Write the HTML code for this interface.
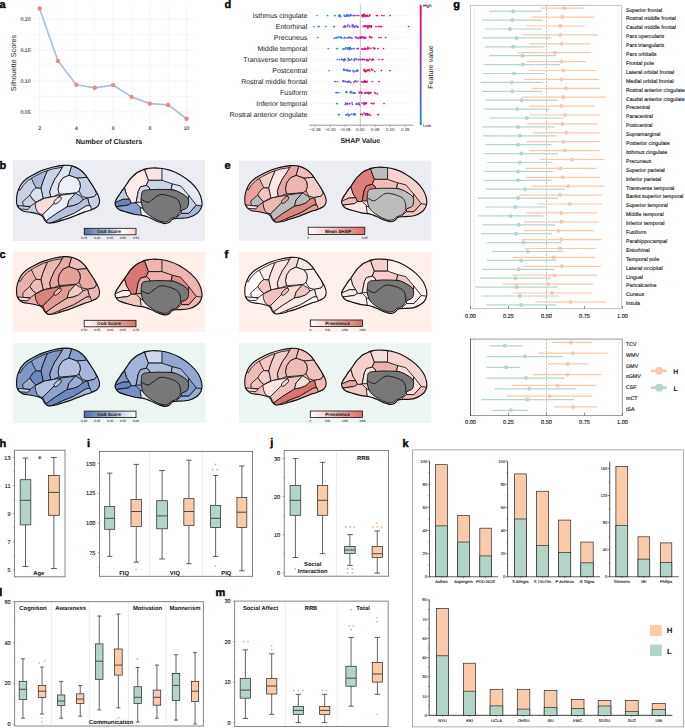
<!DOCTYPE html>
<html><head><meta charset="utf-8"><style>
html,body{margin:0;padding:0;background:#fff;}
svg{display:block;font-family:"Liberation Sans", sans-serif;text-rendering:geometricPrecision;}
</style></head><body>
<svg width="685" height="728" viewBox="0 0 685 728">
<rect x="0" y="0" width="685" height="728" fill="#fff"/>
<text x="-0.60" y="7.60" font-size="11" text-anchor="start" font-weight="bold" fill="#000" stroke="#000" stroke-width="0.35">a</text>
<line x1="57.98" y1="3.00" x2="57.98" y2="123.00" stroke="#f4f4f4" stroke-width="0.6" />
<line x1="94.72" y1="3.00" x2="94.72" y2="123.00" stroke="#f4f4f4" stroke-width="0.6" />
<line x1="131.47" y1="3.00" x2="131.47" y2="123.00" stroke="#f4f4f4" stroke-width="0.6" />
<line x1="168.22" y1="3.00" x2="168.22" y2="123.00" stroke="#f4f4f4" stroke-width="0.6" />
<line x1="33.00" y1="96.50" x2="194.00" y2="96.50" stroke="#f4f4f4" stroke-width="0.6" />
<line x1="33.00" y1="65.50" x2="194.00" y2="65.50" stroke="#f4f4f4" stroke-width="0.6" />
<line x1="33.00" y1="34.50" x2="194.00" y2="34.50" stroke="#f4f4f4" stroke-width="0.6" />
<line x1="33.00" y1="112.00" x2="194.00" y2="112.00" stroke="#ededed" stroke-width="0.6" />
<line x1="33.00" y1="81.00" x2="194.00" y2="81.00" stroke="#ededed" stroke-width="0.6" />
<line x1="33.00" y1="50.00" x2="194.00" y2="50.00" stroke="#ededed" stroke-width="0.6" />
<line x1="33.00" y1="19.00" x2="194.00" y2="19.00" stroke="#ededed" stroke-width="0.6" />
<line x1="39.60" y1="3.00" x2="39.60" y2="123.00" stroke="#ededed" stroke-width="0.6" />
<line x1="76.35" y1="3.00" x2="76.35" y2="123.00" stroke="#ededed" stroke-width="0.6" />
<line x1="113.10" y1="3.00" x2="113.10" y2="123.00" stroke="#ededed" stroke-width="0.6" />
<line x1="149.85" y1="3.00" x2="149.85" y2="123.00" stroke="#ededed" stroke-width="0.6" />
<line x1="186.60" y1="3.00" x2="186.60" y2="123.00" stroke="#ededed" stroke-width="0.6" />
<polyline points="39.60,8.46 57.98,60.91 76.35,84.78 94.72,87.82 113.10,85.09 131.47,96.87 149.85,103.63 168.22,104.93 186.60,118.70" fill="none" stroke="#a8c1df" stroke-width="1.7" stroke-linejoin="round"/>
<circle cx="39.60" cy="8.46" r="2.2" fill="#e98a87" />
<circle cx="57.98" cy="60.91" r="2.2" fill="#e98a87" />
<circle cx="76.35" cy="84.78" r="2.2" fill="#e98a87" />
<circle cx="94.72" cy="87.82" r="2.2" fill="#e98a87" />
<circle cx="113.10" cy="85.09" r="2.2" fill="#e98a87" />
<circle cx="131.47" cy="96.87" r="2.2" fill="#e98a87" />
<circle cx="149.85" cy="103.63" r="2.2" fill="#e98a87" />
<circle cx="168.22" cy="104.93" r="2.2" fill="#e98a87" />
<circle cx="186.60" cy="118.70" r="2.2" fill="#e98a87" />
<text x="30.60" y="113.80" font-size="5.2" text-anchor="end" font-weight="normal" fill="#444" stroke="#444" stroke-width="0.130" >0.05</text>
<text x="30.60" y="82.80" font-size="5.2" text-anchor="end" font-weight="normal" fill="#444" stroke="#444" stroke-width="0.130" >0.10</text>
<text x="30.60" y="51.80" font-size="5.2" text-anchor="end" font-weight="normal" fill="#444" stroke="#444" stroke-width="0.130" >0.15</text>
<text x="30.60" y="20.80" font-size="5.2" text-anchor="end" font-weight="normal" fill="#444" stroke="#444" stroke-width="0.130" >0.20</text>
<text x="39.60" y="129.90" font-size="5.2" text-anchor="middle" font-weight="normal" fill="#444" stroke="#444" stroke-width="0.130" >2</text>
<text x="76.35" y="129.90" font-size="5.2" text-anchor="middle" font-weight="normal" fill="#444" stroke="#444" stroke-width="0.130" >4</text>
<text x="113.10" y="129.90" font-size="5.2" text-anchor="middle" font-weight="normal" fill="#444" stroke="#444" stroke-width="0.130" >6</text>
<text x="149.85" y="129.90" font-size="5.2" text-anchor="middle" font-weight="normal" fill="#444" stroke="#444" stroke-width="0.130" >8</text>
<text x="186.60" y="129.90" font-size="5.2" text-anchor="middle" font-weight="normal" fill="#444" stroke="#444" stroke-width="0.130" >10</text>
<text x="109.00" y="143.80" font-size="7.2" text-anchor="middle" font-weight="bold" fill="#222" >Number of Clusters</text>
<text transform="translate(15.6,63) rotate(-90)" font-size="7.2" text-anchor="middle" fill="#222">Silhouette Scores</text>
<text x="224.60" y="7.60" font-size="11" text-anchor="start" font-weight="bold" fill="#000" stroke="#000" stroke-width="0.35">d</text>
<text x="307.30" y="18.00" font-size="7.0" text-anchor="end" font-weight="normal" fill="#1a1a1a" >Isthmus cingulate</text>
<line x1="309.50" y1="15.50" x2="413.00" y2="15.50" stroke="#e4e4e4" stroke-width="0.5" stroke-dasharray="1,1"/>
<text x="307.30" y="29.00" font-size="7.0" text-anchor="end" font-weight="normal" fill="#1a1a1a" >Entorhinal</text>
<line x1="309.50" y1="26.50" x2="413.00" y2="26.50" stroke="#e4e4e4" stroke-width="0.5" stroke-dasharray="1,1"/>
<text x="307.30" y="40.00" font-size="7.0" text-anchor="end" font-weight="normal" fill="#1a1a1a" >Precuneus</text>
<line x1="309.50" y1="37.50" x2="413.00" y2="37.50" stroke="#e4e4e4" stroke-width="0.5" stroke-dasharray="1,1"/>
<text x="307.30" y="51.00" font-size="7.0" text-anchor="end" font-weight="normal" fill="#1a1a1a" >Middle temporal</text>
<line x1="309.50" y1="48.50" x2="413.00" y2="48.50" stroke="#e4e4e4" stroke-width="0.5" stroke-dasharray="1,1"/>
<text x="307.30" y="62.00" font-size="7.0" text-anchor="end" font-weight="normal" fill="#1a1a1a" >Transverse temporal</text>
<line x1="309.50" y1="59.50" x2="413.00" y2="59.50" stroke="#e4e4e4" stroke-width="0.5" stroke-dasharray="1,1"/>
<text x="307.30" y="73.00" font-size="7.0" text-anchor="end" font-weight="normal" fill="#1a1a1a" >Postcentral</text>
<line x1="309.50" y1="70.50" x2="413.00" y2="70.50" stroke="#e4e4e4" stroke-width="0.5" stroke-dasharray="1,1"/>
<text x="307.30" y="84.00" font-size="7.0" text-anchor="end" font-weight="normal" fill="#1a1a1a" >Rostral middle frontal</text>
<line x1="309.50" y1="81.50" x2="413.00" y2="81.50" stroke="#e4e4e4" stroke-width="0.5" stroke-dasharray="1,1"/>
<text x="307.30" y="95.00" font-size="7.0" text-anchor="end" font-weight="normal" fill="#1a1a1a" >Fusiform</text>
<line x1="309.50" y1="92.50" x2="413.00" y2="92.50" stroke="#e4e4e4" stroke-width="0.5" stroke-dasharray="1,1"/>
<text x="307.30" y="106.00" font-size="7.0" text-anchor="end" font-weight="normal" fill="#1a1a1a" >Inferior temporal</text>
<line x1="309.50" y1="103.50" x2="413.00" y2="103.50" stroke="#e4e4e4" stroke-width="0.5" stroke-dasharray="1,1"/>
<text x="307.30" y="117.00" font-size="7.0" text-anchor="end" font-weight="normal" fill="#1a1a1a" >Rostral anterior cingulate</text>
<line x1="309.50" y1="114.50" x2="413.00" y2="114.50" stroke="#e4e4e4" stroke-width="0.5" stroke-dasharray="1,1"/>
<line x1="360.40" y1="4.50" x2="360.40" y2="125.00" stroke="#cfcfcf" stroke-width="1.2" />
<line x1="309.20" y1="125.20" x2="413.40" y2="125.20" stroke="#555" stroke-width="0.6" />
<line x1="315.30" y1="125.20" x2="315.30" y2="126.80" stroke="#555" stroke-width="0.5" />
<text x="315.30" y="131.20" font-size="4.3" text-anchor="middle" font-weight="normal" fill="#555" stroke="#555" stroke-width="0.107" >−0.15</text>
<line x1="330.30" y1="125.20" x2="330.30" y2="126.80" stroke="#555" stroke-width="0.5" />
<text x="330.30" y="131.20" font-size="4.3" text-anchor="middle" font-weight="normal" fill="#555" stroke="#555" stroke-width="0.107" >−0.10</text>
<line x1="345.30" y1="125.20" x2="345.30" y2="126.80" stroke="#555" stroke-width="0.5" />
<text x="345.30" y="131.20" font-size="4.3" text-anchor="middle" font-weight="normal" fill="#555" stroke="#555" stroke-width="0.107" >−0.05</text>
<line x1="360.30" y1="125.20" x2="360.30" y2="126.80" stroke="#555" stroke-width="0.5" />
<text x="360.30" y="131.20" font-size="4.3" text-anchor="middle" font-weight="normal" fill="#555" stroke="#555" stroke-width="0.107" >0.00</text>
<line x1="375.30" y1="125.20" x2="375.30" y2="126.80" stroke="#555" stroke-width="0.5" />
<text x="375.30" y="131.20" font-size="4.3" text-anchor="middle" font-weight="normal" fill="#555" stroke="#555" stroke-width="0.107" >0.05</text>
<line x1="390.30" y1="125.20" x2="390.30" y2="126.80" stroke="#555" stroke-width="0.5" />
<text x="390.30" y="131.20" font-size="4.3" text-anchor="middle" font-weight="normal" fill="#555" stroke="#555" stroke-width="0.107" >0.10</text>
<line x1="405.30" y1="125.20" x2="405.30" y2="126.80" stroke="#555" stroke-width="0.5" />
<text x="405.30" y="131.20" font-size="4.3" text-anchor="middle" font-weight="normal" fill="#555" stroke="#555" stroke-width="0.107" >0.15</text>
<text x="360.30" y="143.30" font-size="7.05" text-anchor="middle" font-weight="bold" fill="#222" >SHAP Value</text>
<defs><linearGradient id="shapcb" x1="0" y1="0" x2="0" y2="1"><stop offset="0" stop-color="#ff0052"/><stop offset="0.5" stop-color="#8c36d6"/><stop offset="1" stop-color="#1e88e5"/></linearGradient></defs>
<rect x="419.80" y="4.85" width="1.80" height="120.20" fill="url(#shapcb)" stroke="none" stroke-width="0.8" />
<text x="422.90" y="6.90" font-size="4.2" text-anchor="start" font-weight="normal" fill="#333" stroke="#333" stroke-width="0.105" >High</text>
<text x="423.00" y="127.20" font-size="4.2" text-anchor="start" font-weight="normal" fill="#333" stroke="#333" stroke-width="0.105" >Low</text>
<text transform="translate(433.2,67) rotate(-90)" font-size="7.1" text-anchor="middle" fill="#222">Feature value</text>
<circle cx="348.18" cy="58.45" r="0.85" fill="#3d7cec" />
<circle cx="354.12" cy="26.60" r="0.85" fill="#8846df" />
<circle cx="357.45" cy="37.61" r="0.85" fill="#983bda" />
<circle cx="369.68" cy="36.59" r="0.85" fill="#df127c" />
<circle cx="354.15" cy="60.57" r="0.85" fill="#6064e6" />
<circle cx="338.67" cy="114.50" r="0.85" fill="#3d7dec" />
<circle cx="347.97" cy="82.25" r="0.85" fill="#7f4de0" />
<circle cx="357.07" cy="70.84" r="0.85" fill="#516ee9" />
<circle cx="352.05" cy="37.92" r="0.85" fill="#933edc" />
<circle cx="362.02" cy="103.05" r="0.85" fill="#cc1d95" />
<circle cx="340.47" cy="37.19" r="0.85" fill="#3f7cec" />
<circle cx="342.68" cy="59.84" r="0.85" fill="#3c7eec" />
<circle cx="351.62" cy="114.10" r="0.85" fill="#4a73ea" />
<circle cx="355.62" cy="59.22" r="0.85" fill="#417aeb" />
<circle cx="345.68" cy="37.93" r="0.85" fill="#3483ee" />
<circle cx="360.49" cy="38.18" r="0.85" fill="#dd147f" />
<circle cx="357.53" cy="15.50" r="0.85" fill="#ab30c1" />
<circle cx="369.87" cy="14.88" r="0.85" fill="#f9045a" />
<circle cx="346.11" cy="114.77" r="0.85" fill="#5e65e6" />
<circle cx="358.20" cy="48.50" r="0.85" fill="#943ddc" />
<circle cx="359.66" cy="92.42" r="0.85" fill="#fa0358" />
<circle cx="366.77" cy="26.26" r="0.85" fill="#db1582" />
<circle cx="366.11" cy="48.93" r="0.85" fill="#f8045b" />
<circle cx="364.67" cy="80.66" r="0.85" fill="#fb0358" />
<circle cx="378.90" cy="81.50" r="0.85" fill="#ff0052" />
<circle cx="368.37" cy="70.31" r="0.85" fill="#fb0258" />
<circle cx="364.65" cy="26.61" r="0.85" fill="#d51889" />
<circle cx="354.18" cy="15.50" r="0.85" fill="#7256e3" />
<circle cx="346.74" cy="70.20" r="0.85" fill="#4974ea" />
<circle cx="351.33" cy="38.18" r="0.85" fill="#7d4ee1" />
<circle cx="344.76" cy="59.60" r="0.85" fill="#5c66e7" />
<circle cx="345.75" cy="26.53" r="0.85" fill="#7355e2" />
<circle cx="348.67" cy="81.04" r="0.85" fill="#7554e2" />
<circle cx="371.75" cy="37.46" r="0.85" fill="#dc147f" />
<circle cx="362.04" cy="15.25" r="0.85" fill="#ed0a6a" />
<circle cx="352.77" cy="25.17" r="0.85" fill="#a832c5" />
<circle cx="351.51" cy="59.22" r="0.85" fill="#3682ee" />
<circle cx="340.71" cy="16.53" r="0.85" fill="#4279eb" />
<circle cx="364.03" cy="69.61" r="0.85" fill="#e1117a" />
<circle cx="382.52" cy="59.50" r="0.85" fill="#f00865" />
<circle cx="362.87" cy="37.04" r="0.85" fill="#cd1c93" />
<circle cx="344.37" cy="15.80" r="0.85" fill="#4c72e9" />
<circle cx="343.35" cy="80.56" r="0.85" fill="#4676ea" />
<circle cx="366.20" cy="113.65" r="0.85" fill="#e50f74" />
<circle cx="366.49" cy="70.98" r="0.85" fill="#e40f76" />
<circle cx="367.67" cy="114.94" r="0.85" fill="#fa0358" />
<circle cx="364.43" cy="37.06" r="0.85" fill="#d3198c" />
<circle cx="357.26" cy="70.17" r="0.85" fill="#3086ef" />
<circle cx="365.71" cy="37.59" r="0.85" fill="#d4188a" />
<circle cx="368.09" cy="16.34" r="0.85" fill="#e11179" />
<circle cx="352.85" cy="70.87" r="0.85" fill="#5969e7" />
<circle cx="371.14" cy="26.71" r="0.85" fill="#e70e72" />
<circle cx="354.03" cy="48.50" r="0.85" fill="#9140dd" />
<circle cx="351.13" cy="15.23" r="0.85" fill="#3682ed" />
<circle cx="369.65" cy="37.10" r="0.85" fill="#f00966" />
<circle cx="350.09" cy="60.21" r="0.85" fill="#655fe5" />
<circle cx="408.60" cy="26.50" r="0.85" fill="#ff0052" />
<circle cx="336.14" cy="37.91" r="0.85" fill="#4f70e9" />
<circle cx="340.28" cy="16.36" r="0.85" fill="#3e7cec" />
<circle cx="364.73" cy="103.54" r="0.85" fill="#ed0a6a" />
<circle cx="343.08" cy="59.60" r="0.85" fill="#3880ed" />
<circle cx="354.53" cy="93.00" r="0.85" fill="#4478eb" />
<circle cx="349.56" cy="48.71" r="0.85" fill="#2f87ef" />
<circle cx="347.41" cy="15.80" r="0.85" fill="#526ee8" />
<circle cx="367.53" cy="15.69" r="0.85" fill="#e40f75" />
<circle cx="356.31" cy="25.63" r="0.85" fill="#9f37d0" />
<circle cx="356.76" cy="37.33" r="0.85" fill="#8e42dd" />
<circle cx="344.40" cy="59.99" r="0.85" fill="#3682ee" />
<circle cx="345.70" cy="104.31" r="0.85" fill="#973cdb" />
<circle cx="369.24" cy="93.09" r="0.85" fill="#cf1c91" />
<circle cx="350.39" cy="70.53" r="0.85" fill="#3583ee" />
<circle cx="347.73" cy="25.10" r="0.85" fill="#7e4ee0" />
<circle cx="349.63" cy="48.92" r="0.85" fill="#3086ee" />
<circle cx="349.11" cy="59.96" r="0.85" fill="#6461e5" />
<circle cx="378.92" cy="37.50" r="0.85" fill="#ea0c6e" />
<circle cx="334.29" cy="38.37" r="0.85" fill="#407aec" />
<circle cx="364.51" cy="14.41" r="0.85" fill="#ed0b6a" />
<circle cx="367.30" cy="92.89" r="0.85" fill="#ef0968" />
<circle cx="334.39" cy="26.50" r="0.85" fill="#2e88ef" />
<circle cx="348.00" cy="113.64" r="0.85" fill="#5b67e7" />
<circle cx="384.00" cy="103.50" r="0.85" fill="#ff0052" />
<circle cx="363.16" cy="14.56" r="0.85" fill="#e70e71" />
<circle cx="365.23" cy="82.04" r="0.85" fill="#fe0053" />
<circle cx="349.09" cy="115.70" r="0.85" fill="#4776ea" />
<circle cx="353.16" cy="15.50" r="0.85" fill="#8846de" />
<circle cx="368.01" cy="25.74" r="0.85" fill="#e31077" />
<circle cx="379.54" cy="26.50" r="0.85" fill="#ee0a69" />
<circle cx="346.01" cy="91.69" r="0.85" fill="#4974ea" />
<circle cx="345.07" cy="48.88" r="0.85" fill="#298bf0" />
<circle cx="349.15" cy="81.51" r="0.85" fill="#536de8" />
<circle cx="353.72" cy="71.90" r="0.85" fill="#3980ed" />
<circle cx="359.02" cy="59.50" r="0.85" fill="#a931c3" />
<circle cx="385.62" cy="37.50" r="0.85" fill="#f10865" />
<circle cx="359.69" cy="104.79" r="0.85" fill="#6f59e3" />
<circle cx="371.40" cy="27.28" r="0.85" fill="#e70e71" />
<circle cx="361.81" cy="59.50" r="0.85" fill="#8846de" />
<circle cx="348.94" cy="15.80" r="0.85" fill="#3583ee" />
<circle cx="341.31" cy="37.68" r="0.85" fill="#546ce8" />
<circle cx="363.17" cy="26.35" r="0.85" fill="#e70d71" />
<circle cx="369.77" cy="59.16" r="0.85" fill="#f5065f" />
<circle cx="357.62" cy="70.76" r="0.85" fill="#3086ef" />
<circle cx="325.83" cy="26.50" r="0.85" fill="#288cf0" />
<circle cx="375.84" cy="93.46" r="0.85" fill="#ae2ebc" />
<circle cx="336.18" cy="92.50" r="0.85" fill="#2f87ef" />
<circle cx="348.29" cy="37.41" r="0.85" fill="#3a7fed" />
<circle cx="346.58" cy="115.26" r="0.85" fill="#665fe5" />
<circle cx="368.81" cy="93.61" r="0.85" fill="#eb0c6d" />
<circle cx="350.24" cy="47.40" r="0.85" fill="#4378eb" />
<circle cx="378.36" cy="114.50" r="0.85" fill="#ff0052" />
<circle cx="346.06" cy="114.48" r="0.85" fill="#6b5be4" />
<circle cx="343.26" cy="81.51" r="0.85" fill="#4f6fe9" />
<circle cx="318.22" cy="26.50" r="0.85" fill="#288cf0" />
<circle cx="353.83" cy="114.88" r="0.85" fill="#6262e5" />
<circle cx="343.38" cy="48.82" r="0.85" fill="#298bf0" />
<circle cx="347.79" cy="81.96" r="0.85" fill="#834adf" />
<circle cx="358.00" cy="104.35" r="0.85" fill="#4874ea" />
<circle cx="345.74" cy="47.87" r="0.85" fill="#3086ef" />
<circle cx="371.61" cy="69.16" r="0.85" fill="#fd0155" />
<circle cx="347.23" cy="69.94" r="0.85" fill="#4d71e9" />
<circle cx="355.70" cy="15.50" r="0.85" fill="#963cdc" />
<circle cx="365.41" cy="114.87" r="0.85" fill="#c5219e" />
<circle cx="354.71" cy="114.12" r="0.85" fill="#675ee5" />
<circle cx="378.13" cy="114.50" r="0.85" fill="#ff0052" />
<circle cx="362.56" cy="16.02" r="0.85" fill="#e21179" />
<circle cx="372.60" cy="70.19" r="0.85" fill="#e21078" />
<circle cx="343.04" cy="49.01" r="0.85" fill="#3186ee" />
<circle cx="343.94" cy="81.29" r="0.85" fill="#8846df" />
<circle cx="358.26" cy="59.50" r="0.85" fill="#963cdc" />
<circle cx="368.71" cy="48.06" r="0.85" fill="#e90d70" />
<circle cx="344.27" cy="15.46" r="0.85" fill="#4974ea" />
<circle cx="362.39" cy="59.41" r="0.85" fill="#f30762" />
<circle cx="370.00" cy="92.55" r="0.85" fill="#d4198a" />
<circle cx="353.42" cy="48.50" r="0.85" fill="#923fdd" />
<circle cx="368.04" cy="26.33" r="0.85" fill="#df127b" />
<circle cx="365.18" cy="103.00" r="0.85" fill="#ff0053" />
<circle cx="349.52" cy="49.60" r="0.85" fill="#3d7dec" />
<circle cx="370.55" cy="115.36" r="0.85" fill="#bd26a8" />
<circle cx="371.26" cy="25.78" r="0.85" fill="#ea0c6e" />
<circle cx="373.53" cy="47.85" r="0.85" fill="#f30762" />
<circle cx="339.56" cy="59.50" r="0.85" fill="#2e87ef" />
<circle cx="367.55" cy="26.79" r="0.85" fill="#eb0c6d" />
<circle cx="362.00" cy="15.67" r="0.85" fill="#e40f75" />
<circle cx="361.52" cy="81.79" r="0.85" fill="#fd0154" />
<circle cx="328.30" cy="48.50" r="0.85" fill="#288cf0" />
<circle cx="355.55" cy="80.61" r="0.85" fill="#7851e1" />
<circle cx="343.04" cy="81.05" r="0.85" fill="#417aeb" />
<circle cx="339.08" cy="92.50" r="0.85" fill="#298bf0" />
<circle cx="350.67" cy="91.46" r="0.85" fill="#4776ea" />
<circle cx="338.87" cy="16.12" r="0.85" fill="#3e7cec" />
<circle cx="364.75" cy="70.46" r="0.85" fill="#fc0256" />
<circle cx="349.90" cy="81.94" r="0.85" fill="#9041dd" />
<circle cx="336.33" cy="92.50" r="0.85" fill="#397fed" />
<circle cx="364.65" cy="38.37" r="0.85" fill="#fc0257" />
<circle cx="367.70" cy="114.89" r="0.85" fill="#c6209c" />
<circle cx="351.22" cy="92.36" r="0.85" fill="#4775ea" />
<circle cx="348.48" cy="115.21" r="0.85" fill="#6f59e3" />
<circle cx="371.19" cy="25.73" r="0.85" fill="#e41076" />
<circle cx="347.47" cy="103.43" r="0.85" fill="#7058e3" />
<circle cx="349.70" cy="103.46" r="0.85" fill="#8d43de" />
<circle cx="366.22" cy="82.14" r="0.85" fill="#fc0256" />
<circle cx="390.09" cy="15.50" r="0.85" fill="#ed0a69" />
<circle cx="364.05" cy="38.19" r="0.85" fill="#e40f75" />
<circle cx="343.65" cy="69.10" r="0.85" fill="#3980ed" />
<circle cx="350.88" cy="15.47" r="0.85" fill="#3583ee" />
<circle cx="367.49" cy="60.52" r="0.85" fill="#ec0b6b" />
<circle cx="355.30" cy="37.12" r="0.85" fill="#7a50e1" />
<circle cx="354.36" cy="81.25" r="0.85" fill="#7355e2" />
<circle cx="346.63" cy="92.05" r="0.85" fill="#3483ee" />
<circle cx="367.94" cy="27.90" r="0.85" fill="#db1582" />
<circle cx="372.35" cy="59.44" r="0.85" fill="#de137d" />
<circle cx="362.05" cy="48.51" r="0.85" fill="#ea0c6e" />
<circle cx="343.94" cy="48.92" r="0.85" fill="#4478eb" />
<circle cx="354.53" cy="70.92" r="0.85" fill="#3880ed" />
<circle cx="356.34" cy="103.28" r="0.85" fill="#4974ea" />
<circle cx="349.75" cy="48.12" r="0.85" fill="#3e7cec" />
<circle cx="345.47" cy="59.53" r="0.85" fill="#3880ed" />
<circle cx="374.39" cy="48.81" r="0.85" fill="#db1582" />
<circle cx="347.67" cy="37.96" r="0.85" fill="#4c72e9" />
<circle cx="336.06" cy="37.28" r="0.85" fill="#2d88ef" />
<circle cx="365.06" cy="92.52" r="0.85" fill="#b52ab3" />
<circle cx="365.32" cy="16.38" r="0.85" fill="#f10864" />
<circle cx="374.78" cy="71.49" r="0.85" fill="#e31076" />
<circle cx="366.55" cy="81.91" r="0.85" fill="#f5065f" />
<circle cx="373.45" cy="59.59" r="0.85" fill="#f9045a" />
<circle cx="354.83" cy="58.96" r="0.85" fill="#3a7fed" />
<circle cx="343.99" cy="60.87" r="0.85" fill="#4279eb" />
<circle cx="338.91" cy="15.64" r="0.85" fill="#4776ea" />
<circle cx="383.45" cy="48.50" r="0.85" fill="#ed0b6a" />
<circle cx="349.44" cy="48.09" r="0.85" fill="#4577eb" />
<circle cx="353.58" cy="25.46" r="0.85" fill="#7057e3" />
<circle cx="343.57" cy="26.77" r="0.85" fill="#a434ca" />
<circle cx="344.58" cy="58.64" r="0.85" fill="#3682ee" />
<circle cx="339.09" cy="37.10" r="0.85" fill="#3186ee" />
<circle cx="353.41" cy="15.50" r="0.85" fill="#9c38d4" />
<circle cx="339.67" cy="59.50" r="0.85" fill="#3881ed" />
<circle cx="361.66" cy="93.39" r="0.85" fill="#cd1d94" />
<circle cx="348.93" cy="48.49" r="0.85" fill="#2a8af0" />
<circle cx="345.70" cy="81.47" r="0.85" fill="#8548df" />
<circle cx="371.47" cy="37.66" r="0.85" fill="#fe0154" />
<circle cx="361.94" cy="92.62" r="0.85" fill="#eb0b6c" />
<circle cx="349.42" cy="103.74" r="0.85" fill="#9c39d4" />
<circle cx="378.01" cy="48.50" r="0.85" fill="#fa0359" />
<circle cx="349.55" cy="70.89" r="0.85" fill="#4d71e9" />
<circle cx="370.74" cy="48.28" r="0.85" fill="#f20763" />
<circle cx="348.03" cy="47.86" r="0.85" fill="#3d7dec" />
<circle cx="319.17" cy="26.50" r="0.85" fill="#288cf0" />
<circle cx="317.80" cy="37.50" r="0.85" fill="#288cf0" />
<circle cx="367.31" cy="70.55" r="0.85" fill="#d51889" />
<circle cx="363.84" cy="49.27" r="0.85" fill="#eb0b6c" />
<circle cx="358.92" cy="103.79" r="0.85" fill="#814be0" />
<circle cx="369.78" cy="37.27" r="0.85" fill="#f8045b" />
<circle cx="350.06" cy="114.70" r="0.85" fill="#4379eb" />
<circle cx="374.77" cy="92.67" r="0.85" fill="#f10865" />
<circle cx="333.73" cy="26.50" r="0.85" fill="#2c89ef" />
<circle cx="367.84" cy="47.10" r="0.85" fill="#e0127a" />
<circle cx="327.50" cy="15.50" r="0.85" fill="#288cf0" />
<circle cx="350.04" cy="92.35" r="0.85" fill="#3b7eed" />
<circle cx="345.32" cy="104.47" r="0.85" fill="#933edd" />
<circle cx="354.25" cy="93.21" r="0.85" fill="#3980ed" />
<circle cx="357.74" cy="26.88" r="0.85" fill="#a036cf" />
<circle cx="365.23" cy="15.83" r="0.85" fill="#fb0257" />
<circle cx="339.05" cy="15.65" r="0.85" fill="#2c89ef" />
<circle cx="366.70" cy="59.49" r="0.85" fill="#fc0256" />
<circle cx="352.23" cy="26.70" r="0.85" fill="#a434c9" />
<circle cx="351.86" cy="48.84" r="0.85" fill="#2d88ef" />
<circle cx="356.21" cy="37.64" r="0.85" fill="#7a51e1" />
<circle cx="364.96" cy="82.00" r="0.85" fill="#ce1c93" />
<circle cx="364.12" cy="104.56" r="0.85" fill="#f20864" />
<circle cx="344.52" cy="69.98" r="0.85" fill="#4577eb" />
<circle cx="347.22" cy="82.21" r="0.85" fill="#6163e6" />
<circle cx="347.95" cy="60.76" r="0.85" fill="#3f7bec" />
<circle cx="355.37" cy="113.99" r="0.85" fill="#6361e5" />
<circle cx="334.61" cy="15.50" r="0.85" fill="#2c89ef" />
<circle cx="346.66" cy="15.68" r="0.85" fill="#397fed" />
<circle cx="364.49" cy="69.55" r="0.85" fill="#d61787" />
<circle cx="369.84" cy="25.73" r="0.85" fill="#fb0257" />
<circle cx="356.37" cy="59.50" r="0.85" fill="#923fdd" />
<circle cx="364.80" cy="81.94" r="0.85" fill="#e90d6f" />
<circle cx="347.20" cy="26.56" r="0.85" fill="#7058e3" />
<circle cx="378.90" cy="59.50" r="0.85" fill="#ef0967" />
<circle cx="372.75" cy="59.49" r="0.85" fill="#e90d6f" />
<circle cx="346.10" cy="103.65" r="0.85" fill="#4e70e9" />
<circle cx="350.52" cy="92.72" r="0.85" fill="#566ae8" />
<circle cx="349.60" cy="70.62" r="0.85" fill="#4e71e9" />
<circle cx="367.04" cy="114.39" r="0.85" fill="#f20763" />
<circle cx="344.74" cy="37.29" r="0.85" fill="#4577eb" />
<circle cx="349.13" cy="25.52" r="0.85" fill="#6d5ae4" />
<circle cx="374.72" cy="48.25" r="0.85" fill="#fc0256" />
<circle cx="354.42" cy="27.00" r="0.85" fill="#7951e1" />
<circle cx="355.98" cy="59.09" r="0.85" fill="#536ce8" />
<circle cx="363.59" cy="15.41" r="0.85" fill="#e70e72" />
<circle cx="363.59" cy="82.37" r="0.85" fill="#d01b8f" />
<circle cx="364.10" cy="15.10" r="0.85" fill="#ef0967" />
<circle cx="365.48" cy="71.70" r="0.85" fill="#fd0154" />
<circle cx="368.55" cy="92.28" r="0.85" fill="#e0127b" />
<circle cx="337.25" cy="103.50" r="0.85" fill="#3880ed" />
<circle cx="362.95" cy="81.63" r="0.85" fill="#c91f99" />
<circle cx="383.92" cy="15.50" r="0.85" fill="#f40660" />
<circle cx="361.34" cy="37.60" r="0.85" fill="#d01b8f" />
<circle cx="370.06" cy="26.41" r="0.85" fill="#d91583" />
<circle cx="356.31" cy="71.30" r="0.85" fill="#506fe9" />
<circle cx="348.78" cy="37.78" r="0.85" fill="#4b73ea" />
<circle cx="361.11" cy="114.13" r="0.85" fill="#f7045c" />
<circle cx="337.70" cy="81.50" r="0.85" fill="#3186ee" />
<circle cx="335.64" cy="81.50" r="0.85" fill="#3d7dec" />
<circle cx="364.45" cy="103.10" r="0.85" fill="#eb0b6c" />
<circle cx="389.80" cy="70.50" r="0.85" fill="#ff0052" />
<circle cx="381.30" cy="70.50" r="0.85" fill="#ff0052" />
<circle cx="337.42" cy="48.50" r="0.85" fill="#288cf0" />
<circle cx="358.25" cy="38.47" r="0.85" fill="#d81686" />
<circle cx="367.57" cy="27.52" r="0.85" fill="#ed0b6a" />
<circle cx="357.30" cy="70.66" r="0.85" fill="#4378eb" />
<circle cx="337.98" cy="37.45" r="0.85" fill="#2a8bf0" />
<circle cx="363.31" cy="59.42" r="0.85" fill="#db1481" />
<circle cx="347.40" cy="47.85" r="0.85" fill="#288cf0" />
<circle cx="365.39" cy="92.88" r="0.85" fill="#d71787" />
<circle cx="362.36" cy="114.67" r="0.85" fill="#ea0c6e" />
<circle cx="345.81" cy="103.14" r="0.85" fill="#8c43de" />
<circle cx="358.48" cy="59.50" r="0.85" fill="#a235cc" />
<circle cx="368.27" cy="60.40" r="0.85" fill="#f20864" />
<circle cx="364.90" cy="25.69" r="0.85" fill="#e0127b" />
<circle cx="347.54" cy="49.06" r="0.85" fill="#4478eb" />
<circle cx="366.80" cy="59.95" r="0.85" fill="#e80d71" />
<circle cx="357.10" cy="26.65" r="0.85" fill="#973cdb" />
<circle cx="343.96" cy="70.08" r="0.85" fill="#4d71e9" />
<circle cx="369.44" cy="114.47" r="0.85" fill="#ac2fbf" />
<circle cx="352.02" cy="102.72" r="0.85" fill="#7d4ee1" />
<circle cx="363.79" cy="102.84" r="0.85" fill="#eb0c6c" />
<circle cx="369.19" cy="69.50" r="0.85" fill="#d71786" />
<circle cx="344.79" cy="25.97" r="0.85" fill="#9d38d3" />
<circle cx="371.91" cy="59.95" r="0.85" fill="#f9035a" />
<circle cx="341.68" cy="38.23" r="0.85" fill="#2b8aef" />
<circle cx="365.01" cy="48.37" r="0.85" fill="#fb0258" />
<circle cx="377.49" cy="93.79" r="0.85" fill="#d4198b" />
<circle cx="346.48" cy="69.79" r="0.85" fill="#5d65e6" />
<circle cx="367.27" cy="70.15" r="0.85" fill="#fd0154" />
<circle cx="354.50" cy="59.19" r="0.85" fill="#6a5ce4" />
<circle cx="362.27" cy="37.32" r="0.85" fill="#f20763" />
<circle cx="336.60" cy="48.50" r="0.85" fill="#288cf0" />
<circle cx="338.48" cy="114.50" r="0.85" fill="#3682ed" />
<circle cx="364.73" cy="48.69" r="0.85" fill="#fd0155" />
<circle cx="347.58" cy="15.29" r="0.85" fill="#3880ed" />
<circle cx="358.64" cy="104.06" r="0.85" fill="#536de8" />
<circle cx="373.81" cy="103.23" r="0.85" fill="#e90c6f" />
<circle cx="337.17" cy="59.50" r="0.85" fill="#3186ee" />
<circle cx="341.63" cy="59.19" r="0.85" fill="#6163e6" />
<circle cx="346.97" cy="92.52" r="0.85" fill="#5b67e7" />
<circle cx="356.97" cy="48.50" r="0.85" fill="#814be0" />
<circle cx="349.15" cy="47.86" r="0.85" fill="#3f7bec" />
<circle cx="377.46" cy="15.50" r="0.85" fill="#ec0b6b" />
<circle cx="334.68" cy="81.50" r="0.85" fill="#3185ee" />
<circle cx="354.97" cy="93.10" r="0.85" fill="#4775ea" />
<circle cx="366.64" cy="15.23" r="0.85" fill="#f30762" />
<circle cx="376.39" cy="15.50" r="0.85" fill="#fe0153" />
<circle cx="368.85" cy="26.64" r="0.85" fill="#eb0b6c" />
<circle cx="346.37" cy="70.45" r="0.85" fill="#546ce8" />
<circle cx="340.61" cy="37.09" r="0.85" fill="#298bf0" />
<circle cx="337.61" cy="37.58" r="0.85" fill="#2b8aef" />
<circle cx="360.29" cy="37.04" r="0.85" fill="#cf1b91" />
<circle cx="354.71" cy="27.28" r="0.85" fill="#6a5ce4" />
<circle cx="357.81" cy="81.35" r="0.85" fill="#556be8" />
<circle cx="347.67" cy="103.94" r="0.85" fill="#8f41dd" />
<circle cx="344.25" cy="69.49" r="0.85" fill="#2b8aef" />
<circle cx="359.47" cy="92.77" r="0.85" fill="#dd137e" />
<circle cx="356.15" cy="81.85" r="0.85" fill="#7157e3" />
<circle cx="356.91" cy="71.03" r="0.85" fill="#3483ee" />
<circle cx="367.26" cy="26.15" r="0.85" fill="#f30761" />
<circle cx="360.94" cy="114.52" r="0.85" fill="#b42bb5" />
<circle cx="362.91" cy="16.71" r="0.85" fill="#eb0b6c" />
<circle cx="343.82" cy="70.21" r="0.85" fill="#4378eb" />
<circle cx="358.37" cy="48.50" r="0.85" fill="#a832c5" />
<circle cx="334.95" cy="15.50" r="0.85" fill="#298bf0" />
<circle cx="358.75" cy="15.50" r="0.85" fill="#7d4ee1" />
<circle cx="365.15" cy="92.95" r="0.85" fill="#f7055d" />
<circle cx="381.53" cy="26.50" r="0.85" fill="#f6055e" />
<circle cx="348.31" cy="70.90" r="0.85" fill="#3185ee" />
<circle cx="317.00" cy="15.50" r="0.85" fill="#288cf0" />
<circle cx="370.84" cy="92.38" r="0.85" fill="#d11b8f" />
<circle cx="365.64" cy="26.10" r="0.85" fill="#df127c" />
<circle cx="366.28" cy="92.61" r="0.85" fill="#d61888" />
<circle cx="350.84" cy="82.73" r="0.85" fill="#5b67e7" />
<circle cx="363.88" cy="15.39" r="0.85" fill="#e50f75" />
<circle cx="344.04" cy="37.78" r="0.85" fill="#4a73ea" />
<circle cx="353.82" cy="82.49" r="0.85" fill="#8647df" />
<circle cx="364.36" cy="70.89" r="0.85" fill="#e60e73" />
<circle cx="356.85" cy="103.48" r="0.85" fill="#516ee9" />
<circle cx="364.79" cy="59.76" r="0.85" fill="#fc0256" />
<circle cx="347.31" cy="48.52" r="0.85" fill="#3f7cec" />
<circle cx="352.44" cy="104.44" r="0.85" fill="#7752e2" />
<circle cx="357.96" cy="70.32" r="0.85" fill="#5b67e7" />
<circle cx="360.50" cy="59.50" r="0.85" fill="#9b39d5" />
<circle cx="360.77" cy="91.85" r="0.85" fill="#d3198c" />
<circle cx="351.72" cy="59.51" r="0.85" fill="#4c72e9" />
<circle cx="368.25" cy="114.42" r="0.85" fill="#d71787" />
<circle cx="372.40" cy="81.50" r="0.85" fill="#ea0c6e" />
<circle cx="354.13" cy="114.46" r="0.85" fill="#3f7cec" />
<circle cx="382.45" cy="59.50" r="0.85" fill="#f9045a" />
<circle cx="348.02" cy="70.55" r="0.85" fill="#556be8" />
<circle cx="367.32" cy="81.42" r="0.85" fill="#c323a1" />
<circle cx="349.60" cy="48.97" r="0.85" fill="#4379eb" />
<circle cx="362.23" cy="49.17" r="0.85" fill="#e80d70" />
<circle cx="350.60" cy="14.63" r="0.85" fill="#526ee8" />
<circle cx="359.82" cy="37.47" r="0.85" fill="#ce1c92" />
<circle cx="350.16" cy="37.29" r="0.85" fill="#923fdd" />
<circle cx="357.50" cy="48.50" r="0.85" fill="#8548df" />
<circle cx="340.16" cy="15.10" r="0.85" fill="#2d88ef" />
<circle cx="360.82" cy="37.66" r="0.85" fill="#db1581" />
<circle cx="348.92" cy="59.08" r="0.85" fill="#4974ea" />
<circle cx="350.18" cy="47.76" r="0.85" fill="#417aec" />
<circle cx="351.03" cy="48.81" r="0.85" fill="#3d7dec" />
<circle cx="381.02" cy="37.50" r="0.85" fill="#ef0967" />
<circle cx="366.26" cy="103.51" r="0.85" fill="#d01b90" />
<circle cx="353.20" cy="92.99" r="0.85" fill="#4974ea" />
<circle cx="364.27" cy="15.30" r="0.85" fill="#ea0c6d" />
<circle cx="349.80" cy="26.64" r="0.85" fill="#7a50e1" />
<circle cx="369.64" cy="15.73" r="0.85" fill="#ff0052" />
<circle cx="329.10" cy="70.50" r="0.85" fill="#288cf0" />
<circle cx="361.39" cy="37.07" r="0.85" fill="#da1583" />
<circle cx="365.04" cy="103.83" r="0.85" fill="#ec0b6b" />
<circle cx="345.91" cy="92.23" r="0.85" fill="#3c7dec" />
<circle cx="365.53" cy="16.18" r="0.85" fill="#ec0b6b" />
<circle cx="353.42" cy="113.83" r="0.85" fill="#516ee9" />
<circle cx="372.75" cy="103.80" r="0.85" fill="#d11a8e" />
<circle cx="345.88" cy="16.28" r="0.85" fill="#4f70e9" />
<circle cx="367.07" cy="113.61" r="0.85" fill="#f30762" />
<circle cx="381.01" cy="26.50" r="0.85" fill="#fd0154" />
<circle cx="376.08" cy="26.50" r="0.85" fill="#f10864" />
<circle cx="349.52" cy="37.29" r="0.85" fill="#9b39d6" />
<circle cx="364.10" cy="113.10" r="0.85" fill="#f20864" />
<circle cx="367.86" cy="48.85" r="0.85" fill="#e21179" />
<circle cx="358.82" cy="102.90" r="0.85" fill="#4477eb" />
<circle cx="366.29" cy="102.81" r="0.85" fill="#d61788" />
<circle cx="355.41" cy="114.56" r="0.85" fill="#3c7dec" />
<circle cx="370.03" cy="93.06" r="0.85" fill="#f00865" />
<circle cx="369.68" cy="70.84" r="0.85" fill="#e50f75" />
<circle cx="378.27" cy="26.50" r="0.85" fill="#ef0968" />
<circle cx="368.06" cy="48.81" r="0.85" fill="#da1583" />
<circle cx="339.22" cy="114.50" r="0.85" fill="#2b8aef" />
<circle cx="345.19" cy="81.51" r="0.85" fill="#546ce8" />
<circle cx="362.73" cy="16.27" r="0.85" fill="#ee0a69" />
<circle cx="346.70" cy="14.74" r="0.85" fill="#3c7dec" />
<circle cx="371.18" cy="103.24" r="0.85" fill="#e21178" />
<circle cx="366.94" cy="16.01" r="0.85" fill="#fb0257" />
<circle cx="337.12" cy="103.50" r="0.85" fill="#3682ed" />
<circle cx="365.20" cy="114.04" r="0.85" fill="#d01b90" />
<circle cx="351.95" cy="92.39" r="0.85" fill="#4a74ea" />
<circle cx="354.02" cy="92.56" r="0.85" fill="#4a73ea" />
<circle cx="359.25" cy="92.26" r="0.85" fill="#b62ab2" />
<circle cx="357.80" cy="26.96" r="0.85" fill="#a832c5" />
<circle cx="349.47" cy="15.72" r="0.85" fill="#417aeb" />
<circle cx="344.80" cy="16.23" r="0.85" fill="#3582ee" />
<circle cx="348.21" cy="15.19" r="0.85" fill="#3b7eed" />
<circle cx="356.22" cy="104.17" r="0.85" fill="#7157e3" />
<circle cx="344.47" cy="26.89" r="0.85" fill="#8f41dd" />
<circle cx="349.66" cy="47.91" r="0.85" fill="#4875ea" />
<circle cx="352.17" cy="25.10" r="0.85" fill="#7a50e1" />
<circle cx="337.32" cy="92.50" r="0.85" fill="#3781ed" />
<circle cx="381.82" cy="15.50" r="0.85" fill="#f00966" />
<circle cx="313.80" cy="26.50" r="0.85" fill="#288cf0" />
<circle cx="338.89" cy="15.44" r="0.85" fill="#3185ee" />
<circle cx="349.92" cy="15.53" r="0.85" fill="#4776ea" />
<circle cx="354.59" cy="26.61" r="0.85" fill="#665fe5" />
<text x="453.20" y="7.70" font-size="11" text-anchor="start" font-weight="bold" fill="#000" stroke="#000" stroke-width="0.35">g</text>
<line x1="474.30" y1="5.40" x2="474.30" y2="308.40" stroke="#c4c4c4" stroke-width="0.5" stroke-dasharray="1.6,1.2"/>
<line x1="546.50" y1="5.40" x2="546.50" y2="308.40" stroke="#9a9a9a" stroke-width="0.6" stroke-dasharray="2.2,1.4"/>
<line x1="618.30" y1="5.40" x2="618.30" y2="308.40" stroke="#c4c4c4" stroke-width="0.5" stroke-dasharray="1.2,1.0"/>
<line x1="540.00" y1="8.20" x2="583.70" y2="8.20" stroke="#f9c8ab" stroke-width="1.2" />
<circle cx="564.10" cy="8.20" r="2.0" fill="#f9c8ab" />
<line x1="489.00" y1="11.20" x2="541.30" y2="11.20" stroke="#b4d6cb" stroke-width="1.2" />
<circle cx="513.10" cy="11.20" r="2.0" fill="#b4d6cb" />
<text x="625.90" y="11.50" font-size="5.3" text-anchor="start" font-weight="normal" fill="#1a1a1a" stroke="#1a1a1a" stroke-width="0.133" >Superior frontal</text>
<line x1="531.30" y1="17.10" x2="593.70" y2="17.10" stroke="#f9c8ab" stroke-width="1.2" />
<circle cx="562.30" cy="17.10" r="2.0" fill="#f9c8ab" />
<line x1="482.10" y1="20.10" x2="542.70" y2="20.10" stroke="#b4d6cb" stroke-width="1.2" />
<circle cx="512.40" cy="20.10" r="2.0" fill="#b4d6cb" />
<text x="625.90" y="20.40" font-size="5.3" text-anchor="start" font-weight="normal" fill="#1a1a1a" stroke="#1a1a1a" stroke-width="0.133" >Rostral middle frontal</text>
<line x1="526.80" y1="26.00" x2="585.10" y2="26.00" stroke="#f9c8ab" stroke-width="1.2" />
<circle cx="560.50" cy="26.00" r="2.0" fill="#f9c8ab" />
<line x1="484.90" y1="29.00" x2="542.20" y2="29.00" stroke="#b4d6cb" stroke-width="1.2" />
<circle cx="509.90" cy="29.00" r="2.0" fill="#b4d6cb" />
<text x="625.90" y="29.30" font-size="5.3" text-anchor="start" font-weight="normal" fill="#1a1a1a" stroke="#1a1a1a" stroke-width="0.133" >Caudal middle frontal</text>
<line x1="523.10" y1="34.90" x2="598.00" y2="34.90" stroke="#f9c8ab" stroke-width="1.2" />
<circle cx="560.50" cy="34.90" r="2.0" fill="#f9c8ab" />
<line x1="482.10" y1="37.90" x2="550.90" y2="37.90" stroke="#b4d6cb" stroke-width="1.2" />
<circle cx="516.50" cy="37.90" r="2.0" fill="#b4d6cb" />
<text x="625.90" y="38.20" font-size="5.3" text-anchor="start" font-weight="normal" fill="#1a1a1a" stroke="#1a1a1a" stroke-width="0.133" >Pars opercularis</text>
<line x1="529.00" y1="43.80" x2="591.00" y2="43.80" stroke="#f9c8ab" stroke-width="1.2" />
<circle cx="561.60" cy="43.80" r="2.0" fill="#f9c8ab" />
<line x1="484.90" y1="46.80" x2="544.50" y2="46.80" stroke="#b4d6cb" stroke-width="1.2" />
<circle cx="513.10" cy="46.80" r="2.0" fill="#b4d6cb" />
<text x="625.90" y="47.10" font-size="5.3" text-anchor="start" font-weight="normal" fill="#1a1a1a" stroke="#1a1a1a" stroke-width="0.133" >Pars triangularis</text>
<line x1="518.10" y1="52.70" x2="591.20" y2="52.70" stroke="#f9c8ab" stroke-width="1.2" />
<circle cx="554.80" cy="52.70" r="2.0" fill="#f9c8ab" />
<line x1="489.00" y1="55.70" x2="556.40" y2="55.70" stroke="#b4d6cb" stroke-width="1.2" />
<circle cx="522.40" cy="55.70" r="2.0" fill="#b4d6cb" />
<text x="625.90" y="56.00" font-size="5.3" text-anchor="start" font-weight="normal" fill="#1a1a1a" stroke="#1a1a1a" stroke-width="0.133" >Pars orbitalis</text>
<line x1="526.80" y1="61.60" x2="585.70" y2="61.60" stroke="#f9c8ab" stroke-width="1.2" />
<circle cx="561.60" cy="61.60" r="2.0" fill="#f9c8ab" />
<line x1="483.50" y1="64.60" x2="560.00" y2="64.60" stroke="#b4d6cb" stroke-width="1.2" />
<circle cx="522.70" cy="64.60" r="2.0" fill="#b4d6cb" />
<text x="625.90" y="64.90" font-size="5.3" text-anchor="start" font-weight="normal" fill="#1a1a1a" stroke="#1a1a1a" stroke-width="0.133" >Frontal pole</text>
<line x1="529.50" y1="70.50" x2="596.70" y2="70.50" stroke="#f9c8ab" stroke-width="1.2" />
<circle cx="563.20" cy="70.50" r="2.0" fill="#f9c8ab" />
<line x1="483.00" y1="73.50" x2="545.00" y2="73.50" stroke="#b4d6cb" stroke-width="1.2" />
<circle cx="514.00" cy="73.50" r="2.0" fill="#b4d6cb" />
<text x="625.90" y="73.80" font-size="5.3" text-anchor="start" font-weight="normal" fill="#1a1a1a" stroke="#1a1a1a" stroke-width="0.133" >Lateral orbital frontal</text>
<line x1="524.00" y1="79.40" x2="599.00" y2="79.40" stroke="#f9c8ab" stroke-width="1.2" />
<circle cx="561.40" cy="79.40" r="2.0" fill="#f9c8ab" />
<line x1="480.50" y1="82.40" x2="543.20" y2="82.40" stroke="#b4d6cb" stroke-width="1.2" />
<circle cx="511.70" cy="82.40" r="2.0" fill="#b4d6cb" />
<text x="625.90" y="82.70" font-size="5.3" text-anchor="start" font-weight="normal" fill="#1a1a1a" stroke="#1a1a1a" stroke-width="0.133" >Medial orbital frontal</text>
<line x1="531.80" y1="88.30" x2="600.10" y2="88.30" stroke="#f9c8ab" stroke-width="1.2" />
<circle cx="565.90" cy="88.30" r="2.0" fill="#f9c8ab" />
<line x1="482.10" y1="91.30" x2="542.70" y2="91.30" stroke="#b4d6cb" stroke-width="1.2" />
<circle cx="512.20" cy="91.30" r="2.0" fill="#b4d6cb" />
<text x="625.90" y="91.60" font-size="5.3" text-anchor="start" font-weight="normal" fill="#1a1a1a" stroke="#1a1a1a" stroke-width="0.133" >Rostral anterior cingulate</text>
<line x1="521.30" y1="97.20" x2="605.60" y2="97.20" stroke="#f9c8ab" stroke-width="1.2" />
<circle cx="563.20" cy="97.20" r="2.0" fill="#f9c8ab" />
<line x1="485.80" y1="100.20" x2="558.00" y2="100.20" stroke="#b4d6cb" stroke-width="1.2" />
<circle cx="521.70" cy="100.20" r="2.0" fill="#b4d6cb" />
<text x="625.90" y="100.50" font-size="5.3" text-anchor="start" font-weight="normal" fill="#1a1a1a" stroke="#1a1a1a" stroke-width="0.133" >Caudal anterior cingulate</text>
<line x1="529.00" y1="106.10" x2="594.60" y2="106.10" stroke="#f9c8ab" stroke-width="1.2" />
<circle cx="561.40" cy="106.10" r="2.0" fill="#f9c8ab" />
<line x1="484.40" y1="109.10" x2="549.50" y2="109.10" stroke="#b4d6cb" stroke-width="1.2" />
<circle cx="517.00" cy="109.10" r="2.0" fill="#b4d6cb" />
<text x="625.90" y="109.40" font-size="5.3" text-anchor="start" font-weight="normal" fill="#1a1a1a" stroke="#1a1a1a" stroke-width="0.133" >Precentral</text>
<line x1="529.50" y1="115.00" x2="600.10" y2="115.00" stroke="#f9c8ab" stroke-width="1.2" />
<circle cx="565.00" cy="115.00" r="2.0" fill="#f9c8ab" />
<line x1="489.40" y1="118.00" x2="564.10" y2="118.00" stroke="#b4d6cb" stroke-width="1.2" />
<circle cx="526.80" cy="118.00" r="2.0" fill="#b4d6cb" />
<text x="625.90" y="118.30" font-size="5.3" text-anchor="start" font-weight="normal" fill="#1a1a1a" stroke="#1a1a1a" stroke-width="0.133" >Paracentral</text>
<line x1="527.20" y1="123.90" x2="598.00" y2="123.90" stroke="#f9c8ab" stroke-width="1.2" />
<circle cx="562.30" cy="123.90" r="2.0" fill="#f9c8ab" />
<line x1="482.10" y1="126.90" x2="554.50" y2="126.90" stroke="#b4d6cb" stroke-width="1.2" />
<circle cx="518.10" cy="126.90" r="2.0" fill="#b4d6cb" />
<text x="625.90" y="127.20" font-size="5.3" text-anchor="start" font-weight="normal" fill="#1a1a1a" stroke="#1a1a1a" stroke-width="0.133" >Postcentral</text>
<line x1="532.70" y1="132.80" x2="600.30" y2="132.80" stroke="#f9c8ab" stroke-width="1.2" />
<circle cx="566.40" cy="132.80" r="2.0" fill="#f9c8ab" />
<line x1="483.00" y1="135.80" x2="556.80" y2="135.80" stroke="#b4d6cb" stroke-width="1.2" />
<circle cx="519.90" cy="135.80" r="2.0" fill="#b4d6cb" />
<text x="625.90" y="136.10" font-size="5.3" text-anchor="start" font-weight="normal" fill="#1a1a1a" stroke="#1a1a1a" stroke-width="0.133" >Supramarginal</text>
<line x1="526.80" y1="141.70" x2="600.50" y2="141.70" stroke="#f9c8ab" stroke-width="1.2" />
<circle cx="563.60" cy="141.70" r="2.0" fill="#f9c8ab" />
<line x1="485.30" y1="144.70" x2="551.80" y2="144.70" stroke="#b4d6cb" stroke-width="1.2" />
<circle cx="518.10" cy="144.70" r="2.0" fill="#b4d6cb" />
<text x="625.90" y="145.00" font-size="5.3" text-anchor="start" font-weight="normal" fill="#1a1a1a" stroke="#1a1a1a" stroke-width="0.133" >Posterior cingulate</text>
<line x1="529.00" y1="150.60" x2="599.60" y2="150.60" stroke="#f9c8ab" stroke-width="1.2" />
<circle cx="564.60" cy="150.60" r="2.0" fill="#f9c8ab" />
<line x1="484.40" y1="153.60" x2="558.20" y2="153.60" stroke="#b4d6cb" stroke-width="1.2" />
<circle cx="521.30" cy="153.60" r="2.0" fill="#b4d6cb" />
<text x="625.90" y="153.90" font-size="5.3" text-anchor="start" font-weight="normal" fill="#1a1a1a" stroke="#1a1a1a" stroke-width="0.133" >Isthmus cingulate</text>
<line x1="540.00" y1="159.50" x2="604.60" y2="159.50" stroke="#f9c8ab" stroke-width="1.2" />
<circle cx="572.30" cy="159.50" r="2.0" fill="#f9c8ab" />
<line x1="487.10" y1="162.50" x2="552.30" y2="162.50" stroke="#b4d6cb" stroke-width="1.2" />
<circle cx="519.50" cy="162.50" r="2.0" fill="#b4d6cb" />
<text x="625.90" y="162.80" font-size="5.3" text-anchor="start" font-weight="normal" fill="#1a1a1a" stroke="#1a1a1a" stroke-width="0.133" >Precuneus</text>
<line x1="525.40" y1="168.40" x2="596.20" y2="168.40" stroke="#f9c8ab" stroke-width="1.2" />
<circle cx="560.50" cy="168.40" r="2.0" fill="#f9c8ab" />
<line x1="483.50" y1="171.40" x2="552.70" y2="171.40" stroke="#b4d6cb" stroke-width="1.2" />
<circle cx="518.10" cy="171.40" r="2.0" fill="#b4d6cb" />
<text x="625.90" y="171.70" font-size="5.3" text-anchor="start" font-weight="normal" fill="#1a1a1a" stroke="#1a1a1a" stroke-width="0.133" >Superior parietal</text>
<line x1="525.40" y1="177.30" x2="600.10" y2="177.30" stroke="#f9c8ab" stroke-width="1.2" />
<circle cx="562.70" cy="177.30" r="2.0" fill="#f9c8ab" />
<line x1="484.40" y1="180.30" x2="551.80" y2="180.30" stroke="#b4d6cb" stroke-width="1.2" />
<circle cx="518.10" cy="180.30" r="2.0" fill="#b4d6cb" />
<text x="625.90" y="180.60" font-size="5.3" text-anchor="start" font-weight="normal" fill="#1a1a1a" stroke="#1a1a1a" stroke-width="0.133" >Inferior parietal</text>
<line x1="532.20" y1="186.20" x2="604.20" y2="186.20" stroke="#f9c8ab" stroke-width="1.2" />
<circle cx="568.20" cy="186.20" r="2.0" fill="#f9c8ab" />
<line x1="485.30" y1="189.20" x2="565.00" y2="189.20" stroke="#b4d6cb" stroke-width="1.2" />
<circle cx="525.20" cy="189.20" r="2.0" fill="#b4d6cb" />
<text x="625.90" y="189.50" font-size="5.3" text-anchor="start" font-weight="normal" fill="#1a1a1a" stroke="#1a1a1a" stroke-width="0.133" >Transverse temporal</text>
<line x1="519.00" y1="195.10" x2="601.90" y2="195.10" stroke="#f9c8ab" stroke-width="1.2" />
<circle cx="560.00" cy="195.10" r="2.0" fill="#f9c8ab" />
<line x1="478.00" y1="198.10" x2="558.20" y2="198.10" stroke="#b4d6cb" stroke-width="1.2" />
<circle cx="518.10" cy="198.10" r="2.0" fill="#b4d6cb" />
<text x="625.90" y="198.40" font-size="5.3" text-anchor="start" font-weight="normal" fill="#1a1a1a" stroke="#1a1a1a" stroke-width="0.133" >Banks superior temporal</text>
<line x1="536.80" y1="204.00" x2="602.40" y2="204.00" stroke="#f9c8ab" stroke-width="1.2" />
<circle cx="569.60" cy="204.00" r="2.0" fill="#f9c8ab" />
<line x1="485.30" y1="207.00" x2="546.30" y2="207.00" stroke="#b4d6cb" stroke-width="1.2" />
<circle cx="515.40" cy="207.00" r="2.0" fill="#b4d6cb" />
<text x="625.90" y="207.30" font-size="5.3" text-anchor="start" font-weight="normal" fill="#1a1a1a" stroke="#1a1a1a" stroke-width="0.133" >Superior temporal</text>
<line x1="526.30" y1="212.90" x2="597.40" y2="212.90" stroke="#f9c8ab" stroke-width="1.2" />
<circle cx="561.40" cy="212.90" r="2.0" fill="#f9c8ab" />
<line x1="478.50" y1="215.90" x2="543.20" y2="215.90" stroke="#b4d6cb" stroke-width="1.2" />
<circle cx="510.40" cy="215.90" r="2.0" fill="#b4d6cb" />
<text x="625.90" y="216.20" font-size="5.3" text-anchor="start" font-weight="normal" fill="#1a1a1a" stroke="#1a1a1a" stroke-width="0.133" >Middle temporal</text>
<line x1="524.00" y1="221.80" x2="599.00" y2="221.80" stroke="#f9c8ab" stroke-width="1.2" />
<circle cx="561.40" cy="221.80" r="2.0" fill="#f9c8ab" />
<line x1="482.10" y1="224.80" x2="555.00" y2="224.80" stroke="#b4d6cb" stroke-width="1.2" />
<circle cx="518.60" cy="224.80" r="2.0" fill="#b4d6cb" />
<text x="625.90" y="225.10" font-size="5.3" text-anchor="start" font-weight="normal" fill="#1a1a1a" stroke="#1a1a1a" stroke-width="0.133" >Inferior temporal</text>
<line x1="524.00" y1="230.70" x2="593.70" y2="230.70" stroke="#f9c8ab" stroke-width="1.2" />
<circle cx="558.60" cy="230.70" r="2.0" fill="#f9c8ab" />
<line x1="480.80" y1="233.70" x2="551.80" y2="233.70" stroke="#b4d6cb" stroke-width="1.2" />
<circle cx="515.80" cy="233.70" r="2.0" fill="#b4d6cb" />
<text x="625.90" y="234.00" font-size="5.3" text-anchor="start" font-weight="normal" fill="#1a1a1a" stroke="#1a1a1a" stroke-width="0.133" >Fusiform</text>
<line x1="521.30" y1="239.60" x2="601.20" y2="239.60" stroke="#f9c8ab" stroke-width="1.2" />
<circle cx="561.40" cy="239.60" r="2.0" fill="#f9c8ab" />
<line x1="487.10" y1="242.60" x2="560.90" y2="242.60" stroke="#b4d6cb" stroke-width="1.2" />
<circle cx="523.60" cy="242.60" r="2.0" fill="#b4d6cb" />
<text x="625.90" y="242.90" font-size="5.3" text-anchor="start" font-weight="normal" fill="#1a1a1a" stroke="#1a1a1a" stroke-width="0.133" >Parahippocampal</text>
<line x1="524.90" y1="248.50" x2="595.50" y2="248.50" stroke="#f9c8ab" stroke-width="1.2" />
<circle cx="560.00" cy="248.50" r="2.0" fill="#f9c8ab" />
<line x1="491.70" y1="251.50" x2="563.60" y2="251.50" stroke="#b4d6cb" stroke-width="1.2" />
<circle cx="527.70" cy="251.50" r="2.0" fill="#b4d6cb" />
<text x="625.90" y="251.80" font-size="5.3" text-anchor="start" font-weight="normal" fill="#1a1a1a" stroke="#1a1a1a" stroke-width="0.133" >Entorhinal</text>
<line x1="513.10" y1="257.40" x2="594.20" y2="257.40" stroke="#f9c8ab" stroke-width="1.2" />
<circle cx="553.60" cy="257.40" r="2.0" fill="#f9c8ab" />
<line x1="487.10" y1="260.40" x2="556.40" y2="260.40" stroke="#b4d6cb" stroke-width="1.2" />
<circle cx="521.30" cy="260.40" r="2.0" fill="#b4d6cb" />
<text x="625.90" y="260.70" font-size="5.3" text-anchor="start" font-weight="normal" fill="#1a1a1a" stroke="#1a1a1a" stroke-width="0.133" >Temporal pole</text>
<line x1="523.10" y1="266.30" x2="600.80" y2="266.30" stroke="#f9c8ab" stroke-width="1.2" />
<circle cx="561.80" cy="266.30" r="2.0" fill="#f9c8ab" />
<line x1="482.10" y1="269.30" x2="554.50" y2="269.30" stroke="#b4d6cb" stroke-width="1.2" />
<circle cx="518.60" cy="269.30" r="2.0" fill="#b4d6cb" />
<text x="625.90" y="269.60" font-size="5.3" text-anchor="start" font-weight="normal" fill="#1a1a1a" stroke="#1a1a1a" stroke-width="0.133" >Lateral occipital</text>
<line x1="512.20" y1="275.20" x2="597.40" y2="275.20" stroke="#f9c8ab" stroke-width="1.2" />
<circle cx="554.50" cy="275.20" r="2.0" fill="#f9c8ab" />
<line x1="479.80" y1="278.20" x2="550.90" y2="278.20" stroke="#b4d6cb" stroke-width="1.2" />
<circle cx="515.40" cy="278.20" r="2.0" fill="#b4d6cb" />
<text x="625.90" y="278.50" font-size="5.3" text-anchor="start" font-weight="normal" fill="#1a1a1a" stroke="#1a1a1a" stroke-width="0.133" >Lingual</text>
<line x1="503.10" y1="284.10" x2="593.30" y2="284.10" stroke="#f9c8ab" stroke-width="1.2" />
<circle cx="548.20" cy="284.10" r="2.0" fill="#f9c8ab" />
<line x1="475.30" y1="287.10" x2="558.00" y2="287.10" stroke="#b4d6cb" stroke-width="1.2" />
<circle cx="516.50" cy="287.10" r="2.0" fill="#b4d6cb" />
<text x="625.90" y="287.40" font-size="5.3" text-anchor="start" font-weight="normal" fill="#1a1a1a" stroke="#1a1a1a" stroke-width="0.133" >Pericalcarine</text>
<line x1="513.10" y1="293.00" x2="592.10" y2="293.00" stroke="#f9c8ab" stroke-width="1.2" />
<circle cx="552.30" cy="293.00" r="2.0" fill="#f9c8ab" />
<line x1="481.20" y1="296.00" x2="559.10" y2="296.00" stroke="#b4d6cb" stroke-width="1.2" />
<circle cx="519.90" cy="296.00" r="2.0" fill="#b4d6cb" />
<text x="625.90" y="296.30" font-size="5.3" text-anchor="start" font-weight="normal" fill="#1a1a1a" stroke="#1a1a1a" stroke-width="0.133" >Cuneus</text>
<line x1="535.40" y1="301.90" x2="605.80" y2="301.90" stroke="#f9c8ab" stroke-width="1.2" />
<circle cx="570.50" cy="301.90" r="2.0" fill="#f9c8ab" />
<line x1="486.70" y1="304.90" x2="555.70" y2="304.90" stroke="#b4d6cb" stroke-width="1.2" />
<circle cx="521.30" cy="304.90" r="2.0" fill="#b4d6cb" />
<text x="625.90" y="305.20" font-size="5.3" text-anchor="start" font-weight="normal" fill="#1a1a1a" stroke="#1a1a1a" stroke-width="0.133" >Insula</text>
<rect x="470.40" y="5.40" width="151.20" height="303.20" fill="none" stroke="#c2c2c2" stroke-width="1.0" />
<line x1="470.50" y1="306.00" x2="470.50" y2="308.60" stroke="#444" stroke-width="0.6" />
<text x="470.50" y="317.60" font-size="5.6" text-anchor="middle" font-weight="normal" fill="#222" stroke="#222" stroke-width="0.140" >0.00</text>
<line x1="508.50" y1="306.00" x2="508.50" y2="308.60" stroke="#444" stroke-width="0.6" />
<text x="508.50" y="317.60" font-size="5.6" text-anchor="middle" font-weight="normal" fill="#222" stroke="#222" stroke-width="0.140" >0.25</text>
<line x1="546.50" y1="306.00" x2="546.50" y2="308.60" stroke="#444" stroke-width="0.6" />
<text x="546.50" y="317.60" font-size="5.6" text-anchor="middle" font-weight="normal" fill="#222" stroke="#222" stroke-width="0.140" >0.50</text>
<line x1="584.50" y1="306.00" x2="584.50" y2="308.60" stroke="#444" stroke-width="0.6" />
<text x="584.50" y="317.60" font-size="5.6" text-anchor="middle" font-weight="normal" fill="#222" stroke="#222" stroke-width="0.140" >0.75</text>
<line x1="622.50" y1="306.00" x2="622.50" y2="308.60" stroke="#444" stroke-width="0.6" />
<text x="622.50" y="317.60" font-size="5.6" text-anchor="middle" font-weight="normal" fill="#222" stroke="#222" stroke-width="0.140" >1.00</text>
<line x1="474.30" y1="339.10" x2="474.30" y2="415.40" stroke="#c4c4c4" stroke-width="0.5" stroke-dasharray="1.6,1.2"/>
<line x1="546.50" y1="339.10" x2="546.50" y2="415.40" stroke="#9a9a9a" stroke-width="0.6" stroke-dasharray="2.2,1.4"/>
<line x1="618.30" y1="339.10" x2="618.30" y2="415.40" stroke="#c4c4c4" stroke-width="0.5" stroke-dasharray="1.2,1.0"/>
<line x1="552.20" y1="342.40" x2="592.50" y2="342.40" stroke="#f9c8ab" stroke-width="1.2" />
<circle cx="570.90" cy="342.40" r="2.0" fill="#f9c8ab" />
<line x1="489.20" y1="345.80" x2="522.50" y2="345.80" stroke="#b4d6cb" stroke-width="1.2" />
<circle cx="504.80" cy="345.80" r="2.0" fill="#b4d6cb" />
<text x="626.00" y="346.20" font-size="5.3" text-anchor="start" font-weight="normal" fill="#1a1a1a" stroke="#1a1a1a" stroke-width="0.133" >TCV</text>
<line x1="538.00" y1="353.15" x2="607.40" y2="353.15" stroke="#f9c8ab" stroke-width="1.2" />
<circle cx="572.60" cy="353.15" r="2.0" fill="#f9c8ab" />
<line x1="486.70" y1="356.55" x2="562.80" y2="356.55" stroke="#b4d6cb" stroke-width="1.2" />
<circle cx="525.00" cy="356.55" r="2.0" fill="#b4d6cb" />
<text x="626.00" y="356.92" font-size="5.3" text-anchor="start" font-weight="normal" fill="#1a1a1a" stroke="#1a1a1a" stroke-width="0.133" >WMV</text>
<line x1="547.80" y1="363.90" x2="588.00" y2="363.90" stroke="#f9c8ab" stroke-width="1.2" />
<circle cx="567.70" cy="363.90" r="2.0" fill="#f9c8ab" />
<line x1="486.30" y1="367.30" x2="520.10" y2="367.30" stroke="#b4d6cb" stroke-width="1.2" />
<circle cx="506.00" cy="367.30" r="2.0" fill="#b4d6cb" />
<text x="626.00" y="367.64" font-size="5.3" text-anchor="start" font-weight="normal" fill="#1a1a1a" stroke="#1a1a1a" stroke-width="0.133" >GMV</text>
<line x1="533.60" y1="374.65" x2="601.20" y2="374.65" stroke="#f9c8ab" stroke-width="1.2" />
<circle cx="567.50" cy="374.65" r="2.0" fill="#f9c8ab" />
<line x1="486.70" y1="378.05" x2="564.70" y2="378.05" stroke="#b4d6cb" stroke-width="1.2" />
<circle cx="526.00" cy="378.05" r="2.0" fill="#b4d6cb" />
<text x="626.00" y="378.36" font-size="5.3" text-anchor="start" font-weight="normal" fill="#1a1a1a" stroke="#1a1a1a" stroke-width="0.133" >sGMV</text>
<line x1="511.50" y1="385.40" x2="596.10" y2="385.40" stroke="#f9c8ab" stroke-width="1.2" />
<circle cx="557.70" cy="385.40" r="2.0" fill="#f9c8ab" />
<line x1="494.70" y1="388.80" x2="576.10" y2="388.80" stroke="#b4d6cb" stroke-width="1.2" />
<circle cx="529.30" cy="388.80" r="2.0" fill="#b4d6cb" />
<text x="626.00" y="389.08" font-size="5.3" text-anchor="start" font-weight="normal" fill="#1a1a1a" stroke="#1a1a1a" stroke-width="0.133" >CSF</text>
<line x1="506.90" y1="396.15" x2="592.50" y2="396.15" stroke="#f9c8ab" stroke-width="1.2" />
<circle cx="549.70" cy="396.15" r="2.0" fill="#f9c8ab" />
<line x1="481.20" y1="399.55" x2="574.20" y2="399.55" stroke="#b4d6cb" stroke-width="1.2" />
<circle cx="527.60" cy="399.55" r="2.0" fill="#b4d6cb" />
<text x="626.00" y="399.80" font-size="5.3" text-anchor="start" font-weight="normal" fill="#1a1a1a" stroke="#1a1a1a" stroke-width="0.133" >mCT</text>
<line x1="554.10" y1="406.90" x2="596.90" y2="406.90" stroke="#f9c8ab" stroke-width="1.2" />
<circle cx="573.10" cy="406.90" r="2.0" fill="#f9c8ab" />
<line x1="491.80" y1="410.30" x2="527.60" y2="410.30" stroke="#b4d6cb" stroke-width="1.2" />
<circle cx="510.80" cy="410.30" r="2.0" fill="#b4d6cb" />
<text x="626.00" y="410.52" font-size="5.3" text-anchor="start" font-weight="normal" fill="#1a1a1a" stroke="#1a1a1a" stroke-width="0.133" >tSA</text>
<rect x="470.50" y="339.10" width="151.80" height="76.40" fill="none" stroke="#9a9a9a" stroke-width="1.0" />
<line x1="470.50" y1="338.60" x2="470.50" y2="416.00" stroke="#666" stroke-width="1.0" />
<line x1="470.50" y1="412.90" x2="470.50" y2="415.50" stroke="#444" stroke-width="0.6" />
<text x="470.50" y="424.30" font-size="5.6" text-anchor="middle" font-weight="normal" fill="#222" stroke="#222" stroke-width="0.140" >0.00</text>
<line x1="508.50" y1="412.90" x2="508.50" y2="415.50" stroke="#444" stroke-width="0.6" />
<text x="508.50" y="424.30" font-size="5.6" text-anchor="middle" font-weight="normal" fill="#222" stroke="#222" stroke-width="0.140" >0.25</text>
<line x1="546.50" y1="412.90" x2="546.50" y2="415.50" stroke="#444" stroke-width="0.6" />
<text x="546.50" y="424.30" font-size="5.6" text-anchor="middle" font-weight="normal" fill="#222" stroke="#222" stroke-width="0.140" >0.50</text>
<line x1="584.50" y1="412.90" x2="584.50" y2="415.50" stroke="#444" stroke-width="0.6" />
<text x="584.50" y="424.30" font-size="5.6" text-anchor="middle" font-weight="normal" fill="#222" stroke="#222" stroke-width="0.140" >0.75</text>
<line x1="622.50" y1="412.90" x2="622.50" y2="415.50" stroke="#444" stroke-width="0.6" />
<text x="622.50" y="424.30" font-size="5.6" text-anchor="middle" font-weight="normal" fill="#222" stroke="#222" stroke-width="0.140" >1.00</text>
<line x1="651.00" y1="370.80" x2="666.90" y2="370.80" stroke="#f9c8ab" stroke-width="2.5" />
<circle cx="659.10" cy="370.80" r="3.9" fill="#f9c8ab" />
<line x1="651.00" y1="387.70" x2="666.90" y2="387.70" stroke="#b4d6cb" stroke-width="2.5" />
<circle cx="659.10" cy="387.70" r="3.9" fill="#b4d6cb" />
<text x="673.20" y="374.20" font-size="6.8" text-anchor="start" font-weight="bold" fill="#111" >H</text>
<text x="673.40" y="390.90" font-size="6.8" text-anchor="start" font-weight="bold" fill="#111" >L</text>
<defs>
<clipPath id="latclip"><path d="M20,268 C20.7,252.8 23.3,242.7 26,232 C28.7,221.3 31.0,215.0 36,204 C41.0,193.0 46.2,179.0 56,166 C65.8,153.0 79.3,138.2 95,126 C110.7,113.8 129.2,104.0 150,93 C170.8,82.0 195.0,69.5 220,60 C245.0,50.5 273.3,42.0 300,36 C326.7,30.0 356.7,25.3 380,24 C403.3,22.7 420.8,23.3 440,28 C459.2,32.7 478.3,41.3 495,52 C511.7,62.7 527.0,77.3 540,92 C553.0,106.7 561.0,122.0 573,140 C585.0,158.0 600.8,181.3 612,200 C623.2,218.7 633.5,236.8 640,252 C646.5,267.2 650.2,279.0 651,291 C651.8,303.0 649.7,314.7 645,324 C640.3,333.3 634.0,340.0 623,347 C612.0,354.0 593.8,360.5 579,366 C564.2,371.5 550.7,374.0 534,380 C517.3,386.0 497.5,394.7 479,402 C460.5,409.3 441.5,417.5 423,424 C404.5,430.5 386.5,435.3 368,441 C349.5,446.7 329.8,454.3 312,458 C294.2,461.7 274.0,465.5 261,463 C248.0,460.5 241.3,451.5 234,443 C226.7,434.5 224.5,419.8 217,412 C209.5,404.2 203.8,401.0 189,396 C174.2,391.0 147.5,385.7 128,382 C108.5,378.3 86.8,379.0 72,374 C57.2,369.0 47.3,360.5 39,352 C30.7,343.5 25.2,337.0 22,323 C18.8,309.0 19.3,283.2 20,268 Z"/></clipPath>
<clipPath id="medclip"><path d="M22,300 C21.2,292.3 24.0,287.5 27,280 C30.0,272.5 35.7,262.0 40,255 C44.3,248.0 48.0,245.5 53,238 C58.0,230.5 63.8,218.8 70,210 C76.2,201.2 83.3,194.2 90,185 C96.7,175.8 102.8,165.5 110,155 C117.2,144.5 124.7,132.0 133,122 C141.3,112.0 151.2,103.0 160,95 C168.8,87.0 176.0,80.2 186,74 C196.0,67.8 211.2,62.0 220,58 C228.8,54.0 227.0,52.7 239,50 C251.0,47.3 273.5,43.0 292,42 C310.5,41.0 328.7,41.3 350,44 C371.3,46.7 396.7,50.7 420,58 C443.3,65.3 464.2,73.0 490,88 C515.8,103.0 551.7,127.2 575,148 C598.3,168.8 616.7,190.5 630,213 C643.3,235.5 651.7,263.0 655,283 C658.3,303.0 655.8,318.0 650,333 C644.2,348.0 635.0,361.3 620,373 C605.0,384.7 585.0,396.8 560,403 C535.0,409.2 490.0,408.0 470,410 C450.0,412.0 449.3,410.0 440,415 C430.7,420.0 424.0,434.7 414,440 C404.0,445.3 392.7,448.0 380,447 C367.3,446.0 352.2,439.5 338,434 C323.8,428.5 309.2,420.3 295,414 C280.8,407.7 265.2,400.5 253,396 C240.8,391.5 236.2,389.5 222,387 C207.8,384.5 187.3,384.8 168,381 C148.7,377.2 125.2,369.8 106,364 C86.8,358.2 65.3,352.3 53,346 C40.7,339.7 37.2,333.7 32,326 C26.8,318.3 22.8,307.7 22,300 Z"/></clipPath>
</defs>
<rect x="12.80" y="160.30" width="192.10" height="80.60" fill="#ebedf2" stroke="none" stroke-width="0.8" />
<text x="-0.50" y="169.20" font-size="11" text-anchor="start" font-weight="bold" fill="#000" stroke="#000" stroke-width="0.35">b</text>
<g transform="translate(14,162.2) scale(0.1313887793982394)">
<path d="M20,268 C20.7,252.8 23.3,242.7 26,232 C28.7,221.3 31.0,215.0 36,204 C41.0,193.0 46.2,179.0 56,166 C65.8,153.0 79.3,138.2 95,126 C110.7,113.8 129.2,104.0 150,93 C170.8,82.0 195.0,69.5 220,60 C245.0,50.5 273.3,42.0 300,36 C326.7,30.0 356.7,25.3 380,24 C403.3,22.7 420.8,23.3 440,28 C459.2,32.7 478.3,41.3 495,52 C511.7,62.7 527.0,77.3 540,92 C553.0,106.7 561.0,122.0 573,140 C585.0,158.0 600.8,181.3 612,200 C623.2,218.7 633.5,236.8 640,252 C646.5,267.2 650.2,279.0 651,291 C651.8,303.0 649.7,314.7 645,324 C640.3,333.3 634.0,340.0 623,347 C612.0,354.0 593.8,360.5 579,366 C564.2,371.5 550.7,374.0 534,380 C517.3,386.0 497.5,394.7 479,402 C460.5,409.3 441.5,417.5 423,424 C404.5,430.5 386.5,435.3 368,441 C349.5,446.7 329.8,454.3 312,458 C294.2,461.7 274.0,465.5 261,463 C248.0,460.5 241.3,451.5 234,443 C226.7,434.5 224.5,419.8 217,412 C209.5,404.2 203.8,401.0 189,396 C174.2,391.0 147.5,385.7 128,382 C108.5,378.3 86.8,379.0 72,374 C57.2,369.0 47.3,360.5 39,352 C30.7,343.5 25.2,337.0 22,323 C18.8,309.0 19.3,283.2 20,268 Z" fill="#c9d0e4"/>
<g clip-path="url(#latclip)">
<polygon points="128,112 262,48 240,100 220,150 205,200 168,196 148,158" fill="#aab7d8" stroke="#111" stroke-width="6.5" stroke-linejoin="round"/>
<polygon points="262,48 378,22 345,80 310,130 285,185 272,225 280,262 222,278 205,200 220,150 240,100" fill="#cbd3e7" stroke="#111" stroke-width="6.5" stroke-linejoin="round"/>
<polygon points="30,200 56,160 95,122 150,89 220,56 300,32 380,20 376,38 300,50 224,74 156,108 106,140 70,176 46,214" fill="#c2cbe2" stroke="#111" stroke-width="6.5" stroke-linejoin="round"/>
<polygon points="378,22 440,26 418,100 372,120 345,160 336,205 345,240 300,262 280,262 272,225 285,185 310,130 345,80" fill="#e0e5f1" stroke="#111" stroke-width="6.5" stroke-linejoin="round"/>
<polygon points="440,26 495,50 540,90 555,115 480,122 418,100" fill="#b9c4df" stroke="#111" stroke-width="6.5" stroke-linejoin="round"/>
<polygon points="418,100 480,122 502,152 506,186 495,219 473,233 423,238 345,244 336,205 345,160 372,120" fill="#eef0f6" stroke="#111" stroke-width="6.5" stroke-linejoin="round"/>
<polygon points="480,122 555,115 573,140 612,200 628,240 612,262 560,272 520,262 506,240 495,219 506,186 502,152" fill="#c8d0e5" stroke="#111" stroke-width="6.5" stroke-linejoin="round"/>
<polygon points="628,240 665,250 665,330 623,347 579,366 572,320 560,272 612,262" fill="#c8d0e5" stroke="#111" stroke-width="6.5" stroke-linejoin="round"/>
<polygon points="120,251 145,212 168,196 205,200 222,274 167,305 139,279" fill="#dde2ef" stroke="#111" stroke-width="6.5" stroke-linejoin="round"/>
<polygon points="66,300 120,251 139,279 167,305 123,337 70,334" fill="#c9d0e4" stroke="#111" stroke-width="6.5" stroke-linejoin="round"/>
<polygon points="30,330 123,340 106,360 40,356" fill="#c5cde3" stroke="#111" stroke-width="6.5" stroke-linejoin="round"/>
<polygon points="245,445 319,392 405,338 450,330 490,315 525,285 560,272 572,320 580,330 552,332 452,392 352,432 262,470" fill="#b5c1dd" stroke="#111" stroke-width="6.5" stroke-linejoin="round"/>
<polygon points="352,432 452,392 552,332 580,330 595,372 534,380 479,402 423,424 368,441 340,458" fill="#f4f5fa" stroke="#111" stroke-width="6.5" stroke-linejoin="round"/>
<polygon points="219,398 260,357 299,318 330,285 352,252 420,243 468,236 418,292 405,338 319,392 245,445 230,425" fill="#eceff6" stroke="#111" stroke-width="6.5" stroke-linejoin="round"/>
<polygon points="160,310 234,274 300,262 352,252 330,285 299,318 260,357 219,398 200,395 178,379 165,346" fill="#f7dcdc" stroke="#111" stroke-width="6.5" stroke-linejoin="round"/>
<polygon points="418,292 468,236 512,262 525,285 490,315 450,330 405,338" fill="#b9c4df" stroke="#111" stroke-width="6.5" stroke-linejoin="round"/>
<ellipse cx="332" cy="291" rx="36" ry="15" transform="rotate(-42 332 291)" fill="#f5e0e2" stroke="#111" stroke-width="6.5"/>
</g>
<path d="M20,268 C20.7,252.8 23.3,242.7 26,232 C28.7,221.3 31.0,215.0 36,204 C41.0,193.0 46.2,179.0 56,166 C65.8,153.0 79.3,138.2 95,126 C110.7,113.8 129.2,104.0 150,93 C170.8,82.0 195.0,69.5 220,60 C245.0,50.5 273.3,42.0 300,36 C326.7,30.0 356.7,25.3 380,24 C403.3,22.7 420.8,23.3 440,28 C459.2,32.7 478.3,41.3 495,52 C511.7,62.7 527.0,77.3 540,92 C553.0,106.7 561.0,122.0 573,140 C585.0,158.0 600.8,181.3 612,200 C623.2,218.7 633.5,236.8 640,252 C646.5,267.2 650.2,279.0 651,291 C651.8,303.0 649.7,314.7 645,324 C640.3,333.3 634.0,340.0 623,347 C612.0,354.0 593.8,360.5 579,366 C564.2,371.5 550.7,374.0 534,380 C517.3,386.0 497.5,394.7 479,402 C460.5,409.3 441.5,417.5 423,424 C404.5,430.5 386.5,435.3 368,441 C349.5,446.7 329.8,454.3 312,458 C294.2,461.7 274.0,465.5 261,463 C248.0,460.5 241.3,451.5 234,443 C226.7,434.5 224.5,419.8 217,412 C209.5,404.2 203.8,401.0 189,396 C174.2,391.0 147.5,385.7 128,382 C108.5,378.3 86.8,379.0 72,374 C57.2,369.0 47.3,360.5 39,352 C30.7,343.5 25.2,337.0 22,323 C18.8,309.0 19.3,283.2 20,268 Z" fill="none" stroke="#111" stroke-width="8.450000000000001" stroke-linejoin="round"/>
</g>
<g transform="translate(112,162.2) scale(0.13723068478111705)">
<path d="M22,300 C21.2,292.3 24.0,287.5 27,280 C30.0,272.5 35.7,262.0 40,255 C44.3,248.0 48.0,245.5 53,238 C58.0,230.5 63.8,218.8 70,210 C76.2,201.2 83.3,194.2 90,185 C96.7,175.8 102.8,165.5 110,155 C117.2,144.5 124.7,132.0 133,122 C141.3,112.0 151.2,103.0 160,95 C168.8,87.0 176.0,80.2 186,74 C196.0,67.8 211.2,62.0 220,58 C228.8,54.0 227.0,52.7 239,50 C251.0,47.3 273.5,43.0 292,42 C310.5,41.0 328.7,41.3 350,44 C371.3,46.7 396.7,50.7 420,58 C443.3,65.3 464.2,73.0 490,88 C515.8,103.0 551.7,127.2 575,148 C598.3,168.8 616.7,190.5 630,213 C643.3,235.5 651.7,263.0 655,283 C658.3,303.0 655.8,318.0 650,333 C644.2,348.0 635.0,361.3 620,373 C605.0,384.7 585.0,396.8 560,403 C535.0,409.2 490.0,408.0 470,410 C450.0,412.0 449.3,410.0 440,415 C430.7,420.0 424.0,434.7 414,440 C404.0,445.3 392.7,448.0 380,447 C367.3,446.0 352.2,439.5 338,434 C323.8,428.5 309.2,420.3 295,414 C280.8,407.7 265.2,400.5 253,396 C240.8,391.5 236.2,389.5 222,387 C207.8,384.5 187.3,384.8 168,381 C148.7,377.2 125.2,369.8 106,364 C86.8,358.2 65.3,352.3 53,346 C40.7,339.7 37.2,333.7 32,326 C26.8,318.3 22.8,307.7 22,300 Z" fill="#e6e9f3"/>
<g clip-path="url(#medclip)">
<polygon points="90,185 110,155 133,122 160,95 186,74 220,58 237,52 266,132 250,169 207,180 191,212 176,292 144,302 106,238" fill="#fbeae9" stroke="#111" stroke-width="6.5" stroke-linejoin="round"/>
<polygon points="237,52 292,40 364,42 364,132 266,132" fill="#fbe5e4" stroke="#111" stroke-width="6.5" stroke-linejoin="round"/>
<polygon points="15,300 27,280 53,238 90,185 106,238 128,270 80,270 28,297" fill="#c5cde3" stroke="#111" stroke-width="6.5" stroke-linejoin="round"/>
<polygon points="15,297 80,270 128,270 140,297 117,313 15,326" fill="#6a84bc" stroke="#111" stroke-width="6.5" stroke-linejoin="round"/>
<polygon points="15,326 117,313 140,297 176,297 213,334 224,344 232,372 236,392 168,384 106,366 53,348" fill="#8a9fcb" stroke="#111" stroke-width="6.5" stroke-linejoin="round"/>
<polygon points="266,132 364,132 440,158 432,193 440,200 400,202 330,200 277,203 271,185 250,169" fill="#ccd4e8" stroke="#111" stroke-width="6.5" stroke-linejoin="round"/>
<polygon points="207,180 250,169 271,185 277,203 229,233 218,260 213,292 176,292 191,212" fill="#d3d9ea" stroke="#111" stroke-width="6.5" stroke-linejoin="round"/>
<polygon points="440,158 500,173 560,243 555,268 515,233 450,203 440,200 432,193" fill="#dfe3ef" stroke="#111" stroke-width="6.5" stroke-linejoin="round"/>
<polygon points="560,243 615,313 560,373 505,373 505,353 550,328 555,268" fill="#c5cde3" stroke="#111" stroke-width="6.5" stroke-linejoin="round"/>
<polygon points="615,313 670,320 665,345 620,378 560,408 470,415 475,398 505,373 560,373" fill="#a6b4d7" stroke="#111" stroke-width="6.5" stroke-linejoin="round"/>
<polygon points="205,330 227,338 253,368 295,398 338,423 372,436 380,452 338,445 295,428 250,410 215,395" fill="#f4f5fa" stroke="#111" stroke-width="6.5" stroke-linejoin="round"/>
<path d="M214,250 C215.7,237.0 215.5,220.0 223,212 C230.5,204.0 245.0,204.2 259,202 C273.0,199.8 291.8,199.7 307,199 C322.2,198.3 326.2,197.3 350,198 C373.8,198.7 422.5,197.2 450,203 C477.5,208.8 497.5,222.2 515,233 C532.5,243.8 549.2,252.2 555,268 C560.8,283.8 558.3,313.8 550,328 C541.7,342.2 517.5,342.2 505,353 C492.5,363.8 487.3,383.3 475,393 C462.7,402.7 442.5,404.5 431,411 C419.5,417.5 415.8,427.8 406,432 C396.2,436.2 383.3,437.2 372,436 C360.7,434.8 350.8,430.5 338,425 C325.2,419.5 309.2,411.7 295,403 C280.8,394.3 264.3,383.2 253,373 C241.7,362.8 233.7,355.8 227,342 C220.3,328.2 215.2,305.3 213,290 C210.8,274.7 212.3,263.0 214,250 Z" fill="#787878" stroke="#111" stroke-width="6.5" stroke-linejoin="round"/>
<path d="M214,270 C221.8,273.7 247.0,292.0 261,292 C275.0,292.0 283.8,279.0 298,270 C312.2,261.0 329.5,243.0 346,238 C362.5,233.0 377.8,236.0 397,240 C416.2,244.0 445.5,253.7 461,262 C476.5,270.3 483.5,278.7 490,290 C496.5,301.3 499.2,319.2 500,330 C500.8,340.8 495.8,350.8 495,355" fill="none" stroke="#111" stroke-width="6.5" stroke-linejoin="round"/>
</g>
<path d="M22,300 C21.2,292.3 24.0,287.5 27,280 C30.0,272.5 35.7,262.0 40,255 C44.3,248.0 48.0,245.5 53,238 C58.0,230.5 63.8,218.8 70,210 C76.2,201.2 83.3,194.2 90,185 C96.7,175.8 102.8,165.5 110,155 C117.2,144.5 124.7,132.0 133,122 C141.3,112.0 151.2,103.0 160,95 C168.8,87.0 176.0,80.2 186,74 C196.0,67.8 211.2,62.0 220,58 C228.8,54.0 227.0,52.7 239,50 C251.0,47.3 273.5,43.0 292,42 C310.5,41.0 328.7,41.3 350,44 C371.3,46.7 396.7,50.7 420,58 C443.3,65.3 464.2,73.0 490,88 C515.8,103.0 551.7,127.2 575,148 C598.3,168.8 616.7,190.5 630,213 C643.3,235.5 651.7,263.0 655,283 C658.3,303.0 655.8,318.0 650,333 C644.2,348.0 635.0,361.3 620,373 C605.0,384.7 585.0,396.8 560,403 C535.0,409.2 490.0,408.0 470,410 C450.0,412.0 449.3,410.0 440,415 C430.7,420.0 424.0,434.7 414,440 C404.0,445.3 392.7,448.0 380,447 C367.3,446.0 352.2,439.5 338,434 C323.8,428.5 309.2,420.3 295,414 C280.8,407.7 265.2,400.5 253,396 C240.8,391.5 236.2,389.5 222,387 C207.8,384.5 187.3,384.8 168,381 C148.7,377.2 125.2,369.8 106,364 C86.8,358.2 65.3,352.3 53,346 C40.7,339.7 37.2,333.7 32,326 C26.8,318.3 22.8,307.7 22,300 Z" fill="none" stroke="#111" stroke-width="8.450000000000001" stroke-linejoin="round"/>
</g>
<defs><linearGradient id="cb_b" x1="0" y1="0" x2="1" y2="0"><stop offset="0" stop-color="#4f6dab"/><stop offset="0.75" stop-color="#ffffff"/><stop offset="1" stop-color="#f7cfcb"/></linearGradient></defs>
<rect x="84.20" y="228.30" width="51.80" height="6.50" fill="url(#cb_b)" stroke="#111" stroke-width="0.8" />
<text x="108.90" y="233.20" font-size="4.65" text-anchor="middle" font-weight="bold" fill="#111" >OoS Score</text>
<text x="84.20" y="239.10" font-size="3.2" text-anchor="middle" font-weight="normal" fill="#444" stroke="#444" stroke-width="0.080" >0.35</text>
<text x="97.15" y="239.10" font-size="3.2" text-anchor="middle" font-weight="normal" fill="#444" stroke="#444" stroke-width="0.080" >0.40</text>
<text x="110.10" y="239.10" font-size="3.2" text-anchor="middle" font-weight="normal" fill="#444" stroke="#444" stroke-width="0.080" >0.45</text>
<text x="123.05" y="239.10" font-size="3.2" text-anchor="middle" font-weight="normal" fill="#444" stroke="#444" stroke-width="0.080" >0.50</text>
<text x="136.00" y="239.10" font-size="3.2" text-anchor="middle" font-weight="normal" fill="#444" stroke="#444" stroke-width="0.080" >0.55</text>
<rect x="12.80" y="251.60" width="192.10" height="80.40" fill="#fff0eb" stroke="none" stroke-width="0.8" />
<text x="-0.50" y="257.90" font-size="11" text-anchor="start" font-weight="bold" fill="#000" stroke="#000" stroke-width="0.35">c</text>
<g transform="translate(14,253.49999999999997) scale(0.1313887793982394)">
<path d="M20,268 C20.7,252.8 23.3,242.7 26,232 C28.7,221.3 31.0,215.0 36,204 C41.0,193.0 46.2,179.0 56,166 C65.8,153.0 79.3,138.2 95,126 C110.7,113.8 129.2,104.0 150,93 C170.8,82.0 195.0,69.5 220,60 C245.0,50.5 273.3,42.0 300,36 C326.7,30.0 356.7,25.3 380,24 C403.3,22.7 420.8,23.3 440,28 C459.2,32.7 478.3,41.3 495,52 C511.7,62.7 527.0,77.3 540,92 C553.0,106.7 561.0,122.0 573,140 C585.0,158.0 600.8,181.3 612,200 C623.2,218.7 633.5,236.8 640,252 C646.5,267.2 650.2,279.0 651,291 C651.8,303.0 649.7,314.7 645,324 C640.3,333.3 634.0,340.0 623,347 C612.0,354.0 593.8,360.5 579,366 C564.2,371.5 550.7,374.0 534,380 C517.3,386.0 497.5,394.7 479,402 C460.5,409.3 441.5,417.5 423,424 C404.5,430.5 386.5,435.3 368,441 C349.5,446.7 329.8,454.3 312,458 C294.2,461.7 274.0,465.5 261,463 C248.0,460.5 241.3,451.5 234,443 C226.7,434.5 224.5,419.8 217,412 C209.5,404.2 203.8,401.0 189,396 C174.2,391.0 147.5,385.7 128,382 C108.5,378.3 86.8,379.0 72,374 C57.2,369.0 47.3,360.5 39,352 C30.7,343.5 25.2,337.0 22,323 C18.8,309.0 19.3,283.2 20,268 Z" fill="#eab1ac"/>
<g clip-path="url(#latclip)">
<polygon points="128,112 262,48 240,100 220,150 205,200 168,196 148,158" fill="#efbdb8" stroke="#111" stroke-width="6.5" stroke-linejoin="round"/>
<polygon points="262,48 378,22 345,80 310,130 285,185 272,225 280,262 222,278 205,200 220,150 240,100" fill="#eeb8b3" stroke="#111" stroke-width="6.5" stroke-linejoin="round"/>
<polygon points="30,200 56,160 95,122 150,89 220,56 300,32 380,20 376,38 300,50 224,74 156,108 106,140 70,176 46,214" fill="#efbfbb" stroke="#111" stroke-width="6.5" stroke-linejoin="round"/>
<polygon points="378,22 440,26 418,100 372,120 345,160 336,205 345,240 300,262 280,262 272,225 285,185 310,130 345,80" fill="#e9aaa5" stroke="#111" stroke-width="6.5" stroke-linejoin="round"/>
<polygon points="440,26 495,50 540,90 555,115 480,122 418,100" fill="#efbcb7" stroke="#111" stroke-width="6.5" stroke-linejoin="round"/>
<polygon points="418,100 480,122 502,152 506,186 495,219 473,233 423,238 345,244 336,205 345,160 372,120" fill="#e5a09a" stroke="#111" stroke-width="6.5" stroke-linejoin="round"/>
<polygon points="480,122 555,115 573,140 612,200 628,240 612,262 560,272 520,262 506,240 495,219 506,186 502,152" fill="#e9aba6" stroke="#111" stroke-width="6.5" stroke-linejoin="round"/>
<polygon points="628,240 665,250 665,330 623,347 579,366 572,320 560,272 612,262" fill="#eeb7b2" stroke="#111" stroke-width="6.5" stroke-linejoin="round"/>
<polygon points="120,251 145,212 168,196 205,200 222,274 167,305 139,279" fill="#efbdb8" stroke="#111" stroke-width="6.5" stroke-linejoin="round"/>
<polygon points="66,300 120,251 139,279 167,305 123,337 70,334" fill="#efbfbb" stroke="#111" stroke-width="6.5" stroke-linejoin="round"/>
<polygon points="30,330 123,340 106,360 40,356" fill="#f8e0de" stroke="#111" stroke-width="6.5" stroke-linejoin="round"/>
<polygon points="245,445 319,392 405,338 450,330 490,315 525,285 560,272 572,320 580,330 552,332 452,392 352,432 262,470" fill="#eeb5b0" stroke="#111" stroke-width="6.5" stroke-linejoin="round"/>
<polygon points="352,432 452,392 552,332 580,330 595,372 534,380 479,402 423,424 368,441 340,458" fill="#efbbb7" stroke="#111" stroke-width="6.5" stroke-linejoin="round"/>
<polygon points="219,398 260,357 299,318 330,285 352,252 420,243 468,236 418,292 405,338 319,392 245,445 230,425" fill="#e39a94" stroke="#111" stroke-width="6.5" stroke-linejoin="round"/>
<polygon points="160,310 234,274 300,262 352,252 330,285 299,318 260,357 219,398 200,395 178,379 165,346" fill="#d9837d" stroke="#111" stroke-width="6.5" stroke-linejoin="round"/>
<polygon points="418,292 468,236 512,262 525,285 490,315 450,330 405,338" fill="#f3cdca" stroke="#111" stroke-width="6.5" stroke-linejoin="round"/>
<ellipse cx="332" cy="291" rx="36" ry="15" transform="rotate(-42 332 291)" fill="#eeb9b4" stroke="#111" stroke-width="6.5"/>
</g>
<path d="M20,268 C20.7,252.8 23.3,242.7 26,232 C28.7,221.3 31.0,215.0 36,204 C41.0,193.0 46.2,179.0 56,166 C65.8,153.0 79.3,138.2 95,126 C110.7,113.8 129.2,104.0 150,93 C170.8,82.0 195.0,69.5 220,60 C245.0,50.5 273.3,42.0 300,36 C326.7,30.0 356.7,25.3 380,24 C403.3,22.7 420.8,23.3 440,28 C459.2,32.7 478.3,41.3 495,52 C511.7,62.7 527.0,77.3 540,92 C553.0,106.7 561.0,122.0 573,140 C585.0,158.0 600.8,181.3 612,200 C623.2,218.7 633.5,236.8 640,252 C646.5,267.2 650.2,279.0 651,291 C651.8,303.0 649.7,314.7 645,324 C640.3,333.3 634.0,340.0 623,347 C612.0,354.0 593.8,360.5 579,366 C564.2,371.5 550.7,374.0 534,380 C517.3,386.0 497.5,394.7 479,402 C460.5,409.3 441.5,417.5 423,424 C404.5,430.5 386.5,435.3 368,441 C349.5,446.7 329.8,454.3 312,458 C294.2,461.7 274.0,465.5 261,463 C248.0,460.5 241.3,451.5 234,443 C226.7,434.5 224.5,419.8 217,412 C209.5,404.2 203.8,401.0 189,396 C174.2,391.0 147.5,385.7 128,382 C108.5,378.3 86.8,379.0 72,374 C57.2,369.0 47.3,360.5 39,352 C30.7,343.5 25.2,337.0 22,323 C18.8,309.0 19.3,283.2 20,268 Z" fill="none" stroke="#111" stroke-width="8.450000000000001" stroke-linejoin="round"/>
</g>
<g transform="translate(112,253.49999999999997) scale(0.13723068478111705)">
<path d="M22,300 C21.2,292.3 24.0,287.5 27,280 C30.0,272.5 35.7,262.0 40,255 C44.3,248.0 48.0,245.5 53,238 C58.0,230.5 63.8,218.8 70,210 C76.2,201.2 83.3,194.2 90,185 C96.7,175.8 102.8,165.5 110,155 C117.2,144.5 124.7,132.0 133,122 C141.3,112.0 151.2,103.0 160,95 C168.8,87.0 176.0,80.2 186,74 C196.0,67.8 211.2,62.0 220,58 C228.8,54.0 227.0,52.7 239,50 C251.0,47.3 273.5,43.0 292,42 C310.5,41.0 328.7,41.3 350,44 C371.3,46.7 396.7,50.7 420,58 C443.3,65.3 464.2,73.0 490,88 C515.8,103.0 551.7,127.2 575,148 C598.3,168.8 616.7,190.5 630,213 C643.3,235.5 651.7,263.0 655,283 C658.3,303.0 655.8,318.0 650,333 C644.2,348.0 635.0,361.3 620,373 C605.0,384.7 585.0,396.8 560,403 C535.0,409.2 490.0,408.0 470,410 C450.0,412.0 449.3,410.0 440,415 C430.7,420.0 424.0,434.7 414,440 C404.0,445.3 392.7,448.0 380,447 C367.3,446.0 352.2,439.5 338,434 C323.8,428.5 309.2,420.3 295,414 C280.8,407.7 265.2,400.5 253,396 C240.8,391.5 236.2,389.5 222,387 C207.8,384.5 187.3,384.8 168,381 C148.7,377.2 125.2,369.8 106,364 C86.8,358.2 65.3,352.3 53,346 C40.7,339.7 37.2,333.7 32,326 C26.8,318.3 22.8,307.7 22,300 Z" fill="#eeb6b1"/>
<g clip-path="url(#medclip)">
<polygon points="90,185 110,155 133,122 160,95 186,74 220,58 237,52 266,132 250,169 207,180 191,212 176,292 144,302 106,238" fill="#d97671" stroke="#111" stroke-width="6.5" stroke-linejoin="round"/>
<polygon points="237,52 292,40 364,42 364,132 266,132" fill="#eeb4af" stroke="#111" stroke-width="6.5" stroke-linejoin="round"/>
<polygon points="15,300 27,280 53,238 90,185 106,238 128,270 80,270 28,297" fill="#f7d8d5" stroke="#111" stroke-width="6.5" stroke-linejoin="round"/>
<polygon points="15,297 80,270 128,270 140,297 117,313 15,326" fill="#fcf0ef" stroke="#111" stroke-width="6.5" stroke-linejoin="round"/>
<polygon points="15,326 117,313 140,297 176,297 213,334 224,344 232,372 236,392 168,384 106,366 53,348" fill="#f2c5c1" stroke="#111" stroke-width="6.5" stroke-linejoin="round"/>
<polygon points="266,132 364,132 440,158 432,193 440,200 400,202 330,200 277,203 271,185 250,169" fill="#edb1ac" stroke="#111" stroke-width="6.5" stroke-linejoin="round"/>
<polygon points="207,180 250,169 271,185 277,203 229,233 218,260 213,292 176,292 191,212" fill="#e9a6a1" stroke="#111" stroke-width="6.5" stroke-linejoin="round"/>
<polygon points="440,158 500,173 560,243 555,268 515,233 450,203 440,200 432,193" fill="#df8c86" stroke="#111" stroke-width="6.5" stroke-linejoin="round"/>
<polygon points="560,243 615,313 560,373 505,373 505,353 550,328 555,268" fill="#e39893" stroke="#111" stroke-width="6.5" stroke-linejoin="round"/>
<polygon points="615,313 670,320 665,345 620,378 560,408 470,415 475,398 505,373 560,373" fill="#efbcb7" stroke="#111" stroke-width="6.5" stroke-linejoin="round"/>
<polygon points="205,330 227,338 253,368 295,398 338,423 372,436 380,452 338,445 295,428 250,410 215,395" fill="#f8e0de" stroke="#111" stroke-width="6.5" stroke-linejoin="round"/>
<path d="M214,250 C215.7,237.0 215.5,220.0 223,212 C230.5,204.0 245.0,204.2 259,202 C273.0,199.8 291.8,199.7 307,199 C322.2,198.3 326.2,197.3 350,198 C373.8,198.7 422.5,197.2 450,203 C477.5,208.8 497.5,222.2 515,233 C532.5,243.8 549.2,252.2 555,268 C560.8,283.8 558.3,313.8 550,328 C541.7,342.2 517.5,342.2 505,353 C492.5,363.8 487.3,383.3 475,393 C462.7,402.7 442.5,404.5 431,411 C419.5,417.5 415.8,427.8 406,432 C396.2,436.2 383.3,437.2 372,436 C360.7,434.8 350.8,430.5 338,425 C325.2,419.5 309.2,411.7 295,403 C280.8,394.3 264.3,383.2 253,373 C241.7,362.8 233.7,355.8 227,342 C220.3,328.2 215.2,305.3 213,290 C210.8,274.7 212.3,263.0 214,250 Z" fill="#787878" stroke="#111" stroke-width="6.5" stroke-linejoin="round"/>
<path d="M214,270 C221.8,273.7 247.0,292.0 261,292 C275.0,292.0 283.8,279.0 298,270 C312.2,261.0 329.5,243.0 346,238 C362.5,233.0 377.8,236.0 397,240 C416.2,244.0 445.5,253.7 461,262 C476.5,270.3 483.5,278.7 490,290 C496.5,301.3 499.2,319.2 500,330 C500.8,340.8 495.8,350.8 495,355" fill="none" stroke="#111" stroke-width="6.5" stroke-linejoin="round"/>
</g>
<path d="M22,300 C21.2,292.3 24.0,287.5 27,280 C30.0,272.5 35.7,262.0 40,255 C44.3,248.0 48.0,245.5 53,238 C58.0,230.5 63.8,218.8 70,210 C76.2,201.2 83.3,194.2 90,185 C96.7,175.8 102.8,165.5 110,155 C117.2,144.5 124.7,132.0 133,122 C141.3,112.0 151.2,103.0 160,95 C168.8,87.0 176.0,80.2 186,74 C196.0,67.8 211.2,62.0 220,58 C228.8,54.0 227.0,52.7 239,50 C251.0,47.3 273.5,43.0 292,42 C310.5,41.0 328.7,41.3 350,44 C371.3,46.7 396.7,50.7 420,58 C443.3,65.3 464.2,73.0 490,88 C515.8,103.0 551.7,127.2 575,148 C598.3,168.8 616.7,190.5 630,213 C643.3,235.5 651.7,263.0 655,283 C658.3,303.0 655.8,318.0 650,333 C644.2,348.0 635.0,361.3 620,373 C605.0,384.7 585.0,396.8 560,403 C535.0,409.2 490.0,408.0 470,410 C450.0,412.0 449.3,410.0 440,415 C430.7,420.0 424.0,434.7 414,440 C404.0,445.3 392.7,448.0 380,447 C367.3,446.0 352.2,439.5 338,434 C323.8,428.5 309.2,420.3 295,414 C280.8,407.7 265.2,400.5 253,396 C240.8,391.5 236.2,389.5 222,387 C207.8,384.5 187.3,384.8 168,381 C148.7,377.2 125.2,369.8 106,364 C86.8,358.2 65.3,352.3 53,346 C40.7,339.7 37.2,333.7 32,326 C26.8,318.3 22.8,307.7 22,300 Z" fill="none" stroke="#111" stroke-width="8.450000000000001" stroke-linejoin="round"/>
</g>
<defs><linearGradient id="cb_c" x1="0" y1="0" x2="1" y2="0"><stop offset="0" stop-color="#ffffff"/><stop offset="1" stop-color="#d9706a"/></linearGradient></defs>
<rect x="84.20" y="320.30" width="51.80" height="6.50" fill="url(#cb_c)" stroke="#111" stroke-width="0.8" />
<text x="108.90" y="325.20" font-size="4.65" text-anchor="middle" font-weight="bold" fill="#111" >OoS Score</text>
<text x="84.20" y="330.75" font-size="3.2" text-anchor="middle" font-weight="normal" fill="#444" stroke="#444" stroke-width="0.080" >0.50</text>
<text x="97.15" y="330.75" font-size="3.2" text-anchor="middle" font-weight="normal" fill="#444" stroke="#444" stroke-width="0.080" >0.55</text>
<text x="110.10" y="330.75" font-size="3.2" text-anchor="middle" font-weight="normal" fill="#444" stroke="#444" stroke-width="0.080" >0.60</text>
<text x="123.05" y="330.75" font-size="3.2" text-anchor="middle" font-weight="normal" fill="#444" stroke="#444" stroke-width="0.080" >0.65</text>
<text x="136.00" y="330.75" font-size="3.2" text-anchor="middle" font-weight="normal" fill="#444" stroke="#444" stroke-width="0.080" >0.70</text>
<rect x="12.80" y="343.10" width="192.10" height="80.00" fill="#ecf5f1" stroke="none" stroke-width="0.8" />
<g transform="translate(14,345.0) scale(0.1313887793982394)">
<path d="M20,268 C20.7,252.8 23.3,242.7 26,232 C28.7,221.3 31.0,215.0 36,204 C41.0,193.0 46.2,179.0 56,166 C65.8,153.0 79.3,138.2 95,126 C110.7,113.8 129.2,104.0 150,93 C170.8,82.0 195.0,69.5 220,60 C245.0,50.5 273.3,42.0 300,36 C326.7,30.0 356.7,25.3 380,24 C403.3,22.7 420.8,23.3 440,28 C459.2,32.7 478.3,41.3 495,52 C511.7,62.7 527.0,77.3 540,92 C553.0,106.7 561.0,122.0 573,140 C585.0,158.0 600.8,181.3 612,200 C623.2,218.7 633.5,236.8 640,252 C646.5,267.2 650.2,279.0 651,291 C651.8,303.0 649.7,314.7 645,324 C640.3,333.3 634.0,340.0 623,347 C612.0,354.0 593.8,360.5 579,366 C564.2,371.5 550.7,374.0 534,380 C517.3,386.0 497.5,394.7 479,402 C460.5,409.3 441.5,417.5 423,424 C404.5,430.5 386.5,435.3 368,441 C349.5,446.7 329.8,454.3 312,458 C294.2,461.7 274.0,465.5 261,463 C248.0,460.5 241.3,451.5 234,443 C226.7,434.5 224.5,419.8 217,412 C209.5,404.2 203.8,401.0 189,396 C174.2,391.0 147.5,385.7 128,382 C108.5,378.3 86.8,379.0 72,374 C57.2,369.0 47.3,360.5 39,352 C30.7,343.5 25.2,337.0 22,323 C18.8,309.0 19.3,283.2 20,268 Z" fill="#7f96c6"/>
<g clip-path="url(#latclip)">
<polygon points="128,112 262,48 240,100 220,150 205,200 168,196 148,158" fill="#8b9fcb" stroke="#111" stroke-width="6.5" stroke-linejoin="round"/>
<polygon points="262,48 378,22 345,80 310,130 285,185 272,225 280,262 222,278 205,200 220,150 240,100" fill="#8196c7" stroke="#111" stroke-width="6.5" stroke-linejoin="round"/>
<polygon points="30,200 56,160 95,122 150,89 220,56 300,32 380,20 376,38 300,50 224,74 156,108 106,140 70,176 46,214" fill="#8fa3cd" stroke="#111" stroke-width="6.5" stroke-linejoin="round"/>
<polygon points="378,22 440,26 418,100 372,120 345,160 336,205 345,240 300,262 280,262 272,225 285,185 310,130 345,80" fill="#9eafd4" stroke="#111" stroke-width="6.5" stroke-linejoin="round"/>
<polygon points="440,26 495,50 540,90 555,115 480,122 418,100" fill="#8a9eca" stroke="#111" stroke-width="6.5" stroke-linejoin="round"/>
<polygon points="418,100 480,122 502,152 506,186 495,219 473,233 423,238 345,244 336,205 345,160 372,120" fill="#b4c1de" stroke="#111" stroke-width="6.5" stroke-linejoin="round"/>
<polygon points="480,122 555,115 573,140 612,200 628,240 612,262 560,272 520,262 506,240 495,219 506,186 502,152" fill="#a6b5d8" stroke="#111" stroke-width="6.5" stroke-linejoin="round"/>
<polygon points="628,240 665,250 665,330 623,347 579,366 572,320 560,272 612,262" fill="#96a9d0" stroke="#111" stroke-width="6.5" stroke-linejoin="round"/>
<polygon points="120,251 145,212 168,196 205,200 222,274 167,305 139,279" fill="#6d87be" stroke="#111" stroke-width="6.5" stroke-linejoin="round"/>
<polygon points="66,300 120,251 139,279 167,305 123,337 70,334" fill="#9eafd4" stroke="#111" stroke-width="6.5" stroke-linejoin="round"/>
<polygon points="30,330 123,340 106,360 40,356" fill="#cdd5e9" stroke="#111" stroke-width="6.5" stroke-linejoin="round"/>
<polygon points="245,445 319,392 405,338 450,330 490,315 525,285 560,272 572,320 580,330 552,332 452,392 352,432 262,470" fill="#7089c0" stroke="#111" stroke-width="6.5" stroke-linejoin="round"/>
<polygon points="352,432 452,392 552,332 580,330 595,372 534,380 479,402 423,424 368,441 340,458" fill="#a9b8d9" stroke="#111" stroke-width="6.5" stroke-linejoin="round"/>
<polygon points="219,398 260,357 299,318 330,285 352,252 420,243 468,236 418,292 405,338 319,392 245,445 230,425" fill="#8fa3cd" stroke="#111" stroke-width="6.5" stroke-linejoin="round"/>
<polygon points="160,310 234,274 300,262 352,252 330,285 299,318 260,357 219,398 200,395 178,379 165,346" fill="#b3c0de" stroke="#111" stroke-width="6.5" stroke-linejoin="round"/>
<polygon points="418,292 468,236 512,262 525,285 490,315 450,330 405,338" fill="#9aacd3" stroke="#111" stroke-width="6.5" stroke-linejoin="round"/>
<ellipse cx="332" cy="291" rx="36" ry="15" transform="rotate(-42 332 291)" fill="#b9c5e0" stroke="#111" stroke-width="6.5"/>
</g>
<path d="M20,268 C20.7,252.8 23.3,242.7 26,232 C28.7,221.3 31.0,215.0 36,204 C41.0,193.0 46.2,179.0 56,166 C65.8,153.0 79.3,138.2 95,126 C110.7,113.8 129.2,104.0 150,93 C170.8,82.0 195.0,69.5 220,60 C245.0,50.5 273.3,42.0 300,36 C326.7,30.0 356.7,25.3 380,24 C403.3,22.7 420.8,23.3 440,28 C459.2,32.7 478.3,41.3 495,52 C511.7,62.7 527.0,77.3 540,92 C553.0,106.7 561.0,122.0 573,140 C585.0,158.0 600.8,181.3 612,200 C623.2,218.7 633.5,236.8 640,252 C646.5,267.2 650.2,279.0 651,291 C651.8,303.0 649.7,314.7 645,324 C640.3,333.3 634.0,340.0 623,347 C612.0,354.0 593.8,360.5 579,366 C564.2,371.5 550.7,374.0 534,380 C517.3,386.0 497.5,394.7 479,402 C460.5,409.3 441.5,417.5 423,424 C404.5,430.5 386.5,435.3 368,441 C349.5,446.7 329.8,454.3 312,458 C294.2,461.7 274.0,465.5 261,463 C248.0,460.5 241.3,451.5 234,443 C226.7,434.5 224.5,419.8 217,412 C209.5,404.2 203.8,401.0 189,396 C174.2,391.0 147.5,385.7 128,382 C108.5,378.3 86.8,379.0 72,374 C57.2,369.0 47.3,360.5 39,352 C30.7,343.5 25.2,337.0 22,323 C18.8,309.0 19.3,283.2 20,268 Z" fill="none" stroke="#111" stroke-width="8.450000000000001" stroke-linejoin="round"/>
</g>
<g transform="translate(112,345.0) scale(0.13723068478111705)">
<path d="M22,300 C21.2,292.3 24.0,287.5 27,280 C30.0,272.5 35.7,262.0 40,255 C44.3,248.0 48.0,245.5 53,238 C58.0,230.5 63.8,218.8 70,210 C76.2,201.2 83.3,194.2 90,185 C96.7,175.8 102.8,165.5 110,155 C117.2,144.5 124.7,132.0 133,122 C141.3,112.0 151.2,103.0 160,95 C168.8,87.0 176.0,80.2 186,74 C196.0,67.8 211.2,62.0 220,58 C228.8,54.0 227.0,52.7 239,50 C251.0,47.3 273.5,43.0 292,42 C310.5,41.0 328.7,41.3 350,44 C371.3,46.7 396.7,50.7 420,58 C443.3,65.3 464.2,73.0 490,88 C515.8,103.0 551.7,127.2 575,148 C598.3,168.8 616.7,190.5 630,213 C643.3,235.5 651.7,263.0 655,283 C658.3,303.0 655.8,318.0 650,333 C644.2,348.0 635.0,361.3 620,373 C605.0,384.7 585.0,396.8 560,403 C535.0,409.2 490.0,408.0 470,410 C450.0,412.0 449.3,410.0 440,415 C430.7,420.0 424.0,434.7 414,440 C404.0,445.3 392.7,448.0 380,447 C367.3,446.0 352.2,439.5 338,434 C323.8,428.5 309.2,420.3 295,414 C280.8,407.7 265.2,400.5 253,396 C240.8,391.5 236.2,389.5 222,387 C207.8,384.5 187.3,384.8 168,381 C148.7,377.2 125.2,369.8 106,364 C86.8,358.2 65.3,352.3 53,346 C40.7,339.7 37.2,333.7 32,326 C26.8,318.3 22.8,307.7 22,300 Z" fill="#94a8cf"/>
<g clip-path="url(#medclip)">
<polygon points="90,185 110,155 133,122 160,95 186,74 220,58 237,52 266,132 250,169 207,180 191,212 176,292 144,302 106,238" fill="#a3b3d7" stroke="#111" stroke-width="6.5" stroke-linejoin="round"/>
<polygon points="237,52 292,40 364,42 364,132 266,132" fill="#d0d7ea" stroke="#111" stroke-width="6.5" stroke-linejoin="round"/>
<polygon points="15,300 27,280 53,238 90,185 106,238 128,270 80,270 28,297" fill="#8299c8" stroke="#111" stroke-width="6.5" stroke-linejoin="round"/>
<polygon points="15,297 80,270 128,270 140,297 117,313 15,326" fill="#6b86be" stroke="#111" stroke-width="6.5" stroke-linejoin="round"/>
<polygon points="15,326 117,313 140,297 176,297 213,334 224,344 232,372 236,392 168,384 106,366 53,348" fill="#7690c4" stroke="#111" stroke-width="6.5" stroke-linejoin="round"/>
<polygon points="266,132 364,132 440,158 432,193 440,200 400,202 330,200 277,203 271,185 250,169" fill="#aebddc" stroke="#111" stroke-width="6.5" stroke-linejoin="round"/>
<polygon points="207,180 250,169 271,185 277,203 229,233 218,260 213,292 176,292 191,212" fill="#9eb0d5" stroke="#111" stroke-width="6.5" stroke-linejoin="round"/>
<polygon points="440,158 500,173 560,243 555,268 515,233 450,203 440,200 432,193" fill="#aab9da" stroke="#111" stroke-width="6.5" stroke-linejoin="round"/>
<polygon points="560,243 615,313 560,373 505,373 505,353 550,328 555,268" fill="#8199c8" stroke="#111" stroke-width="6.5" stroke-linejoin="round"/>
<polygon points="615,313 670,320 665,345 620,378 560,408 470,415 475,398 505,373 560,373" fill="#9aadd3" stroke="#111" stroke-width="6.5" stroke-linejoin="round"/>
<polygon points="205,330 227,338 253,368 295,398 338,423 372,436 380,452 338,445 295,428 250,410 215,395" fill="#dde3f0" stroke="#111" stroke-width="6.5" stroke-linejoin="round"/>
<path d="M214,250 C215.7,237.0 215.5,220.0 223,212 C230.5,204.0 245.0,204.2 259,202 C273.0,199.8 291.8,199.7 307,199 C322.2,198.3 326.2,197.3 350,198 C373.8,198.7 422.5,197.2 450,203 C477.5,208.8 497.5,222.2 515,233 C532.5,243.8 549.2,252.2 555,268 C560.8,283.8 558.3,313.8 550,328 C541.7,342.2 517.5,342.2 505,353 C492.5,363.8 487.3,383.3 475,393 C462.7,402.7 442.5,404.5 431,411 C419.5,417.5 415.8,427.8 406,432 C396.2,436.2 383.3,437.2 372,436 C360.7,434.8 350.8,430.5 338,425 C325.2,419.5 309.2,411.7 295,403 C280.8,394.3 264.3,383.2 253,373 C241.7,362.8 233.7,355.8 227,342 C220.3,328.2 215.2,305.3 213,290 C210.8,274.7 212.3,263.0 214,250 Z" fill="#787878" stroke="#111" stroke-width="6.5" stroke-linejoin="round"/>
<path d="M214,270 C221.8,273.7 247.0,292.0 261,292 C275.0,292.0 283.8,279.0 298,270 C312.2,261.0 329.5,243.0 346,238 C362.5,233.0 377.8,236.0 397,240 C416.2,244.0 445.5,253.7 461,262 C476.5,270.3 483.5,278.7 490,290 C496.5,301.3 499.2,319.2 500,330 C500.8,340.8 495.8,350.8 495,355" fill="none" stroke="#111" stroke-width="6.5" stroke-linejoin="round"/>
</g>
<path d="M22,300 C21.2,292.3 24.0,287.5 27,280 C30.0,272.5 35.7,262.0 40,255 C44.3,248.0 48.0,245.5 53,238 C58.0,230.5 63.8,218.8 70,210 C76.2,201.2 83.3,194.2 90,185 C96.7,175.8 102.8,165.5 110,155 C117.2,144.5 124.7,132.0 133,122 C141.3,112.0 151.2,103.0 160,95 C168.8,87.0 176.0,80.2 186,74 C196.0,67.8 211.2,62.0 220,58 C228.8,54.0 227.0,52.7 239,50 C251.0,47.3 273.5,43.0 292,42 C310.5,41.0 328.7,41.3 350,44 C371.3,46.7 396.7,50.7 420,58 C443.3,65.3 464.2,73.0 490,88 C515.8,103.0 551.7,127.2 575,148 C598.3,168.8 616.7,190.5 630,213 C643.3,235.5 651.7,263.0 655,283 C658.3,303.0 655.8,318.0 650,333 C644.2,348.0 635.0,361.3 620,373 C605.0,384.7 585.0,396.8 560,403 C535.0,409.2 490.0,408.0 470,410 C450.0,412.0 449.3,410.0 440,415 C430.7,420.0 424.0,434.7 414,440 C404.0,445.3 392.7,448.0 380,447 C367.3,446.0 352.2,439.5 338,434 C323.8,428.5 309.2,420.3 295,414 C280.8,407.7 265.2,400.5 253,396 C240.8,391.5 236.2,389.5 222,387 C207.8,384.5 187.3,384.8 168,381 C148.7,377.2 125.2,369.8 106,364 C86.8,358.2 65.3,352.3 53,346 C40.7,339.7 37.2,333.7 32,326 C26.8,318.3 22.8,307.7 22,300 Z" fill="none" stroke="#111" stroke-width="8.450000000000001" stroke-linejoin="round"/>
</g>
<defs><linearGradient id="cb_n1" x1="0" y1="0" x2="1" y2="0"><stop offset="0" stop-color="#4f6dab"/><stop offset="1" stop-color="#ffffff"/></linearGradient></defs>
<rect x="84.20" y="411.10" width="51.80" height="6.50" fill="url(#cb_n1)" stroke="#111" stroke-width="0.8" />
<text x="108.90" y="416.00" font-size="4.65" text-anchor="middle" font-weight="bold" fill="#111" >OoS Score</text>
<text x="84.20" y="421.90" font-size="3.2" text-anchor="middle" font-weight="normal" fill="#444" stroke="#444" stroke-width="0.080" >0.20</text>
<text x="97.15" y="421.90" font-size="3.2" text-anchor="middle" font-weight="normal" fill="#444" stroke="#444" stroke-width="0.080" >0.25</text>
<text x="110.10" y="421.90" font-size="3.2" text-anchor="middle" font-weight="normal" fill="#444" stroke="#444" stroke-width="0.080" >0.30</text>
<text x="123.05" y="421.90" font-size="3.2" text-anchor="middle" font-weight="normal" fill="#444" stroke="#444" stroke-width="0.080" >0.35</text>
<text x="136.00" y="421.90" font-size="3.2" text-anchor="middle" font-weight="normal" fill="#444" stroke="#444" stroke-width="0.080" >0.40</text>
<rect x="239.00" y="160.50" width="192.40" height="80.10" fill="#ebedf2" stroke="none" stroke-width="0.8" />
<text x="224.50" y="169.30" font-size="11" text-anchor="start" font-weight="bold" fill="#000" stroke="#000" stroke-width="0.35">e</text>
<g transform="translate(242.3,162.5) scale(0.1287610038102746)">
<path d="M20,268 C20.7,252.8 23.3,242.7 26,232 C28.7,221.3 31.0,215.0 36,204 C41.0,193.0 46.2,179.0 56,166 C65.8,153.0 79.3,138.2 95,126 C110.7,113.8 129.2,104.0 150,93 C170.8,82.0 195.0,69.5 220,60 C245.0,50.5 273.3,42.0 300,36 C326.7,30.0 356.7,25.3 380,24 C403.3,22.7 420.8,23.3 440,28 C459.2,32.7 478.3,41.3 495,52 C511.7,62.7 527.0,77.3 540,92 C553.0,106.7 561.0,122.0 573,140 C585.0,158.0 600.8,181.3 612,200 C623.2,218.7 633.5,236.8 640,252 C646.5,267.2 650.2,279.0 651,291 C651.8,303.0 649.7,314.7 645,324 C640.3,333.3 634.0,340.0 623,347 C612.0,354.0 593.8,360.5 579,366 C564.2,371.5 550.7,374.0 534,380 C517.3,386.0 497.5,394.7 479,402 C460.5,409.3 441.5,417.5 423,424 C404.5,430.5 386.5,435.3 368,441 C349.5,446.7 329.8,454.3 312,458 C294.2,461.7 274.0,465.5 261,463 C248.0,460.5 241.3,451.5 234,443 C226.7,434.5 224.5,419.8 217,412 C209.5,404.2 203.8,401.0 189,396 C174.2,391.0 147.5,385.7 128,382 C108.5,378.3 86.8,379.0 72,374 C57.2,369.0 47.3,360.5 39,352 C30.7,343.5 25.2,337.0 22,323 C18.8,309.0 19.3,283.2 20,268 Z" fill="#e8a3a0"/>
<g clip-path="url(#latclip)">
<polygon points="128,112 262,48 240,100 220,150 205,200 168,196 148,158" fill="#f3cfcc" stroke="#111" stroke-width="6.5" stroke-linejoin="round"/>
<polygon points="262,48 378,22 345,80 310,130 285,185 272,225 280,262 222,278 205,200 220,150 240,100" fill="#fde6e5" stroke="#111" stroke-width="6.5" stroke-linejoin="round"/>
<polygon points="30,200 56,160 95,122 150,89 220,56 300,32 380,20 376,38 300,50 224,74 156,108 106,140 70,176 46,214" fill="#efc0bd" stroke="#111" stroke-width="6.5" stroke-linejoin="round"/>
<polygon points="378,22 440,26 418,100 372,120 345,160 336,205 345,240 300,262 280,262 272,225 285,185 310,130 345,80" fill="#e9a5a1" stroke="#111" stroke-width="6.5" stroke-linejoin="round"/>
<polygon points="440,26 495,50 540,90 555,115 480,122 418,100" fill="#f0bfbc" stroke="#111" stroke-width="6.5" stroke-linejoin="round"/>
<polygon points="418,100 480,122 502,152 506,186 495,219 473,233 423,238 345,244 336,205 345,160 372,120" fill="#eeb5b2" stroke="#111" stroke-width="6.5" stroke-linejoin="round"/>
<polygon points="480,122 555,115 573,140 612,200 628,240 612,262 560,272 520,262 506,240 495,219 506,186 502,152" fill="#f4cecb" stroke="#111" stroke-width="6.5" stroke-linejoin="round"/>
<polygon points="628,240 665,250 665,330 623,347 579,366 572,320 560,272 612,262" fill="#f2c6c3" stroke="#111" stroke-width="6.5" stroke-linejoin="round"/>
<polygon points="120,251 145,212 168,196 205,200 222,274 167,305 139,279" fill="#f1c5c2" stroke="#111" stroke-width="6.5" stroke-linejoin="round"/>
<polygon points="66,300 120,251 139,279 167,305 123,337 70,334" fill="#bbbbbb" stroke="#111" stroke-width="6.5" stroke-linejoin="round"/>
<polygon points="30,330 123,340 106,360 40,356" fill="#fbe5e4" stroke="#111" stroke-width="6.5" stroke-linejoin="round"/>
<polygon points="245,445 319,392 405,338 450,330 490,315 525,285 560,272 572,320 580,330 552,332 452,392 352,432 262,470" fill="#dc8580" stroke="#111" stroke-width="6.5" stroke-linejoin="round"/>
<polygon points="352,432 452,392 552,332 580,330 595,372 534,380 479,402 423,424 368,441 340,458" fill="#e6a09c" stroke="#111" stroke-width="6.5" stroke-linejoin="round"/>
<polygon points="219,398 260,357 299,318 330,285 352,252 420,243 468,236 418,292 405,338 319,392 245,445 230,425" fill="#bbbbbb" stroke="#111" stroke-width="6.5" stroke-linejoin="round"/>
<polygon points="160,310 234,274 300,262 352,252 330,285 299,318 260,357 219,398 200,395 178,379 165,346" fill="#eeb8b4" stroke="#111" stroke-width="6.5" stroke-linejoin="round"/>
<polygon points="418,292 468,236 512,262 525,285 490,315 450,330 405,338" fill="#bbbbbb" stroke="#111" stroke-width="6.5" stroke-linejoin="round"/>
<ellipse cx="332" cy="291" rx="36" ry="15" transform="rotate(-42 332 291)" fill="#e49d99" stroke="#111" stroke-width="6.5"/>
</g>
<path d="M20,268 C20.7,252.8 23.3,242.7 26,232 C28.7,221.3 31.0,215.0 36,204 C41.0,193.0 46.2,179.0 56,166 C65.8,153.0 79.3,138.2 95,126 C110.7,113.8 129.2,104.0 150,93 C170.8,82.0 195.0,69.5 220,60 C245.0,50.5 273.3,42.0 300,36 C326.7,30.0 356.7,25.3 380,24 C403.3,22.7 420.8,23.3 440,28 C459.2,32.7 478.3,41.3 495,52 C511.7,62.7 527.0,77.3 540,92 C553.0,106.7 561.0,122.0 573,140 C585.0,158.0 600.8,181.3 612,200 C623.2,218.7 633.5,236.8 640,252 C646.5,267.2 650.2,279.0 651,291 C651.8,303.0 649.7,314.7 645,324 C640.3,333.3 634.0,340.0 623,347 C612.0,354.0 593.8,360.5 579,366 C564.2,371.5 550.7,374.0 534,380 C517.3,386.0 497.5,394.7 479,402 C460.5,409.3 441.5,417.5 423,424 C404.5,430.5 386.5,435.3 368,441 C349.5,446.7 329.8,454.3 312,458 C294.2,461.7 274.0,465.5 261,463 C248.0,460.5 241.3,451.5 234,443 C226.7,434.5 224.5,419.8 217,412 C209.5,404.2 203.8,401.0 189,396 C174.2,391.0 147.5,385.7 128,382 C108.5,378.3 86.8,379.0 72,374 C57.2,369.0 47.3,360.5 39,352 C30.7,343.5 25.2,337.0 22,323 C18.8,309.0 19.3,283.2 20,268 Z" fill="none" stroke="#111" stroke-width="8.450000000000001" stroke-linejoin="round"/>
</g>
<g transform="translate(338.6,161.6) scale(0.1344860710854947)">
<path d="M22,300 C21.2,292.3 24.0,287.5 27,280 C30.0,272.5 35.7,262.0 40,255 C44.3,248.0 48.0,245.5 53,238 C58.0,230.5 63.8,218.8 70,210 C76.2,201.2 83.3,194.2 90,185 C96.7,175.8 102.8,165.5 110,155 C117.2,144.5 124.7,132.0 133,122 C141.3,112.0 151.2,103.0 160,95 C168.8,87.0 176.0,80.2 186,74 C196.0,67.8 211.2,62.0 220,58 C228.8,54.0 227.0,52.7 239,50 C251.0,47.3 273.5,43.0 292,42 C310.5,41.0 328.7,41.3 350,44 C371.3,46.7 396.7,50.7 420,58 C443.3,65.3 464.2,73.0 490,88 C515.8,103.0 551.7,127.2 575,148 C598.3,168.8 616.7,190.5 630,213 C643.3,235.5 651.7,263.0 655,283 C658.3,303.0 655.8,318.0 650,333 C644.2,348.0 635.0,361.3 620,373 C605.0,384.7 585.0,396.8 560,403 C535.0,409.2 490.0,408.0 470,410 C450.0,412.0 449.3,410.0 440,415 C430.7,420.0 424.0,434.7 414,440 C404.0,445.3 392.7,448.0 380,447 C367.3,446.0 352.2,439.5 338,434 C323.8,428.5 309.2,420.3 295,414 C280.8,407.7 265.2,400.5 253,396 C240.8,391.5 236.2,389.5 222,387 C207.8,384.5 187.3,384.8 168,381 C148.7,377.2 125.2,369.8 106,364 C86.8,358.2 65.3,352.3 53,346 C40.7,339.7 37.2,333.7 32,326 C26.8,318.3 22.8,307.7 22,300 Z" fill="#f6d3d0"/>
<g clip-path="url(#medclip)">
<polygon points="90,185 110,155 133,122 160,95 186,74 220,58 237,52 266,132 250,169 207,180 191,212 176,292 144,302 106,238" fill="#dc7f7a" stroke="#111" stroke-width="6.5" stroke-linejoin="round"/>
<polygon points="237,52 292,40 364,42 364,132 266,132" fill="#bcbcbc" stroke="#111" stroke-width="6.5" stroke-linejoin="round"/>
<polygon points="15,300 27,280 53,238 90,185 106,238 128,270 80,270 28,297" fill="#f5d0cd" stroke="#111" stroke-width="6.5" stroke-linejoin="round"/>
<polygon points="15,297 80,270 128,270 140,297 117,313 15,326" fill="#efbdb9" stroke="#111" stroke-width="6.5" stroke-linejoin="round"/>
<polygon points="15,326 117,313 140,297 176,297 213,334 224,344 232,372 236,392 168,384 106,366 53,348" fill="#fce8e7" stroke="#111" stroke-width="6.5" stroke-linejoin="round"/>
<polygon points="266,132 364,132 440,158 432,193 440,200 400,202 330,200 277,203 271,185 250,169" fill="#efbcb8" stroke="#111" stroke-width="6.5" stroke-linejoin="round"/>
<polygon points="207,180 250,169 271,185 277,203 229,233 218,260 213,292 176,292 191,212" fill="#d97671" stroke="#111" stroke-width="6.5" stroke-linejoin="round"/>
<polygon points="440,158 500,173 560,243 555,268 515,233 450,203 440,200 432,193" fill="#f3cac7" stroke="#111" stroke-width="6.5" stroke-linejoin="round"/>
<polygon points="560,243 615,313 560,373 505,373 505,353 550,328 555,268" fill="#eeb6b2" stroke="#111" stroke-width="6.5" stroke-linejoin="round"/>
<polygon points="615,313 670,320 665,345 620,378 560,408 470,415 475,398 505,373 560,373" fill="#f3cac7" stroke="#111" stroke-width="6.5" stroke-linejoin="round"/>
<polygon points="205,330 227,338 253,368 295,398 338,423 372,436 380,452 338,445 295,428 250,410 215,395" fill="#fce8e7" stroke="#111" stroke-width="6.5" stroke-linejoin="round"/>
<path d="M214,250 C215.7,237.0 215.5,220.0 223,212 C230.5,204.0 245.0,204.2 259,202 C273.0,199.8 291.8,199.7 307,199 C322.2,198.3 326.2,197.3 350,198 C373.8,198.7 422.5,197.2 450,203 C477.5,208.8 497.5,222.2 515,233 C532.5,243.8 549.2,252.2 555,268 C560.8,283.8 558.3,313.8 550,328 C541.7,342.2 517.5,342.2 505,353 C492.5,363.8 487.3,383.3 475,393 C462.7,402.7 442.5,404.5 431,411 C419.5,417.5 415.8,427.8 406,432 C396.2,436.2 383.3,437.2 372,436 C360.7,434.8 350.8,430.5 338,425 C325.2,419.5 309.2,411.7 295,403 C280.8,394.3 264.3,383.2 253,373 C241.7,362.8 233.7,355.8 227,342 C220.3,328.2 215.2,305.3 213,290 C210.8,274.7 212.3,263.0 214,250 Z" fill="#bcbcbc" stroke="#111" stroke-width="6.5" stroke-linejoin="round"/>
<path d="M214,270 C221.8,273.7 247.0,292.0 261,292 C275.0,292.0 283.8,279.0 298,270 C312.2,261.0 329.5,243.0 346,238 C362.5,233.0 377.8,236.0 397,240 C416.2,244.0 445.5,253.7 461,262 C476.5,270.3 483.5,278.7 490,290 C496.5,301.3 499.2,319.2 500,330 C500.8,340.8 495.8,350.8 495,355" fill="none" stroke="#111" stroke-width="6.5" stroke-linejoin="round"/>
</g>
<path d="M22,300 C21.2,292.3 24.0,287.5 27,280 C30.0,272.5 35.7,262.0 40,255 C44.3,248.0 48.0,245.5 53,238 C58.0,230.5 63.8,218.8 70,210 C76.2,201.2 83.3,194.2 90,185 C96.7,175.8 102.8,165.5 110,155 C117.2,144.5 124.7,132.0 133,122 C141.3,112.0 151.2,103.0 160,95 C168.8,87.0 176.0,80.2 186,74 C196.0,67.8 211.2,62.0 220,58 C228.8,54.0 227.0,52.7 239,50 C251.0,47.3 273.5,43.0 292,42 C310.5,41.0 328.7,41.3 350,44 C371.3,46.7 396.7,50.7 420,58 C443.3,65.3 464.2,73.0 490,88 C515.8,103.0 551.7,127.2 575,148 C598.3,168.8 616.7,190.5 630,213 C643.3,235.5 651.7,263.0 655,283 C658.3,303.0 655.8,318.0 650,333 C644.2,348.0 635.0,361.3 620,373 C605.0,384.7 585.0,396.8 560,403 C535.0,409.2 490.0,408.0 470,410 C450.0,412.0 449.3,410.0 440,415 C430.7,420.0 424.0,434.7 414,440 C404.0,445.3 392.7,448.0 380,447 C367.3,446.0 352.2,439.5 338,434 C323.8,428.5 309.2,420.3 295,414 C280.8,407.7 265.2,400.5 253,396 C240.8,391.5 236.2,389.5 222,387 C207.8,384.5 187.3,384.8 168,381 C148.7,377.2 125.2,369.8 106,364 C86.8,358.2 65.3,352.3 53,346 C40.7,339.7 37.2,333.7 32,326 C26.8,318.3 22.8,307.7 22,300 Z" fill="none" stroke="#111" stroke-width="8.450000000000001" stroke-linejoin="round"/>
</g>
<defs><linearGradient id="cb_e" x1="0" y1="0" x2="1" y2="0"><stop offset="0" stop-color="#ffffff"/><stop offset="1" stop-color="#d9706a"/></linearGradient></defs>
<rect x="308.20" y="227.20" width="56.60" height="7.40" fill="url(#cb_e)" stroke="#111" stroke-width="0.8" />
<text x="338.10" y="232.55" font-size="4.65" text-anchor="middle" font-weight="bold" fill="#111" >Mean SHAP</text>
<text x="308.20" y="239.10" font-size="3.2" text-anchor="middle" font-weight="normal" fill="#444" stroke="#444" stroke-width="0.080" >0</text>
<text x="322.35" y="239.10" font-size="3.2" text-anchor="middle" font-weight="normal" fill="#444" stroke="#444" stroke-width="0.080" ></text>
<text x="336.50" y="239.10" font-size="3.2" text-anchor="middle" font-weight="normal" fill="#444" stroke="#444" stroke-width="0.080" ></text>
<text x="350.65" y="239.10" font-size="3.2" text-anchor="middle" font-weight="normal" fill="#444" stroke="#444" stroke-width="0.080" ></text>
<text x="364.80" y="239.10" font-size="3.2" text-anchor="middle" font-weight="normal" fill="#444" stroke="#444" stroke-width="0.080" >0.05</text>
<rect x="239.00" y="252.30" width="192.40" height="79.60" fill="#fff0eb" stroke="none" stroke-width="0.8" />
<text x="224.50" y="257.50" font-size="11" text-anchor="start" font-weight="bold" fill="#000" stroke="#000" stroke-width="0.35">f</text>
<g transform="translate(242.3,254.3) scale(0.1287610038102746)">
<path d="M20,268 C20.7,252.8 23.3,242.7 26,232 C28.7,221.3 31.0,215.0 36,204 C41.0,193.0 46.2,179.0 56,166 C65.8,153.0 79.3,138.2 95,126 C110.7,113.8 129.2,104.0 150,93 C170.8,82.0 195.0,69.5 220,60 C245.0,50.5 273.3,42.0 300,36 C326.7,30.0 356.7,25.3 380,24 C403.3,22.7 420.8,23.3 440,28 C459.2,32.7 478.3,41.3 495,52 C511.7,62.7 527.0,77.3 540,92 C553.0,106.7 561.0,122.0 573,140 C585.0,158.0 600.8,181.3 612,200 C623.2,218.7 633.5,236.8 640,252 C646.5,267.2 650.2,279.0 651,291 C651.8,303.0 649.7,314.7 645,324 C640.3,333.3 634.0,340.0 623,347 C612.0,354.0 593.8,360.5 579,366 C564.2,371.5 550.7,374.0 534,380 C517.3,386.0 497.5,394.7 479,402 C460.5,409.3 441.5,417.5 423,424 C404.5,430.5 386.5,435.3 368,441 C349.5,446.7 329.8,454.3 312,458 C294.2,461.7 274.0,465.5 261,463 C248.0,460.5 241.3,451.5 234,443 C226.7,434.5 224.5,419.8 217,412 C209.5,404.2 203.8,401.0 189,396 C174.2,391.0 147.5,385.7 128,382 C108.5,378.3 86.8,379.0 72,374 C57.2,369.0 47.3,360.5 39,352 C30.7,343.5 25.2,337.0 22,323 C18.8,309.0 19.3,283.2 20,268 Z" fill="#fefafa"/>
<g clip-path="url(#latclip)">
<polygon points="128,112 262,48 240,100 220,150 205,200 168,196 148,158" fill="#fbeceb" stroke="#111" stroke-width="6.5" stroke-linejoin="round"/>
<polygon points="262,48 378,22 345,80 310,130 285,185 272,225 280,262 222,278 205,200 220,150 240,100" fill="#fbe5e4" stroke="#111" stroke-width="6.5" stroke-linejoin="round"/>
<polygon points="30,200 56,160 95,122 150,89 220,56 300,32 380,20 376,38 300,50 224,74 156,108 106,140 70,176 46,214" fill="#fbeeee" stroke="#111" stroke-width="6.5" stroke-linejoin="round"/>
<polygon points="378,22 440,26 418,100 372,120 345,160 336,205 345,240 300,262 280,262 272,225 285,185 310,130 345,80" fill="#f8dcda" stroke="#111" stroke-width="6.5" stroke-linejoin="round"/>
<polygon points="440,26 495,50 540,90 555,115 480,122 418,100" fill="#fbeceb" stroke="#111" stroke-width="6.5" stroke-linejoin="round"/>
<polygon points="418,100 480,122 502,152 506,186 495,219 473,233 423,238 345,244 336,205 345,160 372,120" fill="#fbe7e6" stroke="#111" stroke-width="6.5" stroke-linejoin="round"/>
<polygon points="480,122 555,115 573,140 612,200 628,240 612,262 560,272 520,262 506,240 495,219 506,186 502,152" fill="#fcefee" stroke="#111" stroke-width="6.5" stroke-linejoin="round"/>
<polygon points="628,240 665,250 665,330 623,347 579,366 572,320 560,272 612,262" fill="#fbeceb" stroke="#111" stroke-width="6.5" stroke-linejoin="round"/>
<polygon points="120,251 145,212 168,196 205,200 222,274 167,305 139,279" fill="#f2c8c5" stroke="#111" stroke-width="6.5" stroke-linejoin="round"/>
<polygon points="66,300 120,251 139,279 167,305 123,337 70,334" fill="#fdf3f2" stroke="#111" stroke-width="6.5" stroke-linejoin="round"/>
<polygon points="30,330 123,340 106,360 40,356" fill="#fffafa" stroke="#111" stroke-width="6.5" stroke-linejoin="round"/>
<polygon points="245,445 319,392 405,338 450,330 490,315 525,285 560,272 572,320 580,330 552,332 452,392 352,432 262,470" fill="#fbe9e8" stroke="#111" stroke-width="6.5" stroke-linejoin="round"/>
<polygon points="352,432 452,392 552,332 580,330 595,372 534,380 479,402 423,424 368,441 340,458" fill="#fdf5f4" stroke="#111" stroke-width="6.5" stroke-linejoin="round"/>
<polygon points="219,398 260,357 299,318 330,285 352,252 420,243 468,236 418,292 405,338 319,392 245,445 230,425" fill="#f8dddb" stroke="#111" stroke-width="6.5" stroke-linejoin="round"/>
<polygon points="160,310 234,274 300,262 352,252 330,285 299,318 260,357 219,398 200,395 178,379 165,346" fill="#f0c3bf" stroke="#111" stroke-width="6.5" stroke-linejoin="round"/>
<polygon points="418,292 468,236 512,262 525,285 490,315 450,330 405,338" fill="#f0c3bf" stroke="#111" stroke-width="6.5" stroke-linejoin="round"/>
<ellipse cx="332" cy="291" rx="36" ry="15" transform="rotate(-42 332 291)" fill="#efbdb9" stroke="#111" stroke-width="6.5"/>
</g>
<path d="M20,268 C20.7,252.8 23.3,242.7 26,232 C28.7,221.3 31.0,215.0 36,204 C41.0,193.0 46.2,179.0 56,166 C65.8,153.0 79.3,138.2 95,126 C110.7,113.8 129.2,104.0 150,93 C170.8,82.0 195.0,69.5 220,60 C245.0,50.5 273.3,42.0 300,36 C326.7,30.0 356.7,25.3 380,24 C403.3,22.7 420.8,23.3 440,28 C459.2,32.7 478.3,41.3 495,52 C511.7,62.7 527.0,77.3 540,92 C553.0,106.7 561.0,122.0 573,140 C585.0,158.0 600.8,181.3 612,200 C623.2,218.7 633.5,236.8 640,252 C646.5,267.2 650.2,279.0 651,291 C651.8,303.0 649.7,314.7 645,324 C640.3,333.3 634.0,340.0 623,347 C612.0,354.0 593.8,360.5 579,366 C564.2,371.5 550.7,374.0 534,380 C517.3,386.0 497.5,394.7 479,402 C460.5,409.3 441.5,417.5 423,424 C404.5,430.5 386.5,435.3 368,441 C349.5,446.7 329.8,454.3 312,458 C294.2,461.7 274.0,465.5 261,463 C248.0,460.5 241.3,451.5 234,443 C226.7,434.5 224.5,419.8 217,412 C209.5,404.2 203.8,401.0 189,396 C174.2,391.0 147.5,385.7 128,382 C108.5,378.3 86.8,379.0 72,374 C57.2,369.0 47.3,360.5 39,352 C30.7,343.5 25.2,337.0 22,323 C18.8,309.0 19.3,283.2 20,268 Z" fill="none" stroke="#111" stroke-width="8.450000000000001" stroke-linejoin="round"/>
</g>
<g transform="translate(338.6,253.4) scale(0.1344860710854947)">
<path d="M22,300 C21.2,292.3 24.0,287.5 27,280 C30.0,272.5 35.7,262.0 40,255 C44.3,248.0 48.0,245.5 53,238 C58.0,230.5 63.8,218.8 70,210 C76.2,201.2 83.3,194.2 90,185 C96.7,175.8 102.8,165.5 110,155 C117.2,144.5 124.7,132.0 133,122 C141.3,112.0 151.2,103.0 160,95 C168.8,87.0 176.0,80.2 186,74 C196.0,67.8 211.2,62.0 220,58 C228.8,54.0 227.0,52.7 239,50 C251.0,47.3 273.5,43.0 292,42 C310.5,41.0 328.7,41.3 350,44 C371.3,46.7 396.7,50.7 420,58 C443.3,65.3 464.2,73.0 490,88 C515.8,103.0 551.7,127.2 575,148 C598.3,168.8 616.7,190.5 630,213 C643.3,235.5 651.7,263.0 655,283 C658.3,303.0 655.8,318.0 650,333 C644.2,348.0 635.0,361.3 620,373 C605.0,384.7 585.0,396.8 560,403 C535.0,409.2 490.0,408.0 470,410 C450.0,412.0 449.3,410.0 440,415 C430.7,420.0 424.0,434.7 414,440 C404.0,445.3 392.7,448.0 380,447 C367.3,446.0 352.2,439.5 338,434 C323.8,428.5 309.2,420.3 295,414 C280.8,407.7 265.2,400.5 253,396 C240.8,391.5 236.2,389.5 222,387 C207.8,384.5 187.3,384.8 168,381 C148.7,377.2 125.2,369.8 106,364 C86.8,358.2 65.3,352.3 53,346 C40.7,339.7 37.2,333.7 32,326 C26.8,318.3 22.8,307.7 22,300 Z" fill="#fdf0ef"/>
<g clip-path="url(#medclip)">
<polygon points="90,185 110,155 133,122 160,95 186,74 220,58 237,52 266,132 250,169 207,180 191,212 176,292 144,302 106,238" fill="#f8dcda" stroke="#111" stroke-width="6.5" stroke-linejoin="round"/>
<polygon points="237,52 292,40 364,42 364,132 266,132" fill="#f5d0cd" stroke="#111" stroke-width="6.5" stroke-linejoin="round"/>
<polygon points="15,300 27,280 53,238 90,185 106,238 128,270 80,270 28,297" fill="#fdf1f0" stroke="#111" stroke-width="6.5" stroke-linejoin="round"/>
<polygon points="15,297 80,270 128,270 140,297 117,313 15,326" fill="#fbe9e8" stroke="#111" stroke-width="6.5" stroke-linejoin="round"/>
<polygon points="15,326 117,313 140,297 176,297 213,334 224,344 232,372 236,392 168,384 106,366 53,348" fill="#fcefee" stroke="#111" stroke-width="6.5" stroke-linejoin="round"/>
<polygon points="266,132 364,132 440,158 432,193 440,200 400,202 330,200 277,203 271,185 250,169" fill="#f5cfcc" stroke="#111" stroke-width="6.5" stroke-linejoin="round"/>
<polygon points="207,180 250,169 271,185 277,203 229,233 218,260 213,292 176,292 191,212" fill="#fbe9e8" stroke="#111" stroke-width="6.5" stroke-linejoin="round"/>
<polygon points="440,158 500,173 560,243 555,268 515,233 450,203 440,200 432,193" fill="#f3c6c3" stroke="#111" stroke-width="6.5" stroke-linejoin="round"/>
<polygon points="560,243 615,313 560,373 505,373 505,353 550,328 555,268" fill="#fdf0ef" stroke="#111" stroke-width="6.5" stroke-linejoin="round"/>
<polygon points="615,313 670,320 665,345 620,378 560,408 470,415 475,398 505,373 560,373" fill="#fdf2f1" stroke="#111" stroke-width="6.5" stroke-linejoin="round"/>
<polygon points="205,330 227,338 253,368 295,398 338,423 372,436 380,452 338,445 295,428 250,410 215,395" fill="#fdf2f1" stroke="#111" stroke-width="6.5" stroke-linejoin="round"/>
<path d="M214,250 C215.7,237.0 215.5,220.0 223,212 C230.5,204.0 245.0,204.2 259,202 C273.0,199.8 291.8,199.7 307,199 C322.2,198.3 326.2,197.3 350,198 C373.8,198.7 422.5,197.2 450,203 C477.5,208.8 497.5,222.2 515,233 C532.5,243.8 549.2,252.2 555,268 C560.8,283.8 558.3,313.8 550,328 C541.7,342.2 517.5,342.2 505,353 C492.5,363.8 487.3,383.3 475,393 C462.7,402.7 442.5,404.5 431,411 C419.5,417.5 415.8,427.8 406,432 C396.2,436.2 383.3,437.2 372,436 C360.7,434.8 350.8,430.5 338,425 C325.2,419.5 309.2,411.7 295,403 C280.8,394.3 264.3,383.2 253,373 C241.7,362.8 233.7,355.8 227,342 C220.3,328.2 215.2,305.3 213,290 C210.8,274.7 212.3,263.0 214,250 Z" fill="#787878" stroke="#111" stroke-width="6.5" stroke-linejoin="round"/>
<path d="M214,270 C221.8,273.7 247.0,292.0 261,292 C275.0,292.0 283.8,279.0 298,270 C312.2,261.0 329.5,243.0 346,238 C362.5,233.0 377.8,236.0 397,240 C416.2,244.0 445.5,253.7 461,262 C476.5,270.3 483.5,278.7 490,290 C496.5,301.3 499.2,319.2 500,330 C500.8,340.8 495.8,350.8 495,355" fill="none" stroke="#111" stroke-width="6.5" stroke-linejoin="round"/>
</g>
<path d="M22,300 C21.2,292.3 24.0,287.5 27,280 C30.0,272.5 35.7,262.0 40,255 C44.3,248.0 48.0,245.5 53,238 C58.0,230.5 63.8,218.8 70,210 C76.2,201.2 83.3,194.2 90,185 C96.7,175.8 102.8,165.5 110,155 C117.2,144.5 124.7,132.0 133,122 C141.3,112.0 151.2,103.0 160,95 C168.8,87.0 176.0,80.2 186,74 C196.0,67.8 211.2,62.0 220,58 C228.8,54.0 227.0,52.7 239,50 C251.0,47.3 273.5,43.0 292,42 C310.5,41.0 328.7,41.3 350,44 C371.3,46.7 396.7,50.7 420,58 C443.3,65.3 464.2,73.0 490,88 C515.8,103.0 551.7,127.2 575,148 C598.3,168.8 616.7,190.5 630,213 C643.3,235.5 651.7,263.0 655,283 C658.3,303.0 655.8,318.0 650,333 C644.2,348.0 635.0,361.3 620,373 C605.0,384.7 585.0,396.8 560,403 C535.0,409.2 490.0,408.0 470,410 C450.0,412.0 449.3,410.0 440,415 C430.7,420.0 424.0,434.7 414,440 C404.0,445.3 392.7,448.0 380,447 C367.3,446.0 352.2,439.5 338,434 C323.8,428.5 309.2,420.3 295,414 C280.8,407.7 265.2,400.5 253,396 C240.8,391.5 236.2,389.5 222,387 C207.8,384.5 187.3,384.8 168,381 C148.7,377.2 125.2,369.8 106,364 C86.8,358.2 65.3,352.3 53,346 C40.7,339.7 37.2,333.7 32,326 C26.8,318.3 22.8,307.7 22,300 Z" fill="none" stroke="#111" stroke-width="8.450000000000001" stroke-linejoin="round"/>
</g>
<defs><linearGradient id="cb_f" x1="0" y1="0" x2="1" y2="0"><stop offset="0" stop-color="#ffffff"/><stop offset="1" stop-color="#d9706a"/></linearGradient></defs>
<rect x="310.30" y="320.00" width="52.10" height="6.40" fill="url(#cb_f)" stroke="#111" stroke-width="0.8" />
<text x="337.50" y="324.85" font-size="4.65" text-anchor="middle" font-weight="bold" fill="#111" >Prevalence</text>
<text x="310.30" y="331.00" font-size="3.2" text-anchor="middle" font-weight="normal" fill="#444" stroke="#444" stroke-width="0.080" >0</text>
<text x="327.67" y="331.00" font-size="3.2" text-anchor="middle" font-weight="normal" fill="#444" stroke="#444" stroke-width="0.080" >6%</text>
<text x="345.03" y="331.00" font-size="3.2" text-anchor="middle" font-weight="normal" fill="#444" stroke="#444" stroke-width="0.080" >12%</text>
<text x="362.40" y="331.00" font-size="3.2" text-anchor="middle" font-weight="normal" fill="#444" stroke="#444" stroke-width="0.080" >18%</text>
<rect x="239.00" y="343.30" width="192.40" height="79.70" fill="#ecf5f1" stroke="none" stroke-width="0.8" />
<g transform="translate(242.3,345.3) scale(0.1287610038102746)">
<path d="M20,268 C20.7,252.8 23.3,242.7 26,232 C28.7,221.3 31.0,215.0 36,204 C41.0,193.0 46.2,179.0 56,166 C65.8,153.0 79.3,138.2 95,126 C110.7,113.8 129.2,104.0 150,93 C170.8,82.0 195.0,69.5 220,60 C245.0,50.5 273.3,42.0 300,36 C326.7,30.0 356.7,25.3 380,24 C403.3,22.7 420.8,23.3 440,28 C459.2,32.7 478.3,41.3 495,52 C511.7,62.7 527.0,77.3 540,92 C553.0,106.7 561.0,122.0 573,140 C585.0,158.0 600.8,181.3 612,200 C623.2,218.7 633.5,236.8 640,252 C646.5,267.2 650.2,279.0 651,291 C651.8,303.0 649.7,314.7 645,324 C640.3,333.3 634.0,340.0 623,347 C612.0,354.0 593.8,360.5 579,366 C564.2,371.5 550.7,374.0 534,380 C517.3,386.0 497.5,394.7 479,402 C460.5,409.3 441.5,417.5 423,424 C404.5,430.5 386.5,435.3 368,441 C349.5,446.7 329.8,454.3 312,458 C294.2,461.7 274.0,465.5 261,463 C248.0,460.5 241.3,451.5 234,443 C226.7,434.5 224.5,419.8 217,412 C209.5,404.2 203.8,401.0 189,396 C174.2,391.0 147.5,385.7 128,382 C108.5,378.3 86.8,379.0 72,374 C57.2,369.0 47.3,360.5 39,352 C30.7,343.5 25.2,337.0 22,323 C18.8,309.0 19.3,283.2 20,268 Z" fill="#efbcb8"/>
<g clip-path="url(#latclip)">
<polygon points="128,112 262,48 240,100 220,150 205,200 168,196 148,158" fill="#f2c7c4" stroke="#111" stroke-width="6.5" stroke-linejoin="round"/>
<polygon points="262,48 378,22 345,80 310,130 285,185 272,225 280,262 222,278 205,200 220,150 240,100" fill="#f3cbc8" stroke="#111" stroke-width="6.5" stroke-linejoin="round"/>
<polygon points="30,200 56,160 95,122 150,89 220,56 300,32 380,20 376,38 300,50 224,74 156,108 106,140 70,176 46,214" fill="#f3cdca" stroke="#111" stroke-width="6.5" stroke-linejoin="round"/>
<polygon points="378,22 440,26 418,100 372,120 345,160 336,205 345,240 300,262 280,262 272,225 285,185 310,130 345,80" fill="#efbdb9" stroke="#111" stroke-width="6.5" stroke-linejoin="round"/>
<polygon points="440,26 495,50 540,90 555,115 480,122 418,100" fill="#f1c4c1" stroke="#111" stroke-width="6.5" stroke-linejoin="round"/>
<polygon points="418,100 480,122 502,152 506,186 495,219 473,233 423,238 345,244 336,205 345,160 372,120" fill="#efbbb7" stroke="#111" stroke-width="6.5" stroke-linejoin="round"/>
<polygon points="480,122 555,115 573,140 612,200 628,240 612,262 560,272 520,262 506,240 495,219 506,186 502,152" fill="#f1c3c0" stroke="#111" stroke-width="6.5" stroke-linejoin="round"/>
<polygon points="628,240 665,250 665,330 623,347 579,366 572,320 560,272 612,262" fill="#efbdb9" stroke="#111" stroke-width="6.5" stroke-linejoin="round"/>
<polygon points="120,251 145,212 168,196 205,200 222,274 167,305 139,279" fill="#f4cfcc" stroke="#111" stroke-width="6.5" stroke-linejoin="round"/>
<polygon points="66,300 120,251 139,279 167,305 123,337 70,334" fill="#f0c2bf" stroke="#111" stroke-width="6.5" stroke-linejoin="round"/>
<polygon points="30,330 123,340 106,360 40,356" fill="#f6d8d6" stroke="#111" stroke-width="6.5" stroke-linejoin="round"/>
<polygon points="245,445 319,392 405,338 450,330 490,315 525,285 560,272 572,320 580,330 552,332 452,392 352,432 262,470" fill="#d8736e" stroke="#111" stroke-width="6.5" stroke-linejoin="round"/>
<polygon points="352,432 452,392 552,332 580,330 595,372 534,380 479,402 423,424 368,441 340,458" fill="#e6a09c" stroke="#111" stroke-width="6.5" stroke-linejoin="round"/>
<polygon points="219,398 260,357 299,318 330,285 352,252 420,243 468,236 418,292 405,338 319,392 245,445 230,425" fill="#f0c1be" stroke="#111" stroke-width="6.5" stroke-linejoin="round"/>
<polygon points="160,310 234,274 300,262 352,252 330,285 299,318 260,357 219,398 200,395 178,379 165,346" fill="#fbe5e4" stroke="#111" stroke-width="6.5" stroke-linejoin="round"/>
<polygon points="418,292 468,236 512,262 525,285 490,315 450,330 405,338" fill="#f8dedc" stroke="#111" stroke-width="6.5" stroke-linejoin="round"/>
<ellipse cx="332" cy="291" rx="36" ry="15" transform="rotate(-42 332 291)" fill="#f5d3d0" stroke="#111" stroke-width="6.5"/>
</g>
<path d="M20,268 C20.7,252.8 23.3,242.7 26,232 C28.7,221.3 31.0,215.0 36,204 C41.0,193.0 46.2,179.0 56,166 C65.8,153.0 79.3,138.2 95,126 C110.7,113.8 129.2,104.0 150,93 C170.8,82.0 195.0,69.5 220,60 C245.0,50.5 273.3,42.0 300,36 C326.7,30.0 356.7,25.3 380,24 C403.3,22.7 420.8,23.3 440,28 C459.2,32.7 478.3,41.3 495,52 C511.7,62.7 527.0,77.3 540,92 C553.0,106.7 561.0,122.0 573,140 C585.0,158.0 600.8,181.3 612,200 C623.2,218.7 633.5,236.8 640,252 C646.5,267.2 650.2,279.0 651,291 C651.8,303.0 649.7,314.7 645,324 C640.3,333.3 634.0,340.0 623,347 C612.0,354.0 593.8,360.5 579,366 C564.2,371.5 550.7,374.0 534,380 C517.3,386.0 497.5,394.7 479,402 C460.5,409.3 441.5,417.5 423,424 C404.5,430.5 386.5,435.3 368,441 C349.5,446.7 329.8,454.3 312,458 C294.2,461.7 274.0,465.5 261,463 C248.0,460.5 241.3,451.5 234,443 C226.7,434.5 224.5,419.8 217,412 C209.5,404.2 203.8,401.0 189,396 C174.2,391.0 147.5,385.7 128,382 C108.5,378.3 86.8,379.0 72,374 C57.2,369.0 47.3,360.5 39,352 C30.7,343.5 25.2,337.0 22,323 C18.8,309.0 19.3,283.2 20,268 Z" fill="none" stroke="#111" stroke-width="8.450000000000001" stroke-linejoin="round"/>
</g>
<g transform="translate(338.6,344.4) scale(0.1344860710854947)">
<path d="M22,300 C21.2,292.3 24.0,287.5 27,280 C30.0,272.5 35.7,262.0 40,255 C44.3,248.0 48.0,245.5 53,238 C58.0,230.5 63.8,218.8 70,210 C76.2,201.2 83.3,194.2 90,185 C96.7,175.8 102.8,165.5 110,155 C117.2,144.5 124.7,132.0 133,122 C141.3,112.0 151.2,103.0 160,95 C168.8,87.0 176.0,80.2 186,74 C196.0,67.8 211.2,62.0 220,58 C228.8,54.0 227.0,52.7 239,50 C251.0,47.3 273.5,43.0 292,42 C310.5,41.0 328.7,41.3 350,44 C371.3,46.7 396.7,50.7 420,58 C443.3,65.3 464.2,73.0 490,88 C515.8,103.0 551.7,127.2 575,148 C598.3,168.8 616.7,190.5 630,213 C643.3,235.5 651.7,263.0 655,283 C658.3,303.0 655.8,318.0 650,333 C644.2,348.0 635.0,361.3 620,373 C605.0,384.7 585.0,396.8 560,403 C535.0,409.2 490.0,408.0 470,410 C450.0,412.0 449.3,410.0 440,415 C430.7,420.0 424.0,434.7 414,440 C404.0,445.3 392.7,448.0 380,447 C367.3,446.0 352.2,439.5 338,434 C323.8,428.5 309.2,420.3 295,414 C280.8,407.7 265.2,400.5 253,396 C240.8,391.5 236.2,389.5 222,387 C207.8,384.5 187.3,384.8 168,381 C148.7,377.2 125.2,369.8 106,364 C86.8,358.2 65.3,352.3 53,346 C40.7,339.7 37.2,333.7 32,326 C26.8,318.3 22.8,307.7 22,300 Z" fill="#f6d4d1"/>
<g clip-path="url(#medclip)">
<polygon points="90,185 110,155 133,122 160,95 186,74 220,58 237,52 266,132 250,169 207,180 191,212 176,292 144,302 106,238" fill="#f5d0cd" stroke="#111" stroke-width="6.5" stroke-linejoin="round"/>
<polygon points="237,52 292,40 364,42 364,132 266,132" fill="#f8dcda" stroke="#111" stroke-width="6.5" stroke-linejoin="round"/>
<polygon points="15,300 27,280 53,238 90,185 106,238 128,270 80,270 28,297" fill="#f5d0cd" stroke="#111" stroke-width="6.5" stroke-linejoin="round"/>
<polygon points="15,297 80,270 128,270 140,297 117,313 15,326" fill="#e9a5a1" stroke="#111" stroke-width="6.5" stroke-linejoin="round"/>
<polygon points="15,326 117,313 140,297 176,297 213,334 224,344 232,372 236,392 168,384 106,366 53,348" fill="#f3c9c6" stroke="#111" stroke-width="6.5" stroke-linejoin="round"/>
<polygon points="266,132 364,132 440,158 432,193 440,200 400,202 330,200 277,203 271,185 250,169" fill="#edb3af" stroke="#111" stroke-width="6.5" stroke-linejoin="round"/>
<polygon points="207,180 250,169 271,185 277,203 229,233 218,260 213,292 176,292 191,212" fill="#fae3e2" stroke="#111" stroke-width="6.5" stroke-linejoin="round"/>
<polygon points="440,158 500,173 560,243 555,268 515,233 450,203 440,200 432,193" fill="#f8dfdd" stroke="#111" stroke-width="6.5" stroke-linejoin="round"/>
<polygon points="560,243 615,313 560,373 505,373 505,353 550,328 555,268" fill="#fae3e2" stroke="#111" stroke-width="6.5" stroke-linejoin="round"/>
<polygon points="615,313 670,320 665,345 620,378 560,408 470,415 475,398 505,373 560,373" fill="#efbcb8" stroke="#111" stroke-width="6.5" stroke-linejoin="round"/>
<polygon points="205,330 227,338 253,368 295,398 338,423 372,436 380,452 338,445 295,428 250,410 215,395" fill="#fae3e2" stroke="#111" stroke-width="6.5" stroke-linejoin="round"/>
<path d="M214,250 C215.7,237.0 215.5,220.0 223,212 C230.5,204.0 245.0,204.2 259,202 C273.0,199.8 291.8,199.7 307,199 C322.2,198.3 326.2,197.3 350,198 C373.8,198.7 422.5,197.2 450,203 C477.5,208.8 497.5,222.2 515,233 C532.5,243.8 549.2,252.2 555,268 C560.8,283.8 558.3,313.8 550,328 C541.7,342.2 517.5,342.2 505,353 C492.5,363.8 487.3,383.3 475,393 C462.7,402.7 442.5,404.5 431,411 C419.5,417.5 415.8,427.8 406,432 C396.2,436.2 383.3,437.2 372,436 C360.7,434.8 350.8,430.5 338,425 C325.2,419.5 309.2,411.7 295,403 C280.8,394.3 264.3,383.2 253,373 C241.7,362.8 233.7,355.8 227,342 C220.3,328.2 215.2,305.3 213,290 C210.8,274.7 212.3,263.0 214,250 Z" fill="#787878" stroke="#111" stroke-width="6.5" stroke-linejoin="round"/>
<path d="M214,270 C221.8,273.7 247.0,292.0 261,292 C275.0,292.0 283.8,279.0 298,270 C312.2,261.0 329.5,243.0 346,238 C362.5,233.0 377.8,236.0 397,240 C416.2,244.0 445.5,253.7 461,262 C476.5,270.3 483.5,278.7 490,290 C496.5,301.3 499.2,319.2 500,330 C500.8,340.8 495.8,350.8 495,355" fill="none" stroke="#111" stroke-width="6.5" stroke-linejoin="round"/>
</g>
<path d="M22,300 C21.2,292.3 24.0,287.5 27,280 C30.0,272.5 35.7,262.0 40,255 C44.3,248.0 48.0,245.5 53,238 C58.0,230.5 63.8,218.8 70,210 C76.2,201.2 83.3,194.2 90,185 C96.7,175.8 102.8,165.5 110,155 C117.2,144.5 124.7,132.0 133,122 C141.3,112.0 151.2,103.0 160,95 C168.8,87.0 176.0,80.2 186,74 C196.0,67.8 211.2,62.0 220,58 C228.8,54.0 227.0,52.7 239,50 C251.0,47.3 273.5,43.0 292,42 C310.5,41.0 328.7,41.3 350,44 C371.3,46.7 396.7,50.7 420,58 C443.3,65.3 464.2,73.0 490,88 C515.8,103.0 551.7,127.2 575,148 C598.3,168.8 616.7,190.5 630,213 C643.3,235.5 651.7,263.0 655,283 C658.3,303.0 655.8,318.0 650,333 C644.2,348.0 635.0,361.3 620,373 C605.0,384.7 585.0,396.8 560,403 C535.0,409.2 490.0,408.0 470,410 C450.0,412.0 449.3,410.0 440,415 C430.7,420.0 424.0,434.7 414,440 C404.0,445.3 392.7,448.0 380,447 C367.3,446.0 352.2,439.5 338,434 C323.8,428.5 309.2,420.3 295,414 C280.8,407.7 265.2,400.5 253,396 C240.8,391.5 236.2,389.5 222,387 C207.8,384.5 187.3,384.8 168,381 C148.7,377.2 125.2,369.8 106,364 C86.8,358.2 65.3,352.3 53,346 C40.7,339.7 37.2,333.7 32,326 C26.8,318.3 22.8,307.7 22,300 Z" fill="none" stroke="#111" stroke-width="8.450000000000001" stroke-linejoin="round"/>
</g>
<defs><linearGradient id="cb_n2" x1="0" y1="0" x2="1" y2="0"><stop offset="0" stop-color="#ffffff"/><stop offset="1" stop-color="#d9706a"/></linearGradient></defs>
<rect x="310.30" y="411.00" width="52.10" height="6.40" fill="url(#cb_n2)" stroke="#111" stroke-width="0.8" />
<text x="337.50" y="415.85" font-size="4.65" text-anchor="middle" font-weight="bold" fill="#111" >Prevalence</text>
<text x="310.30" y="422.00" font-size="3.2" text-anchor="middle" font-weight="normal" fill="#444" stroke="#444" stroke-width="0.080" >0</text>
<text x="327.67" y="422.00" font-size="3.2" text-anchor="middle" font-weight="normal" fill="#444" stroke="#444" stroke-width="0.080" >6%</text>
<text x="345.03" y="422.00" font-size="3.2" text-anchor="middle" font-weight="normal" fill="#444" stroke="#444" stroke-width="0.080" >12%</text>
<text x="362.40" y="422.00" font-size="3.2" text-anchor="middle" font-weight="normal" fill="#444" stroke="#444" stroke-width="0.080" >18%</text>
<text x="-0.40" y="447.00" font-size="11" text-anchor="start" font-weight="bold" fill="#000" stroke="#000" stroke-width="0.35">h</text>
<rect x="14.50" y="450.20" width="50.50" height="126.60" fill="none" stroke="#666666" stroke-width="0.8" />
<line x1="12.90" y1="457.50" x2="14.50" y2="457.50" stroke="#666666" stroke-width="0.6" />
<text x="10.50" y="459.50" font-size="5.6" text-anchor="end" font-weight="normal" fill="#222" stroke="#222" stroke-width="0.140" >13</text>
<line x1="12.90" y1="485.60" x2="14.50" y2="485.60" stroke="#666666" stroke-width="0.6" />
<text x="10.50" y="487.60" font-size="5.6" text-anchor="end" font-weight="normal" fill="#222" stroke="#222" stroke-width="0.140" >11</text>
<line x1="12.90" y1="513.50" x2="14.50" y2="513.50" stroke="#666666" stroke-width="0.6" />
<text x="10.50" y="515.50" font-size="5.6" text-anchor="end" font-weight="normal" fill="#222" stroke="#222" stroke-width="0.140" >9</text>
<line x1="12.90" y1="541.60" x2="14.50" y2="541.60" stroke="#666666" stroke-width="0.6" />
<text x="10.50" y="543.60" font-size="5.6" text-anchor="end" font-weight="normal" fill="#222" stroke="#222" stroke-width="0.140" >7</text>
<line x1="12.90" y1="569.80" x2="14.50" y2="569.80" stroke="#666666" stroke-width="0.6" />
<text x="10.50" y="571.80" font-size="5.6" text-anchor="end" font-weight="normal" fill="#222" stroke="#222" stroke-width="0.140" >5</text>
<line x1="13.50" y1="471.50" x2="14.50" y2="471.50" stroke="#666666" stroke-width="0.5" />
<line x1="13.50" y1="499.50" x2="14.50" y2="499.50" stroke="#666666" stroke-width="0.5" />
<line x1="13.50" y1="527.50" x2="14.50" y2="527.50" stroke="#666666" stroke-width="0.5" />
<line x1="13.50" y1="555.70" x2="14.50" y2="555.70" stroke="#666666" stroke-width="0.5" />
<line x1="25.50" y1="458.10" x2="25.50" y2="479.70" stroke="#3a3a3a" stroke-width="0.8" />
<line x1="25.50" y1="524.90" x2="25.50" y2="566.50" stroke="#3a3a3a" stroke-width="0.8" />
<line x1="22.64" y1="458.10" x2="28.36" y2="458.10" stroke="#3a3a3a" stroke-width="0.8" />
<line x1="22.64" y1="566.50" x2="28.36" y2="566.50" stroke="#3a3a3a" stroke-width="0.8" />
<rect x="20.20" y="479.70" width="10.60" height="45.20" fill="#b3d4c6" stroke="#3a3a3a" stroke-width="0.8" />
<line x1="20.20" y1="500.30" x2="30.80" y2="500.30" stroke="#3a3a3a" stroke-width="0.9" />
<line x1="53.85" y1="457.50" x2="53.85" y2="475.50" stroke="#3a3a3a" stroke-width="0.8" />
<line x1="53.85" y1="515.30" x2="53.85" y2="568.50" stroke="#3a3a3a" stroke-width="0.8" />
<line x1="50.91" y1="457.50" x2="56.79" y2="457.50" stroke="#3a3a3a" stroke-width="0.8" />
<line x1="50.91" y1="568.50" x2="56.79" y2="568.50" stroke="#3a3a3a" stroke-width="0.8" />
<rect x="48.40" y="475.50" width="10.90" height="39.80" fill="#f9cbab" stroke="#3a3a3a" stroke-width="0.8" />
<line x1="48.40" y1="492.40" x2="59.30" y2="492.40" stroke="#3a3a3a" stroke-width="0.9" />
<line x1="39.80" y1="455.90" x2="39.80" y2="459.30" stroke="#333" stroke-width="0.7" />
<line x1="38.30" y1="456.75" x2="41.30" y2="458.45" stroke="#333" stroke-width="0.7" />
<line x1="38.30" y1="458.45" x2="41.30" y2="456.75" stroke="#333" stroke-width="0.7" />
<text x="38.70" y="574.70" font-size="5.85" text-anchor="middle" font-weight="bold" fill="#111" >Age</text>
<text x="87.10" y="446.60" font-size="11" text-anchor="start" font-weight="bold" fill="#000" stroke="#000" stroke-width="0.35">i</text>
<line x1="149.60" y1="451.40" x2="149.60" y2="576.30" stroke="#e2e2e2" stroke-width="0.6" />
<line x1="202.40" y1="451.40" x2="202.40" y2="576.30" stroke="#e2e2e2" stroke-width="0.6" />
<rect x="99.40" y="451.40" width="153.20" height="124.90" fill="none" stroke="#666666" stroke-width="0.8" />
<line x1="97.80" y1="463.60" x2="99.40" y2="463.60" stroke="#666666" stroke-width="0.6" />
<text x="95.40" y="465.60" font-size="5.6" text-anchor="end" font-weight="normal" fill="#222" stroke="#222" stroke-width="0.140" >150</text>
<line x1="97.80" y1="493.30" x2="99.40" y2="493.30" stroke="#666666" stroke-width="0.6" />
<text x="95.40" y="495.30" font-size="5.6" text-anchor="end" font-weight="normal" fill="#222" stroke="#222" stroke-width="0.140" >125</text>
<line x1="97.80" y1="523.00" x2="99.40" y2="523.00" stroke="#666666" stroke-width="0.6" />
<text x="95.40" y="525.00" font-size="5.6" text-anchor="end" font-weight="normal" fill="#222" stroke="#222" stroke-width="0.140" >100</text>
<line x1="97.80" y1="552.70" x2="99.40" y2="552.70" stroke="#666666" stroke-width="0.6" />
<text x="95.40" y="554.70" font-size="5.6" text-anchor="end" font-weight="normal" fill="#222" stroke="#222" stroke-width="0.140" >75</text>
<line x1="98.40" y1="478.40" x2="99.40" y2="478.40" stroke="#666666" stroke-width="0.5" />
<line x1="98.40" y1="508.20" x2="99.40" y2="508.20" stroke="#666666" stroke-width="0.5" />
<line x1="98.40" y1="537.90" x2="99.40" y2="537.90" stroke="#666666" stroke-width="0.5" />
<line x1="98.40" y1="567.50" x2="99.40" y2="567.50" stroke="#666666" stroke-width="0.5" />
<line x1="109.70" y1="473.10" x2="109.70" y2="506.50" stroke="#3a3a3a" stroke-width="0.8" />
<line x1="109.70" y1="529.30" x2="109.70" y2="556.40" stroke="#3a3a3a" stroke-width="0.8" />
<line x1="107.00" y1="473.10" x2="112.40" y2="473.10" stroke="#3a3a3a" stroke-width="0.8" />
<line x1="107.00" y1="556.40" x2="112.40" y2="556.40" stroke="#3a3a3a" stroke-width="0.8" />
<rect x="104.70" y="506.50" width="10.00" height="22.80" fill="#b3d4c6" stroke="#3a3a3a" stroke-width="0.8" />
<line x1="104.70" y1="518.30" x2="114.70" y2="518.30" stroke="#3a3a3a" stroke-width="0.9" />
<line x1="136.25" y1="464.40" x2="136.25" y2="499.40" stroke="#3a3a3a" stroke-width="0.8" />
<line x1="136.25" y1="526.40" x2="136.25" y2="562.20" stroke="#3a3a3a" stroke-width="0.8" />
<line x1="133.41" y1="464.40" x2="139.09" y2="464.40" stroke="#3a3a3a" stroke-width="0.8" />
<line x1="133.41" y1="562.20" x2="139.09" y2="562.20" stroke="#3a3a3a" stroke-width="0.8" />
<rect x="131.00" y="499.40" width="10.50" height="27.00" fill="#f9cbab" stroke="#3a3a3a" stroke-width="0.8" />
<line x1="131.00" y1="511.50" x2="141.50" y2="511.50" stroke="#3a3a3a" stroke-width="0.9" />
<circle cx="136.00" cy="569.50" r="0.9" fill="#f6b894" />
<line x1="162.10" y1="470.50" x2="162.10" y2="500.70" stroke="#3a3a3a" stroke-width="0.8" />
<line x1="162.10" y1="528.80" x2="162.10" y2="559.00" stroke="#3a3a3a" stroke-width="0.8" />
<line x1="159.18" y1="470.50" x2="165.02" y2="470.50" stroke="#3a3a3a" stroke-width="0.8" />
<line x1="159.18" y1="559.00" x2="165.02" y2="559.00" stroke="#3a3a3a" stroke-width="0.8" />
<rect x="156.70" y="500.70" width="10.80" height="28.10" fill="#b3d4c6" stroke="#3a3a3a" stroke-width="0.8" />
<line x1="156.70" y1="515.90" x2="167.50" y2="515.90" stroke="#3a3a3a" stroke-width="0.9" />
<line x1="188.90" y1="460.20" x2="188.90" y2="498.60" stroke="#3a3a3a" stroke-width="0.8" />
<line x1="188.90" y1="525.40" x2="188.90" y2="563.70" stroke="#3a3a3a" stroke-width="0.8" />
<line x1="186.15" y1="460.20" x2="191.65" y2="460.20" stroke="#3a3a3a" stroke-width="0.8" />
<line x1="186.15" y1="563.70" x2="191.65" y2="563.70" stroke="#3a3a3a" stroke-width="0.8" />
<rect x="183.80" y="498.60" width="10.20" height="26.80" fill="#f9cbab" stroke="#3a3a3a" stroke-width="0.8" />
<line x1="183.80" y1="511.50" x2="194.00" y2="511.50" stroke="#3a3a3a" stroke-width="0.9" />
<line x1="215.60" y1="475.50" x2="215.60" y2="505.40" stroke="#3a3a3a" stroke-width="0.8" />
<line x1="215.60" y1="527.50" x2="215.60" y2="556.40" stroke="#3a3a3a" stroke-width="0.8" />
<line x1="212.90" y1="475.50" x2="218.30" y2="475.50" stroke="#3a3a3a" stroke-width="0.8" />
<line x1="212.90" y1="556.40" x2="218.30" y2="556.40" stroke="#3a3a3a" stroke-width="0.8" />
<rect x="210.60" y="505.40" width="10.00" height="22.10" fill="#b3d4c6" stroke="#3a3a3a" stroke-width="0.8" />
<line x1="210.60" y1="518.30" x2="220.60" y2="518.30" stroke="#3a3a3a" stroke-width="0.9" />
<circle cx="215.30" cy="464.40" r="0.9" fill="#9ccab8" />
<circle cx="212.70" cy="469.70" r="0.9" fill="#9ccab8" />
<circle cx="217.40" cy="469.70" r="0.9" fill="#9ccab8" />
<circle cx="215.30" cy="566.10" r="0.9" fill="#9ccab8" />
<line x1="241.85" y1="466.00" x2="241.85" y2="497.50" stroke="#3a3a3a" stroke-width="0.8" />
<line x1="241.85" y1="527.50" x2="241.85" y2="570.80" stroke="#3a3a3a" stroke-width="0.8" />
<line x1="239.18" y1="466.00" x2="244.52" y2="466.00" stroke="#3a3a3a" stroke-width="0.8" />
<line x1="239.18" y1="570.80" x2="244.52" y2="570.80" stroke="#3a3a3a" stroke-width="0.8" />
<rect x="236.90" y="497.50" width="9.90" height="30.00" fill="#f9cbab" stroke="#3a3a3a" stroke-width="0.8" />
<line x1="236.90" y1="512.20" x2="246.80" y2="512.20" stroke="#3a3a3a" stroke-width="0.9" />
<text x="124.10" y="574.60" font-size="5.85" text-anchor="middle" font-weight="bold" fill="#111" >FIQ</text>
<text x="174.90" y="574.60" font-size="5.85" text-anchor="middle" font-weight="bold" fill="#111" >VIQ</text>
<text x="226.30" y="574.60" font-size="5.85" text-anchor="middle" font-weight="bold" fill="#111" >PIQ</text>
<text x="270.30" y="446.40" font-size="11" text-anchor="start" font-weight="bold" fill="#000" stroke="#000" stroke-width="0.35">j</text>
<line x1="336.50" y1="450.40" x2="336.50" y2="576.20" stroke="#e2e2e2" stroke-width="0.6" />
<rect x="284.20" y="450.40" width="104.40" height="125.80" fill="none" stroke="#666666" stroke-width="0.8" />
<line x1="282.60" y1="458.60" x2="284.20" y2="458.60" stroke="#666666" stroke-width="0.6" />
<text x="280.20" y="460.60" font-size="5.6" text-anchor="end" font-weight="normal" fill="#222" stroke="#222" stroke-width="0.140" >30</text>
<line x1="282.60" y1="496.60" x2="284.20" y2="496.60" stroke="#666666" stroke-width="0.6" />
<text x="280.20" y="498.60" font-size="5.6" text-anchor="end" font-weight="normal" fill="#222" stroke="#222" stroke-width="0.140" >20</text>
<line x1="282.60" y1="534.80" x2="284.20" y2="534.80" stroke="#666666" stroke-width="0.6" />
<text x="280.20" y="536.80" font-size="5.6" text-anchor="end" font-weight="normal" fill="#222" stroke="#222" stroke-width="0.140" >10</text>
<line x1="282.60" y1="572.90" x2="284.20" y2="572.90" stroke="#666666" stroke-width="0.6" />
<text x="280.20" y="574.90" font-size="5.6" text-anchor="end" font-weight="normal" fill="#222" stroke="#222" stroke-width="0.140" >0</text>
<line x1="283.20" y1="477.60" x2="284.20" y2="477.60" stroke="#666666" stroke-width="0.5" />
<line x1="283.20" y1="515.70" x2="284.20" y2="515.70" stroke="#666666" stroke-width="0.5" />
<line x1="283.20" y1="553.80" x2="284.20" y2="553.80" stroke="#666666" stroke-width="0.5" />
<line x1="295.40" y1="458.60" x2="295.40" y2="485.40" stroke="#3a3a3a" stroke-width="0.8" />
<line x1="295.40" y1="515.30" x2="295.40" y2="557.50" stroke="#3a3a3a" stroke-width="0.8" />
<line x1="292.54" y1="458.60" x2="298.26" y2="458.60" stroke="#3a3a3a" stroke-width="0.8" />
<line x1="292.54" y1="557.50" x2="298.26" y2="557.50" stroke="#3a3a3a" stroke-width="0.8" />
<rect x="290.10" y="485.40" width="10.60" height="29.90" fill="#b3d4c6" stroke="#3a3a3a" stroke-width="0.8" />
<line x1="290.10" y1="500.30" x2="300.70" y2="500.30" stroke="#3a3a3a" stroke-width="0.9" />
<line x1="322.55" y1="462.30" x2="322.55" y2="485.40" stroke="#3a3a3a" stroke-width="0.8" />
<line x1="322.55" y1="515.30" x2="322.55" y2="553.70" stroke="#3a3a3a" stroke-width="0.8" />
<line x1="319.77" y1="462.30" x2="325.33" y2="462.30" stroke="#3a3a3a" stroke-width="0.8" />
<line x1="319.77" y1="553.70" x2="325.33" y2="553.70" stroke="#3a3a3a" stroke-width="0.8" />
<rect x="317.40" y="485.40" width="10.30" height="29.90" fill="#f9cbab" stroke="#3a3a3a" stroke-width="0.8" />
<line x1="317.40" y1="500.30" x2="327.70" y2="500.30" stroke="#3a3a3a" stroke-width="0.9" />
<line x1="349.90" y1="534.60" x2="349.90" y2="546.50" stroke="#3a3a3a" stroke-width="0.8" />
<line x1="349.90" y1="553.50" x2="349.90" y2="565.40" stroke="#3a3a3a" stroke-width="0.8" />
<line x1="347.04" y1="534.60" x2="352.76" y2="534.60" stroke="#3a3a3a" stroke-width="0.8" />
<line x1="347.04" y1="565.40" x2="352.76" y2="565.40" stroke="#3a3a3a" stroke-width="0.8" />
<rect x="344.60" y="546.50" width="10.60" height="7.00" fill="#b3d4c6" stroke="#3a3a3a" stroke-width="0.8" />
<line x1="344.60" y1="550.00" x2="355.20" y2="550.00" stroke="#3a3a3a" stroke-width="0.9" />
<circle cx="345.70" cy="526.90" r="0.9" fill="#9ccab8" />
<circle cx="350.10" cy="526.90" r="0.9" fill="#9ccab8" />
<circle cx="354.50" cy="526.90" r="0.9" fill="#9ccab8" />
<circle cx="347.50" cy="568.90" r="0.9" fill="#9ccab8" />
<circle cx="352.30" cy="568.90" r="0.9" fill="#9ccab8" />
<circle cx="347.50" cy="572.90" r="0.9" fill="#9ccab8" />
<circle cx="352.30" cy="572.90" r="0.9" fill="#9ccab8" />
<circle cx="295.20" cy="568.90" r="0.9" fill="#9ccab8" />
<line x1="377.25" y1="530.90" x2="377.25" y2="546.50" stroke="#3a3a3a" stroke-width="0.8" />
<line x1="377.25" y1="557.50" x2="377.25" y2="573.10" stroke="#3a3a3a" stroke-width="0.8" />
<line x1="374.47" y1="530.90" x2="380.03" y2="530.90" stroke="#3a3a3a" stroke-width="0.8" />
<line x1="374.47" y1="573.10" x2="380.03" y2="573.10" stroke="#3a3a3a" stroke-width="0.8" />
<rect x="372.10" y="546.50" width="10.30" height="11.00" fill="#f9cbab" stroke="#3a3a3a" stroke-width="0.8" />
<line x1="372.10" y1="553.70" x2="382.40" y2="553.70" stroke="#3a3a3a" stroke-width="0.9" />
<circle cx="377.10" cy="523.20" r="0.9" fill="#f6b894" />
<circle cx="372.70" cy="526.90" r="0.9" fill="#f6b894" />
<circle cx="377.10" cy="526.90" r="0.9" fill="#f6b894" />
<circle cx="381.50" cy="526.90" r="0.9" fill="#f6b894" />
<text x="312.70" y="565.90" font-size="5.85" text-anchor="middle" font-weight="bold" fill="#111" >Social</text>
<text x="312.70" y="573.20" font-size="5.85" text-anchor="middle" font-weight="bold" fill="#111" >Interaction</text>
<text x="363.30" y="459.80" font-size="5.85" text-anchor="middle" font-weight="bold" fill="#111" >RRB</text>
<text x="-0.80" y="596.00" font-size="11" text-anchor="start" font-weight="bold" fill="#000" stroke="#000" stroke-width="0.35">l</text>
<line x1="51.50" y1="601.70" x2="51.50" y2="726.00" stroke="#e2e2e2" stroke-width="0.6" />
<line x1="89.40" y1="601.70" x2="89.40" y2="726.00" stroke="#e2e2e2" stroke-width="0.6" />
<line x1="128.50" y1="601.70" x2="128.50" y2="726.00" stroke="#e2e2e2" stroke-width="0.6" />
<line x1="166.20" y1="601.70" x2="166.20" y2="726.00" stroke="#e2e2e2" stroke-width="0.6" />
<rect x="14.70" y="601.70" width="188.60" height="124.30" fill="none" stroke="#666666" stroke-width="0.8" />
<line x1="13.10" y1="601.70" x2="14.70" y2="601.70" stroke="#666666" stroke-width="0.6" />
<text x="10.70" y="603.70" font-size="5.6" text-anchor="end" font-weight="normal" fill="#222" stroke="#222" stroke-width="0.140" >60</text>
<line x1="13.10" y1="642.50" x2="14.70" y2="642.50" stroke="#666666" stroke-width="0.6" />
<text x="10.70" y="644.50" font-size="5.6" text-anchor="end" font-weight="normal" fill="#222" stroke="#222" stroke-width="0.140" >40</text>
<line x1="13.10" y1="683.40" x2="14.70" y2="683.40" stroke="#666666" stroke-width="0.6" />
<text x="10.70" y="685.40" font-size="5.6" text-anchor="end" font-weight="normal" fill="#222" stroke="#222" stroke-width="0.140" >20</text>
<line x1="13.10" y1="724.40" x2="14.70" y2="724.40" stroke="#666666" stroke-width="0.6" />
<text x="10.70" y="726.40" font-size="5.6" text-anchor="end" font-weight="normal" fill="#222" stroke="#222" stroke-width="0.140" >0</text>
<line x1="13.70" y1="622.10" x2="14.70" y2="622.10" stroke="#666666" stroke-width="0.5" />
<line x1="13.70" y1="663.00" x2="14.70" y2="663.00" stroke="#666666" stroke-width="0.5" />
<line x1="13.70" y1="703.90" x2="14.70" y2="703.90" stroke="#666666" stroke-width="0.5" />
<line x1="22.95" y1="658.80" x2="22.95" y2="681.40" stroke="#3a3a3a" stroke-width="0.8" />
<line x1="22.95" y1="699.50" x2="22.95" y2="718.20" stroke="#3a3a3a" stroke-width="0.8" />
<line x1="20.92" y1="658.80" x2="24.98" y2="658.80" stroke="#3a3a3a" stroke-width="0.8" />
<line x1="20.92" y1="718.20" x2="24.98" y2="718.20" stroke="#3a3a3a" stroke-width="0.8" />
<rect x="19.20" y="681.40" width="7.50" height="18.10" fill="#b3d4c6" stroke="#3a3a3a" stroke-width="0.8" />
<line x1="19.20" y1="689.30" x2="26.70" y2="689.30" stroke="#3a3a3a" stroke-width="0.9" />
<line x1="42.05" y1="667.10" x2="42.05" y2="685.50" stroke="#3a3a3a" stroke-width="0.8" />
<line x1="42.05" y1="697.50" x2="42.05" y2="714.00" stroke="#3a3a3a" stroke-width="0.8" />
<line x1="40.02" y1="667.10" x2="44.07" y2="667.10" stroke="#3a3a3a" stroke-width="0.8" />
<line x1="40.02" y1="714.00" x2="44.07" y2="714.00" stroke="#3a3a3a" stroke-width="0.8" />
<rect x="38.30" y="685.50" width="7.50" height="12.00" fill="#f9cbab" stroke="#3a3a3a" stroke-width="0.8" />
<line x1="38.30" y1="691.20" x2="45.80" y2="691.20" stroke="#3a3a3a" stroke-width="0.9" />
<circle cx="39.10" cy="663.00" r="0.9" fill="#f6b894" />
<circle cx="44.80" cy="660.80" r="0.9" fill="#f6b894" />
<circle cx="41.80" cy="718.20" r="0.9" fill="#f6b894" />
<circle cx="41.80" cy="722.10" r="0.9" fill="#f6b894" />
<line x1="61.15" y1="681.40" x2="61.15" y2="695.00" stroke="#3a3a3a" stroke-width="0.8" />
<line x1="61.15" y1="705.60" x2="61.15" y2="718.20" stroke="#3a3a3a" stroke-width="0.8" />
<line x1="59.18" y1="681.40" x2="63.12" y2="681.40" stroke="#3a3a3a" stroke-width="0.8" />
<line x1="59.18" y1="718.20" x2="63.12" y2="718.20" stroke="#3a3a3a" stroke-width="0.8" />
<rect x="57.50" y="695.00" width="7.30" height="10.60" fill="#b3d4c6" stroke="#3a3a3a" stroke-width="0.8" />
<line x1="57.50" y1="701.00" x2="64.80" y2="701.00" stroke="#3a3a3a" stroke-width="0.9" />
<line x1="80.25" y1="685.50" x2="80.25" y2="693.80" stroke="#3a3a3a" stroke-width="0.8" />
<line x1="80.25" y1="703.60" x2="80.25" y2="716.20" stroke="#3a3a3a" stroke-width="0.8" />
<line x1="78.28" y1="685.50" x2="82.22" y2="685.50" stroke="#3a3a3a" stroke-width="0.8" />
<line x1="78.28" y1="716.20" x2="82.22" y2="716.20" stroke="#3a3a3a" stroke-width="0.8" />
<rect x="76.60" y="693.80" width="7.30" height="9.80" fill="#f9cbab" stroke="#3a3a3a" stroke-width="0.8" />
<line x1="76.60" y1="699.10" x2="83.90" y2="699.10" stroke="#3a3a3a" stroke-width="0.9" />
<line x1="99.25" y1="616.00" x2="99.25" y2="643.90" stroke="#3a3a3a" stroke-width="0.8" />
<line x1="99.25" y1="679.30" x2="99.25" y2="709.90" stroke="#3a3a3a" stroke-width="0.8" />
<line x1="97.22" y1="616.00" x2="101.28" y2="616.00" stroke="#3a3a3a" stroke-width="0.8" />
<line x1="97.22" y1="709.90" x2="101.28" y2="709.90" stroke="#3a3a3a" stroke-width="0.8" />
<rect x="95.50" y="643.90" width="7.50" height="35.40" fill="#b3d4c6" stroke="#3a3a3a" stroke-width="0.8" />
<line x1="95.50" y1="661.20" x2="103.00" y2="661.20" stroke="#3a3a3a" stroke-width="0.9" />
<line x1="118.35" y1="614.10" x2="118.35" y2="649.00" stroke="#3a3a3a" stroke-width="0.8" />
<line x1="118.35" y1="675.10" x2="118.35" y2="707.90" stroke="#3a3a3a" stroke-width="0.8" />
<line x1="116.27" y1="614.10" x2="120.43" y2="614.10" stroke="#3a3a3a" stroke-width="0.8" />
<line x1="116.27" y1="707.90" x2="120.43" y2="707.90" stroke="#3a3a3a" stroke-width="0.8" />
<rect x="114.50" y="649.00" width="7.70" height="26.10" fill="#f9cbab" stroke="#3a3a3a" stroke-width="0.8" />
<line x1="114.50" y1="665.10" x2="122.20" y2="665.10" stroke="#3a3a3a" stroke-width="0.9" />
<circle cx="118.50" cy="718.00" r="0.9" fill="#f6b894" />
<line x1="137.75" y1="667.50" x2="137.75" y2="686.70" stroke="#3a3a3a" stroke-width="0.8" />
<line x1="137.75" y1="703.40" x2="137.75" y2="722.10" stroke="#3a3a3a" stroke-width="0.8" />
<line x1="135.72" y1="667.50" x2="139.78" y2="667.50" stroke="#3a3a3a" stroke-width="0.8" />
<line x1="135.72" y1="722.10" x2="139.78" y2="722.10" stroke="#3a3a3a" stroke-width="0.8" />
<rect x="134.00" y="686.70" width="7.50" height="16.70" fill="#b3d4c6" stroke="#3a3a3a" stroke-width="0.8" />
<line x1="134.00" y1="697.30" x2="141.50" y2="697.30" stroke="#3a3a3a" stroke-width="0.9" />
<circle cx="137.50" cy="659.00" r="0.9" fill="#9ccab8" />
<line x1="156.95" y1="665.10" x2="156.95" y2="690.10" stroke="#3a3a3a" stroke-width="0.8" />
<line x1="156.95" y1="705.20" x2="156.95" y2="718.20" stroke="#3a3a3a" stroke-width="0.8" />
<line x1="154.92" y1="665.10" x2="158.97" y2="665.10" stroke="#3a3a3a" stroke-width="0.8" />
<line x1="154.92" y1="718.20" x2="158.97" y2="718.20" stroke="#3a3a3a" stroke-width="0.8" />
<rect x="153.20" y="690.10" width="7.50" height="15.10" fill="#f9cbab" stroke="#3a3a3a" stroke-width="0.8" />
<line x1="153.20" y1="697.30" x2="160.70" y2="697.30" stroke="#3a3a3a" stroke-width="0.9" />
<line x1="176.00" y1="654.70" x2="176.00" y2="673.40" stroke="#3a3a3a" stroke-width="0.8" />
<line x1="176.00" y1="700.50" x2="176.00" y2="720.10" stroke="#3a3a3a" stroke-width="0.8" />
<line x1="174.00" y1="654.70" x2="178.00" y2="654.70" stroke="#3a3a3a" stroke-width="0.8" />
<line x1="174.00" y1="720.10" x2="178.00" y2="720.10" stroke="#3a3a3a" stroke-width="0.8" />
<rect x="172.30" y="673.40" width="7.40" height="27.10" fill="#b3d4c6" stroke="#3a3a3a" stroke-width="0.8" />
<line x1="172.30" y1="685.40" x2="179.70" y2="685.40" stroke="#3a3a3a" stroke-width="0.9" />
<line x1="195.05" y1="652.60" x2="195.05" y2="681.40" stroke="#3a3a3a" stroke-width="0.8" />
<line x1="195.05" y1="701.50" x2="195.05" y2="724.00" stroke="#3a3a3a" stroke-width="0.8" />
<line x1="193.13" y1="652.60" x2="196.97" y2="652.60" stroke="#3a3a3a" stroke-width="0.8" />
<line x1="193.13" y1="724.00" x2="196.97" y2="724.00" stroke="#3a3a3a" stroke-width="0.8" />
<rect x="191.50" y="681.40" width="7.10" height="20.10" fill="#f9cbab" stroke="#3a3a3a" stroke-width="0.8" />
<line x1="191.50" y1="691.20" x2="198.60" y2="691.20" stroke="#3a3a3a" stroke-width="0.9" />
<text x="33.00" y="609.90" font-size="5.85" text-anchor="middle" font-weight="bold" fill="#111" >Cognition</text>
<text x="70.70" y="609.90" font-size="5.85" text-anchor="middle" font-weight="bold" fill="#111" >Awareness</text>
<text x="147.50" y="609.90" font-size="5.85" text-anchor="middle" font-weight="bold" fill="#111" >Motivation</text>
<text x="185.00" y="609.90" font-size="5.85" text-anchor="middle" font-weight="bold" fill="#111" >Mannerism</text>
<text x="111.20" y="724.30" font-size="5.85" text-anchor="middle" font-weight="bold" fill="#111" >Communication</text>
<text x="215.60" y="596.00" font-size="11" text-anchor="start" font-weight="bold" fill="#000" stroke="#000" stroke-width="0.35">m</text>
<line x1="285.40" y1="601.10" x2="285.40" y2="726.50" stroke="#e2e2e2" stroke-width="0.6" />
<line x1="337.30" y1="601.10" x2="337.30" y2="726.50" stroke="#e2e2e2" stroke-width="0.6" />
<rect x="234.70" y="601.10" width="153.40" height="125.40" fill="none" stroke="#666666" stroke-width="0.8" />
<line x1="233.10" y1="601.10" x2="234.70" y2="601.10" stroke="#666666" stroke-width="0.6" />
<text x="230.70" y="603.10" font-size="5.6" text-anchor="end" font-weight="normal" fill="#222" stroke="#222" stroke-width="0.140" >30</text>
<line x1="233.10" y1="641.60" x2="234.70" y2="641.60" stroke="#666666" stroke-width="0.6" />
<text x="230.70" y="643.60" font-size="5.6" text-anchor="end" font-weight="normal" fill="#222" stroke="#222" stroke-width="0.140" >20</text>
<line x1="233.10" y1="682.10" x2="234.70" y2="682.10" stroke="#666666" stroke-width="0.6" />
<text x="230.70" y="684.10" font-size="5.6" text-anchor="end" font-weight="normal" fill="#222" stroke="#222" stroke-width="0.140" >10</text>
<line x1="233.10" y1="722.60" x2="234.70" y2="722.60" stroke="#666666" stroke-width="0.6" />
<text x="230.70" y="724.60" font-size="5.6" text-anchor="end" font-weight="normal" fill="#222" stroke="#222" stroke-width="0.140" >0</text>
<line x1="233.70" y1="621.40" x2="234.70" y2="621.40" stroke="#666666" stroke-width="0.5" />
<line x1="233.70" y1="661.90" x2="234.70" y2="661.90" stroke="#666666" stroke-width="0.5" />
<line x1="233.70" y1="702.40" x2="234.70" y2="702.40" stroke="#666666" stroke-width="0.5" />
<line x1="245.35" y1="649.90" x2="245.35" y2="678.50" stroke="#3a3a3a" stroke-width="0.8" />
<line x1="245.35" y1="698.20" x2="245.35" y2="718.40" stroke="#3a3a3a" stroke-width="0.8" />
<line x1="242.57" y1="649.90" x2="248.13" y2="649.90" stroke="#3a3a3a" stroke-width="0.8" />
<line x1="242.57" y1="718.40" x2="248.13" y2="718.40" stroke="#3a3a3a" stroke-width="0.8" />
<rect x="240.20" y="678.50" width="10.30" height="19.70" fill="#b3d4c6" stroke="#3a3a3a" stroke-width="0.8" />
<line x1="240.20" y1="690.10" x2="250.50" y2="690.10" stroke="#3a3a3a" stroke-width="0.9" />
<circle cx="243.30" cy="641.60" r="0.9" fill="#9ccab8" />
<circle cx="248.00" cy="641.60" r="0.9" fill="#9ccab8" />
<line x1="271.70" y1="653.80" x2="271.70" y2="678.50" stroke="#3a3a3a" stroke-width="0.8" />
<line x1="271.70" y1="694.00" x2="271.70" y2="714.30" stroke="#3a3a3a" stroke-width="0.8" />
<line x1="268.95" y1="653.80" x2="274.45" y2="653.80" stroke="#3a3a3a" stroke-width="0.8" />
<line x1="268.95" y1="714.30" x2="274.45" y2="714.30" stroke="#3a3a3a" stroke-width="0.8" />
<rect x="266.60" y="678.50" width="10.20" height="15.50" fill="#f9cbab" stroke="#3a3a3a" stroke-width="0.8" />
<line x1="266.60" y1="686.00" x2="276.80" y2="686.00" stroke="#3a3a3a" stroke-width="0.9" />
<circle cx="271.60" cy="645.70" r="0.9" fill="#f6b894" />
<circle cx="271.60" cy="649.90" r="0.9" fill="#f6b894" />
<line x1="298.35" y1="694.30" x2="298.35" y2="706.50" stroke="#3a3a3a" stroke-width="0.8" />
<line x1="298.35" y1="714.50" x2="298.35" y2="722.60" stroke="#3a3a3a" stroke-width="0.8" />
<line x1="295.57" y1="694.30" x2="301.13" y2="694.30" stroke="#3a3a3a" stroke-width="0.8" />
<line x1="295.57" y1="722.60" x2="301.13" y2="722.60" stroke="#3a3a3a" stroke-width="0.8" />
<rect x="293.20" y="706.50" width="10.30" height="8.00" fill="#b3d4c6" stroke="#3a3a3a" stroke-width="0.8" />
<line x1="293.20" y1="710.40" x2="303.50" y2="710.40" stroke="#3a3a3a" stroke-width="0.9" />
<circle cx="294.00" cy="690.40" r="0.9" fill="#9ccab8" />
<circle cx="298.50" cy="690.40" r="0.9" fill="#9ccab8" />
<circle cx="302.90" cy="690.40" r="0.9" fill="#9ccab8" />
<line x1="324.70" y1="694.30" x2="324.70" y2="706.50" stroke="#3a3a3a" stroke-width="0.8" />
<line x1="324.70" y1="714.50" x2="324.70" y2="722.60" stroke="#3a3a3a" stroke-width="0.8" />
<line x1="321.95" y1="694.30" x2="327.45" y2="694.30" stroke="#3a3a3a" stroke-width="0.8" />
<line x1="321.95" y1="722.60" x2="327.45" y2="722.60" stroke="#3a3a3a" stroke-width="0.8" />
<rect x="319.60" y="706.50" width="10.20" height="8.00" fill="#f9cbab" stroke="#3a3a3a" stroke-width="0.8" />
<line x1="319.60" y1="710.40" x2="329.80" y2="710.40" stroke="#3a3a3a" stroke-width="0.9" />
<circle cx="322.30" cy="690.40" r="0.9" fill="#f6b894" />
<circle cx="326.50" cy="690.40" r="0.9" fill="#f6b894" />
<line x1="351.05" y1="637.40" x2="351.05" y2="666.30" stroke="#3a3a3a" stroke-width="0.8" />
<line x1="351.05" y1="686.20" x2="351.05" y2="706.20" stroke="#3a3a3a" stroke-width="0.8" />
<line x1="348.27" y1="637.40" x2="353.83" y2="637.40" stroke="#3a3a3a" stroke-width="0.8" />
<line x1="348.27" y1="706.20" x2="353.83" y2="706.20" stroke="#3a3a3a" stroke-width="0.8" />
<rect x="345.90" y="666.30" width="10.30" height="19.90" fill="#b3d4c6" stroke="#3a3a3a" stroke-width="0.8" />
<line x1="345.90" y1="678.20" x2="356.20" y2="678.20" stroke="#3a3a3a" stroke-width="0.9" />
<circle cx="349.20" cy="625.80" r="0.9" fill="#9ccab8" />
<circle cx="353.40" cy="625.80" r="0.9" fill="#9ccab8" />
<circle cx="351.20" cy="629.70" r="0.9" fill="#9ccab8" />
<circle cx="351.20" cy="609.70" r="0.9" fill="#9ccab8" />
<line x1="377.40" y1="637.40" x2="377.40" y2="662.40" stroke="#3a3a3a" stroke-width="0.8" />
<line x1="377.40" y1="682.10" x2="377.40" y2="694.30" stroke="#3a3a3a" stroke-width="0.8" />
<line x1="374.65" y1="637.40" x2="380.15" y2="637.40" stroke="#3a3a3a" stroke-width="0.8" />
<line x1="374.65" y1="694.30" x2="380.15" y2="694.30" stroke="#3a3a3a" stroke-width="0.8" />
<rect x="372.30" y="662.40" width="10.20" height="19.70" fill="#f9cbab" stroke="#3a3a3a" stroke-width="0.8" />
<line x1="372.30" y1="674.00" x2="382.50" y2="674.00" stroke="#3a3a3a" stroke-width="0.9" />
<circle cx="377.00" cy="617.70" r="0.9" fill="#f6b894" />
<circle cx="377.00" cy="621.60" r="0.9" fill="#f6b894" />
<circle cx="377.00" cy="714.30" r="0.9" fill="#f6b894" />
<text x="260.50" y="609.50" font-size="5.85" text-anchor="middle" font-weight="bold" fill="#111" >Social Affect</text>
<text x="311.00" y="609.50" font-size="5.85" text-anchor="middle" font-weight="bold" fill="#111" >RRB</text>
<text x="363.10" y="609.50" font-size="5.85" text-anchor="middle" font-weight="bold" fill="#111" >Total</text>
<text x="402.60" y="447.20" font-size="11" text-anchor="start" font-weight="bold" fill="#000" stroke="#000" stroke-width="0.35">k</text>
<rect x="412.50" y="449.90" width="271.10" height="277.00" fill="none" stroke="#9a9a9a" stroke-width="0.8" />
<line x1="429.50" y1="461.00" x2="429.50" y2="577.30" stroke="#666666" stroke-width="1.1" />
<line x1="429.50" y1="576.70" x2="498.00" y2="576.70" stroke="#666666" stroke-width="1.1" />
<line x1="427.50" y1="576.70" x2="429.50" y2="576.70" stroke="#333" stroke-width="0.6" />
<text x="427.10" y="578.15" font-size="4.1" text-anchor="end" font-weight="normal" fill="#222" stroke="#222" stroke-width="0.102" >0</text>
<line x1="427.50" y1="553.60" x2="429.50" y2="553.60" stroke="#333" stroke-width="0.6" />
<text x="427.10" y="555.05" font-size="4.1" text-anchor="end" font-weight="normal" fill="#222" stroke="#222" stroke-width="0.102" >20</text>
<line x1="427.50" y1="530.50" x2="429.50" y2="530.50" stroke="#333" stroke-width="0.6" />
<text x="427.10" y="531.95" font-size="4.1" text-anchor="end" font-weight="normal" fill="#222" stroke="#222" stroke-width="0.102" >40</text>
<line x1="427.50" y1="507.40" x2="429.50" y2="507.40" stroke="#333" stroke-width="0.6" />
<text x="427.10" y="508.85" font-size="4.1" text-anchor="end" font-weight="normal" fill="#222" stroke="#222" stroke-width="0.102" >60</text>
<line x1="427.50" y1="484.30" x2="429.50" y2="484.30" stroke="#333" stroke-width="0.6" />
<text x="427.10" y="485.75" font-size="4.1" text-anchor="end" font-weight="normal" fill="#222" stroke="#222" stroke-width="0.102" >80</text>
<line x1="427.50" y1="461.20" x2="429.50" y2="461.20" stroke="#333" stroke-width="0.6" />
<text x="427.10" y="462.65" font-size="4.1" text-anchor="end" font-weight="normal" fill="#222" stroke="#222" stroke-width="0.102" >100</text>
<line x1="428.40" y1="565.15" x2="429.50" y2="565.15" stroke="#333" stroke-width="0.5" />
<line x1="428.40" y1="542.05" x2="429.50" y2="542.05" stroke="#333" stroke-width="0.5" />
<line x1="428.40" y1="518.95" x2="429.50" y2="518.95" stroke="#333" stroke-width="0.5" />
<line x1="428.40" y1="495.85" x2="429.50" y2="495.85" stroke="#333" stroke-width="0.5" />
<line x1="428.40" y1="472.75" x2="429.50" y2="472.75" stroke="#333" stroke-width="0.5" />
<rect x="435.50" y="464.67" width="11.90" height="112.03" fill="#f9cbab" stroke="#2e2a28" stroke-width="0.7" />
<rect x="435.50" y="525.88" width="11.90" height="50.82" fill="#b3d4c6" stroke="#2e2a28" stroke-width="0.7" />
<line x1="441.45" y1="576.70" x2="441.45" y2="578.10" stroke="#333" stroke-width="0.5" />
<text x="441.45" y="583.30" font-size="4.1" text-anchor="middle" font-weight="normal" fill="#111" stroke="#111" stroke-width="0.102" >Autism</text>
<rect x="457.70" y="515.49" width="11.80" height="61.22" fill="#f9cbab" stroke="#2e2a28" stroke-width="0.7" />
<rect x="457.70" y="542.05" width="11.80" height="34.65" fill="#b3d4c6" stroke="#2e2a28" stroke-width="0.7" />
<line x1="463.60" y1="576.70" x2="463.60" y2="578.10" stroke="#333" stroke-width="0.5" />
<text x="463.60" y="583.30" font-size="4.1" text-anchor="middle" font-weight="normal" fill="#111" stroke="#111" stroke-width="0.102" >Aspergers</text>
<rect x="479.80" y="528.19" width="11.50" height="48.51" fill="#f9cbab" stroke="#2e2a28" stroke-width="0.7" />
<rect x="479.80" y="555.91" width="11.50" height="20.79" fill="#b3d4c6" stroke="#2e2a28" stroke-width="0.7" />
<line x1="485.55" y1="576.70" x2="485.55" y2="578.10" stroke="#333" stroke-width="0.5" />
<text x="485.55" y="583.30" font-size="4.1" text-anchor="middle" font-weight="normal" fill="#111" stroke="#111" stroke-width="0.102" >PDD-NOS</text>
<line x1="507.60" y1="461.00" x2="507.60" y2="577.30" stroke="#666666" stroke-width="1.1" />
<line x1="507.60" y1="576.70" x2="600.00" y2="576.70" stroke="#666666" stroke-width="1.1" />
<line x1="505.60" y1="576.70" x2="507.60" y2="576.70" stroke="#333" stroke-width="0.6" />
<text x="505.20" y="578.15" font-size="4.1" text-anchor="end" font-weight="normal" fill="#222" stroke="#222" stroke-width="0.102" >0</text>
<line x1="505.60" y1="553.60" x2="507.60" y2="553.60" stroke="#333" stroke-width="0.6" />
<text x="505.20" y="555.05" font-size="4.1" text-anchor="end" font-weight="normal" fill="#222" stroke="#222" stroke-width="0.102" >20</text>
<line x1="505.60" y1="530.50" x2="507.60" y2="530.50" stroke="#333" stroke-width="0.6" />
<text x="505.20" y="531.95" font-size="4.1" text-anchor="end" font-weight="normal" fill="#222" stroke="#222" stroke-width="0.102" >40</text>
<line x1="505.60" y1="507.40" x2="507.60" y2="507.40" stroke="#333" stroke-width="0.6" />
<text x="505.20" y="508.85" font-size="4.1" text-anchor="end" font-weight="normal" fill="#222" stroke="#222" stroke-width="0.102" >60</text>
<line x1="505.60" y1="484.30" x2="507.60" y2="484.30" stroke="#333" stroke-width="0.6" />
<text x="505.20" y="485.75" font-size="4.1" text-anchor="end" font-weight="normal" fill="#222" stroke="#222" stroke-width="0.102" >80</text>
<line x1="505.60" y1="461.20" x2="507.60" y2="461.20" stroke="#333" stroke-width="0.6" />
<text x="505.20" y="462.65" font-size="4.1" text-anchor="end" font-weight="normal" fill="#222" stroke="#222" stroke-width="0.102" >100</text>
<line x1="506.50" y1="565.15" x2="507.60" y2="565.15" stroke="#333" stroke-width="0.5" />
<line x1="506.50" y1="542.05" x2="507.60" y2="542.05" stroke="#333" stroke-width="0.5" />
<line x1="506.50" y1="518.95" x2="507.60" y2="518.95" stroke="#333" stroke-width="0.5" />
<line x1="506.50" y1="495.85" x2="507.60" y2="495.85" stroke="#333" stroke-width="0.5" />
<line x1="506.50" y1="472.75" x2="507.60" y2="472.75" stroke="#333" stroke-width="0.5" />
<rect x="514.40" y="473.91" width="12.00" height="102.80" fill="#f9cbab" stroke="#2e2a28" stroke-width="0.7" />
<rect x="514.40" y="518.95" width="12.00" height="57.75" fill="#b3d4c6" stroke="#2e2a28" stroke-width="0.7" />
<line x1="520.40" y1="576.70" x2="520.40" y2="578.10" stroke="#333" stroke-width="0.5" />
<text x="520.40" y="583.30" font-size="4.1" text-anchor="middle" font-weight="normal" fill="#111" stroke="#111" stroke-width="0.102" >S Allegra</text>
<rect x="536.50" y="491.23" width="12.00" height="85.47" fill="#f9cbab" stroke="#2e2a28" stroke-width="0.7" />
<rect x="536.50" y="545.52" width="12.00" height="31.18" fill="#b3d4c6" stroke="#2e2a28" stroke-width="0.7" />
<line x1="542.50" y1="576.70" x2="542.50" y2="578.10" stroke="#333" stroke-width="0.5" />
<text x="542.50" y="583.30" font-size="4.1" text-anchor="middle" font-weight="normal" fill="#111" stroke="#111" stroke-width="0.102" >S TrioTim</text>
<rect x="558.60" y="520.11" width="12.10" height="56.60" fill="#f9cbab" stroke="#2e2a28" stroke-width="0.7" />
<rect x="558.60" y="552.45" width="12.10" height="24.25" fill="#b3d4c6" stroke="#2e2a28" stroke-width="0.7" />
<line x1="564.65" y1="576.70" x2="564.65" y2="578.10" stroke="#333" stroke-width="0.5" />
<text x="564.65" y="583.30" font-size="4.1" text-anchor="middle" font-weight="normal" fill="#111" stroke="#111" stroke-width="0.102" >P Achieva</text>
<rect x="580.80" y="542.05" width="12.40" height="34.65" fill="#f9cbab" stroke="#2e2a28" stroke-width="0.7" />
<rect x="580.80" y="562.84" width="12.40" height="13.86" fill="#b3d4c6" stroke="#2e2a28" stroke-width="0.7" />
<line x1="587.00" y1="576.70" x2="587.00" y2="578.10" stroke="#333" stroke-width="0.5" />
<text x="587.00" y="583.30" font-size="4.1" text-anchor="middle" font-weight="normal" fill="#111" stroke="#111" stroke-width="0.102" >G Signa</text>
<line x1="609.70" y1="461.60" x2="609.70" y2="577.30" stroke="#666666" stroke-width="1.1" />
<line x1="609.70" y1="576.70" x2="678.80" y2="576.70" stroke="#666666" stroke-width="1.1" />
<line x1="607.70" y1="576.70" x2="609.70" y2="576.70" stroke="#333" stroke-width="0.6" />
<text x="607.30" y="578.15" font-size="4.1" text-anchor="end" font-weight="normal" fill="#222" stroke="#222" stroke-width="0.102" >0</text>
<line x1="607.70" y1="549.66" x2="609.70" y2="549.66" stroke="#333" stroke-width="0.6" />
<text x="607.30" y="551.11" font-size="4.1" text-anchor="end" font-weight="normal" fill="#222" stroke="#222" stroke-width="0.102" >40</text>
<line x1="607.70" y1="522.62" x2="609.70" y2="522.62" stroke="#333" stroke-width="0.6" />
<text x="607.30" y="524.07" font-size="4.1" text-anchor="end" font-weight="normal" fill="#222" stroke="#222" stroke-width="0.102" >80</text>
<line x1="607.70" y1="495.58" x2="609.70" y2="495.58" stroke="#333" stroke-width="0.6" />
<text x="607.30" y="497.03" font-size="4.1" text-anchor="end" font-weight="normal" fill="#222" stroke="#222" stroke-width="0.102" >120</text>
<line x1="607.70" y1="468.54" x2="609.70" y2="468.54" stroke="#333" stroke-width="0.6" />
<text x="607.30" y="469.99" font-size="4.1" text-anchor="end" font-weight="normal" fill="#222" stroke="#222" stroke-width="0.102" >160</text>
<line x1="608.60" y1="563.18" x2="609.70" y2="563.18" stroke="#333" stroke-width="0.5" />
<line x1="608.60" y1="536.14" x2="609.70" y2="536.14" stroke="#333" stroke-width="0.5" />
<line x1="608.60" y1="509.10" x2="609.70" y2="509.10" stroke="#333" stroke-width="0.5" />
<line x1="608.60" y1="482.06" x2="609.70" y2="482.06" stroke="#333" stroke-width="0.5" />
<rect x="615.90" y="466.51" width="11.80" height="110.19" fill="#f9cbab" stroke="#2e2a28" stroke-width="0.7" />
<rect x="615.90" y="525.32" width="11.80" height="51.38" fill="#b3d4c6" stroke="#2e2a28" stroke-width="0.7" />
<line x1="621.80" y1="576.70" x2="621.80" y2="578.10" stroke="#333" stroke-width="0.5" />
<text x="621.80" y="583.30" font-size="4.1" text-anchor="middle" font-weight="normal" fill="#111" stroke="#111" stroke-width="0.102" >Siemens</text>
<rect x="638.00" y="536.82" width="11.70" height="39.88" fill="#f9cbab" stroke="#2e2a28" stroke-width="0.7" />
<rect x="638.00" y="559.12" width="11.70" height="17.58" fill="#b3d4c6" stroke="#2e2a28" stroke-width="0.7" />
<line x1="643.85" y1="576.70" x2="643.85" y2="578.10" stroke="#333" stroke-width="0.5" />
<text x="643.85" y="583.30" font-size="4.1" text-anchor="middle" font-weight="normal" fill="#111" stroke="#111" stroke-width="0.102" >GE</text>
<rect x="660.30" y="542.90" width="11.50" height="33.80" fill="#f9cbab" stroke="#2e2a28" stroke-width="0.7" />
<rect x="660.30" y="562.50" width="11.50" height="14.20" fill="#b3d4c6" stroke="#2e2a28" stroke-width="0.7" />
<line x1="666.05" y1="576.70" x2="666.05" y2="578.10" stroke="#333" stroke-width="0.5" />
<text x="666.05" y="583.30" font-size="4.1" text-anchor="middle" font-weight="normal" fill="#111" stroke="#111" stroke-width="0.102" >Philips</text>
<line x1="429.20" y1="599.60" x2="429.20" y2="716.00" stroke="#666666" stroke-width="1.1" />
<line x1="429.20" y1="715.40" x2="672.30" y2="715.40" stroke="#666666" stroke-width="1.1" />
<line x1="427.20" y1="715.40" x2="429.20" y2="715.40" stroke="#333" stroke-width="0.6" />
<text x="426.80" y="716.85" font-size="4.1" text-anchor="end" font-weight="normal" fill="#222" stroke="#222" stroke-width="0.102" >0</text>
<line x1="427.20" y1="696.15" x2="429.20" y2="696.15" stroke="#333" stroke-width="0.6" />
<text x="426.80" y="697.61" font-size="4.1" text-anchor="end" font-weight="normal" fill="#222" stroke="#222" stroke-width="0.102" >15</text>
<line x1="427.20" y1="676.91" x2="429.20" y2="676.91" stroke="#333" stroke-width="0.6" />
<text x="426.80" y="678.36" font-size="4.1" text-anchor="end" font-weight="normal" fill="#222" stroke="#222" stroke-width="0.102" >30</text>
<line x1="427.20" y1="657.66" x2="429.20" y2="657.66" stroke="#333" stroke-width="0.6" />
<text x="426.80" y="659.12" font-size="4.1" text-anchor="end" font-weight="normal" fill="#222" stroke="#222" stroke-width="0.102" >45</text>
<line x1="427.20" y1="638.42" x2="429.20" y2="638.42" stroke="#333" stroke-width="0.6" />
<text x="426.80" y="639.87" font-size="4.1" text-anchor="end" font-weight="normal" fill="#222" stroke="#222" stroke-width="0.102" >60</text>
<line x1="427.20" y1="619.17" x2="429.20" y2="619.17" stroke="#333" stroke-width="0.6" />
<text x="426.80" y="620.62" font-size="4.1" text-anchor="end" font-weight="normal" fill="#222" stroke="#222" stroke-width="0.102" >75</text>
<line x1="427.20" y1="599.93" x2="429.20" y2="599.93" stroke="#333" stroke-width="0.6" />
<text x="426.80" y="601.38" font-size="4.1" text-anchor="end" font-weight="normal" fill="#222" stroke="#222" stroke-width="0.102" >90</text>
<line x1="428.10" y1="705.78" x2="429.20" y2="705.78" stroke="#333" stroke-width="0.5" />
<line x1="428.10" y1="686.53" x2="429.20" y2="686.53" stroke="#333" stroke-width="0.5" />
<line x1="428.10" y1="667.29" x2="429.20" y2="667.29" stroke="#333" stroke-width="0.5" />
<line x1="428.10" y1="648.04" x2="429.20" y2="648.04" stroke="#333" stroke-width="0.5" />
<line x1="428.10" y1="628.80" x2="429.20" y2="628.80" stroke="#333" stroke-width="0.5" />
<line x1="428.10" y1="609.55" x2="429.20" y2="609.55" stroke="#333" stroke-width="0.5" />
<rect x="436.40" y="608.40" width="12.20" height="107.00" fill="#f9cbab" stroke="#2e2a28" stroke-width="0.7" />
<rect x="436.40" y="655.80" width="12.20" height="59.60" fill="#b3d4c6" stroke="#2e2a28" stroke-width="0.7" />
<line x1="442.50" y1="715.40" x2="442.50" y2="716.80" stroke="#333" stroke-width="0.5" />
<text x="442.50" y="722.20" font-size="4.1" text-anchor="middle" font-weight="normal" fill="#111" stroke="#111" stroke-width="0.102" >NYU</text>
<rect x="463.40" y="663.20" width="12.20" height="52.20" fill="#f9cbab" stroke="#2e2a28" stroke-width="0.7" />
<rect x="463.40" y="691.20" width="12.20" height="24.20" fill="#b3d4c6" stroke="#2e2a28" stroke-width="0.7" />
<line x1="469.50" y1="715.40" x2="469.50" y2="716.80" stroke="#333" stroke-width="0.5" />
<text x="469.50" y="722.20" font-size="4.1" text-anchor="middle" font-weight="normal" fill="#111" stroke="#111" stroke-width="0.102" >KKI</text>
<rect x="490.10" y="689.30" width="12.70" height="26.10" fill="#f9cbab" stroke="#2e2a28" stroke-width="0.7" />
<rect x="490.10" y="705.90" width="12.70" height="9.50" fill="#b3d4c6" stroke="#2e2a28" stroke-width="0.7" />
<line x1="496.45" y1="715.40" x2="496.45" y2="716.80" stroke="#333" stroke-width="0.5" />
<text x="496.45" y="722.20" font-size="4.1" text-anchor="middle" font-weight="normal" fill="#111" stroke="#111" stroke-width="0.102" >UCLA</text>
<rect x="517.30" y="689.30" width="12.50" height="26.10" fill="#f9cbab" stroke="#2e2a28" stroke-width="0.7" />
<rect x="517.30" y="709.10" width="12.50" height="6.30" fill="#b3d4c6" stroke="#2e2a28" stroke-width="0.7" />
<line x1="523.55" y1="715.40" x2="523.55" y2="716.80" stroke="#333" stroke-width="0.5" />
<text x="523.55" y="722.20" font-size="4.1" text-anchor="middle" font-weight="normal" fill="#111" stroke="#111" stroke-width="0.102" >OHSU</text>
<rect x="544.20" y="690.50" width="12.70" height="24.90" fill="#f9cbab" stroke="#2e2a28" stroke-width="0.7" />
<rect x="544.20" y="707.30" width="12.70" height="8.10" fill="#b3d4c6" stroke="#2e2a28" stroke-width="0.7" />
<line x1="550.55" y1="715.40" x2="550.55" y2="716.80" stroke="#333" stroke-width="0.5" />
<text x="550.55" y="722.20" font-size="4.1" text-anchor="middle" font-weight="normal" fill="#111" stroke="#111" stroke-width="0.102" >GU</text>
<rect x="571.30" y="699.40" width="12.70" height="16.00" fill="#f9cbab" stroke="#2e2a28" stroke-width="0.7" />
<rect x="571.30" y="708.50" width="12.70" height="6.90" fill="#b3d4c6" stroke="#2e2a28" stroke-width="0.7" />
<line x1="577.65" y1="715.40" x2="577.65" y2="716.80" stroke="#333" stroke-width="0.5" />
<text x="577.65" y="722.20" font-size="4.1" text-anchor="middle" font-weight="normal" fill="#111" stroke="#111" stroke-width="0.102" >EMC</text>
<rect x="598.20" y="700.50" width="12.70" height="14.90" fill="#f9cbab" stroke="#2e2a28" stroke-width="0.7" />
<rect x="598.20" y="706.00" width="12.70" height="9.40" fill="#b3d4c6" stroke="#2e2a28" stroke-width="0.7" />
<line x1="604.55" y1="715.40" x2="604.55" y2="716.80" stroke="#333" stroke-width="0.5" />
<text x="604.55" y="722.20" font-size="4.1" text-anchor="middle" font-weight="normal" fill="#111" stroke="#111" stroke-width="0.102" >SDSU</text>
<rect x="625.30" y="700.50" width="12.90" height="14.90" fill="#f9cbab" stroke="#2e2a28" stroke-width="0.7" />
<rect x="625.30" y="711.30" width="12.90" height="4.10" fill="#b3d4c6" stroke="#2e2a28" stroke-width="0.7" />
<line x1="631.75" y1="715.40" x2="631.75" y2="716.80" stroke="#333" stroke-width="0.5" />
<text x="631.75" y="722.20" font-size="4.1" text-anchor="middle" font-weight="normal" fill="#111" stroke="#111" stroke-width="0.102" >SU2</text>
<rect x="652.20" y="703.50" width="13.10" height="11.90" fill="#f9cbab" stroke="#2e2a28" stroke-width="0.7" />
<rect x="652.20" y="709.60" width="13.10" height="5.80" fill="#b3d4c6" stroke="#2e2a28" stroke-width="0.7" />
<line x1="658.75" y1="715.40" x2="658.75" y2="716.80" stroke="#333" stroke-width="0.5" />
<text x="658.75" y="722.20" font-size="4.1" text-anchor="middle" font-weight="normal" fill="#111" stroke="#111" stroke-width="0.102" >UM</text>
<rect x="650.00" y="624.90" width="11.70" height="11.20" fill="#f9cbab" stroke="none" stroke-width="0.8" />
<rect x="650.00" y="644.60" width="11.70" height="11.40" fill="#b3d4c6" stroke="none" stroke-width="0.8" />
<text x="666.80" y="633.40" font-size="7.8" text-anchor="start" font-weight="bold" fill="#111" >H</text>
<text x="667.00" y="653.60" font-size="7.8" text-anchor="start" font-weight="bold" fill="#111" >L</text>
</svg>
</body></html>
